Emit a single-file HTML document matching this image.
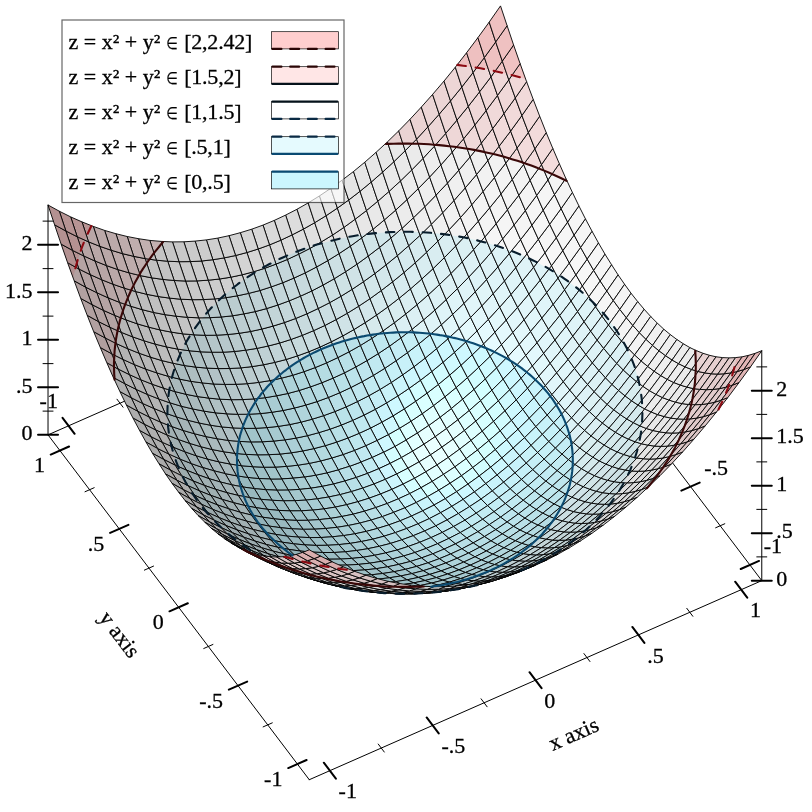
<!DOCTYPE html>
<html><head><meta charset="utf-8"><title>plot</title>
<style>html,body{margin:0;padding:0;background:#fff}svg{display:block}text{font-family:"Liberation Serif",serif;font-size:22px;fill:#000;stroke:#000;stroke-width:0.3px}</style></head><body>
<svg width="812" height="812" viewBox="0 0 812 812">
<rect width="812" height="812" fill="#fff"/>
<g fill="none" stroke="#000" stroke-linecap="round">
<path stroke-width="1" d="M48.03 434.87L500.52 235.78M761.77 580.63L500.52 235.78M123.03 407.19L116.99 399.21M715.64 527.78L724.79 523.75M225.87 361.94L219.84 353.96M656.26 449.4L665.41 445.37M328.71 316.69L322.68 308.71M596.89 371.03L606.04 367M431.56 271.44L425.52 263.46M537.51 292.65L546.66 288.62"/>
<path stroke-width="2" d="M74.63 433.8L62.56 417.85M740.75 568.98L759.05 560.92M177.47 388.55L165.4 372.6M681.37 490.6L699.68 482.55M280.31 343.3L268.24 327.35M622 412.23L640.3 404.17M383.15 298.05L371.08 282.1M562.62 333.85L580.93 325.8M485.99 252.8L473.92 236.85M503.25 255.48L521.55 247.42"/>
</g>
<g><text x="57.9" y="408.2" text-anchor="end">-1</text><text x="763.7" y="553.1">-1</text><text x="704.3" y="474.7">-.5</text></g>
<g stroke="#000000" stroke-width="0.9" stroke-linejoin="round">
<path d="M401.4 457.6L412.7 451.1L406.2 439.9L394.9 446.4Z" fill="#dcffff"/>
<path d="M394.9 446.4L406.2 439.9L399.6 428.2L388.3 434.6Z" fill="#d6ffff"/>
<path d="M406.2 439.9L417.5 433L411 421.2L399.6 428.2Z" fill="#dcffff"/>
<path d="M412.7 451.1L424 444.2L417.5 433L406.2 439.9Z" fill="#e3ffff"/>
<path d="M390.1 463.4L401.4 457.6L394.9 446.4L383.6 452.2Z" fill="#d4fdff"/>
<path d="M383.6 452.2L394.9 446.4L388.3 434.6L377 440.4Z" fill="#cff8ff"/>
<path d="M388.3 434.6L399.6 428.2L393.1 415.8L381.8 422.2Z" fill="#d0f9ff"/>
<path d="M407.9 468.2L419.2 461.8L412.7 451.1L401.4 457.6Z" fill="#e0ffff"/>
<path d="M419.2 461.8L430.6 454.8L424 444.2L412.7 451.1Z" fill="#e7ffff"/>
<path d="M399.6 428.2L411 421.2L404.4 408.8L393.1 415.8Z" fill="#d5ffff"/>
<path d="M417.5 433L428.8 425.4L422.3 413.6L411 421.2Z" fill="#e0ffff"/>
<path d="M424 444.2L435.3 436.6L428.8 425.4L417.5 433Z" fill="#e6ffff"/>
<path d="M377 440.4L388.3 434.6L381.8 422.2L370.5 428.1Z" fill="#caf3fb"/>
<path d="M396.6 474L407.9 468.2L401.4 457.6L390.1 463.4Z" fill="#d7ffff"/>
<path d="M430.6 454.8L441.9 447.2L435.3 436.6L424 444.2Z" fill="#eaffff"/>
<path d="M411 421.2L422.3 413.6L415.7 401.2L404.4 408.8Z" fill="#d8ffff"/>
<path d="M372.2 457.5L383.6 452.2L377 440.4L365.7 445.7Z" fill="#c8f0f8"/>
<path d="M378.8 468.7L390.1 463.4L383.6 452.2L372.2 457.5Z" fill="#cbf4fb"/>
<path d="M381.8 422.2L393.1 415.8L386.6 402.9L375.3 409.3Z" fill="#caf3fb"/>
<path d="M414.5 478.3L425.8 471.8L419.2 461.8L407.9 468.2Z" fill="#e0ffff"/>
<path d="M425.8 471.8L437.1 464.9L430.6 454.8L419.2 461.8Z" fill="#e7ffff"/>
<path d="M393.1 415.8L404.4 408.8L397.9 395.9L386.6 402.9Z" fill="#cef8ff"/>
<path d="M435.3 436.6L446.6 428.5L440.1 417.2L428.8 425.4Z" fill="#e5ffff"/>
<path d="M428.8 425.4L440.1 417.2L433.6 405.5L422.3 413.6Z" fill="#e0ffff"/>
<path d="M385.3 479.3L396.6 474L390.1 463.4L378.8 468.7Z" fill="#cdf6fe"/>
<path d="M365.7 445.7L377 440.4L370.5 428.1L359.2 433.3Z" fill="#c4edf4"/>
<path d="M403.1 484.1L414.5 478.3L407.9 468.2L396.6 474Z" fill="#d7ffff"/>
<path d="M370.5 428.1L381.8 422.2L375.3 409.3L364 415.1Z" fill="#c6eef6"/>
<path d="M437.1 464.9L448.4 457.3L441.9 447.2L430.6 454.8Z" fill="#e9ffff"/>
<path d="M404.4 408.8L415.7 401.2L409.2 388.3L397.9 395.9Z" fill="#d1fbff"/>
<path d="M422.3 413.6L433.6 405.5L427.1 393.1L415.7 401.2Z" fill="#daffff"/>
<path d="M441.9 447.2L453.2 439.1L446.6 428.5L435.3 436.6Z" fill="#e8ffff"/>
<path d="M360.9 462.1L372.2 457.5L365.7 445.7L354.4 450.4Z" fill="#c1e9f1"/>
<path d="M367.5 473.4L378.8 468.7L372.2 457.5L360.9 462.1Z" fill="#c3ecf3"/>
<path d="M359.2 433.3L370.5 428.1L364 415.1L352.6 420.4Z" fill="#c1e9f0"/>
<path d="M391.8 489.4L403.1 484.1L396.6 474L385.3 479.3Z" fill="#cdf6fe"/>
<path d="M421 487.7L432.3 481.3L425.8 471.8L414.5 478.3Z" fill="#dcffff"/>
<path d="M375.3 409.3L386.6 402.9L380.1 389.4L368.7 395.8Z" fill="#c5eef6"/>
<path d="M386.6 402.9L397.9 395.9L391.4 382.4L380.1 389.4Z" fill="#c9f2f9"/>
<path d="M432.3 481.3L443.6 474.3L437.1 464.9L425.8 471.8Z" fill="#e2ffff"/>
<path d="M415.7 401.2L427.1 393.1L420.5 380.2L409.2 388.3Z" fill="#d3fdff"/>
<path d="M448.4 457.3L459.7 449.1L453.2 439.1L441.9 447.2Z" fill="#e7ffff"/>
<path d="M446.6 428.5L458 419.7L451.4 408.5L440.1 417.2Z" fill="#e2ffff"/>
<path d="M440.1 417.2L451.4 408.5L444.9 396.8L433.6 405.5Z" fill="#deffff"/>
<path d="M374 484L385.3 479.3L378.8 468.7L367.5 473.4Z" fill="#c4edf5"/>
<path d="M354.4 450.4L365.7 445.7L359.2 433.3L347.9 438Z" fill="#bfe7ee"/>
<path d="M364 415.1L375.3 409.3L368.7 395.8L357.4 401.6Z" fill="#c2eaf1"/>
<path d="M409.7 493.6L421 487.7L414.5 478.3L403.1 484.1Z" fill="#d4feff"/>
<path d="M443.6 474.3L454.9 466.8L448.4 457.3L437.1 464.9Z" fill="#e3ffff"/>
<path d="M397.9 395.9L409.2 388.3L402.7 374.8L391.4 382.4Z" fill="#ccf5fc"/>
<path d="M453.2 439.1L464.5 430.4L458 419.7L446.6 428.5Z" fill="#e4ffff"/>
<path d="M433.6 405.5L444.9 396.8L438.4 384.4L427.1 393.1Z" fill="#d9ffff"/>
<path d="M347.9 438L359.2 433.3L352.6 420.4L341.3 425.1Z" fill="#bde4eb"/>
<path d="M380.5 494L391.8 489.4L385.3 479.3L374 484Z" fill="#c5eef5"/>
<path d="M398.4 498.8L409.7 493.6L403.1 484.1L391.8 489.4Z" fill="#cbf5fd"/>
<path d="M352.6 420.4L364 415.1L357.4 401.6L346.1 406.9Z" fill="#bee6ed"/>
<path d="M454.9 466.8L466.2 458.6L459.7 449.1L448.4 457.3Z" fill="#e2ffff"/>
<path d="M409.2 388.3L420.5 380.2L414 366.7L402.7 374.8Z" fill="#cdf7fe"/>
<path d="M459.7 449.1L471 440.4L464.5 430.4L453.2 439.1Z" fill="#e2ffff"/>
<path d="M427.1 393.1L438.4 384.4L431.8 371.5L420.5 380.2Z" fill="#d3fdff"/>
<path d="M356.2 477.5L367.5 473.4L360.9 462.1L349.6 466.3Z" fill="#bde5ec"/>
<path d="M349.6 466.3L360.9 462.1L354.4 450.4L343.1 454.5Z" fill="#bce3eb"/>
<path d="M368.7 395.8L380.1 389.4L373.5 375.3L362.2 381.7Z" fill="#c2eaf1"/>
<path d="M427.5 496.6L438.8 490.2L432.3 481.3L421 487.7Z" fill="#d6ffff"/>
<path d="M438.8 490.2L450.1 483.2L443.6 474.3L432.3 481.3Z" fill="#daffff"/>
<path d="M380.1 389.4L391.4 382.4L384.8 368.3L373.5 375.3Z" fill="#c4edf5"/>
<path d="M362.7 488.1L374 484L367.5 473.4L356.2 477.5Z" fill="#bee6ee"/>
<path d="M343.1 454.5L354.4 450.4L347.9 438L336.6 442.1Z" fill="#bae2e9"/>
<path d="M451.4 408.5L462.7 399.2L456.2 387.5L444.9 396.8Z" fill="#dbffff"/>
<path d="M458 419.7L469.3 410.5L462.7 399.2L451.4 408.5Z" fill="#ddffff"/>
<path d="M416.2 502.5L427.5 496.6L421 487.7L409.7 493.6Z" fill="#cff9ff"/>
<path d="M357.4 401.6L368.7 395.8L362.2 381.7L350.9 387.5Z" fill="#bfe6ee"/>
<path d="M391.4 382.4L402.7 374.8L396.1 360.7L384.8 368.3Z" fill="#c7f0f7"/>
<path d="M450.1 483.2L461.5 475.7L454.9 466.8L443.6 474.3Z" fill="#dcffff"/>
<path d="M444.9 396.8L456.2 387.5L449.7 375.1L438.4 384.4Z" fill="#d7ffff"/>
<path d="M464.5 430.4L475.8 421.1L469.3 410.5L458 419.7Z" fill="#deffff"/>
<path d="M387.1 503.5L398.4 498.8L391.8 489.4L380.5 494Z" fill="#c4edf4"/>
<path d="M341.3 425.1L352.6 420.4L346.1 406.9L334.8 411.6Z" fill="#bae2e9"/>
<path d="M466.2 458.6L477.6 449.9L471 440.4L459.7 449.1Z" fill="#deffff"/>
<path d="M420.5 380.2L431.8 371.5L425.3 358L414 366.7Z" fill="#cef7ff"/>
<path d="M369.2 498.2L380.5 494L374 484L362.7 488.1Z" fill="#bee7ee"/>
<path d="M336.6 442.1L347.9 438L341.3 425.1L330 429.2Z" fill="#b9e0e7"/>
<path d="M404.9 507.8L416.2 502.5L409.7 493.6L398.4 498.8Z" fill="#c8f2fa"/>
<path d="M346.1 406.9L357.4 401.6L350.9 387.5L339.6 392.8Z" fill="#bce3ea"/>
<path d="M461.5 475.7L472.8 467.5L466.2 458.6L454.9 466.8Z" fill="#dbffff"/>
<path d="M402.7 374.8L414 366.7L407.5 352.6L396.1 360.7Z" fill="#c8f1f9"/>
<path d="M471 440.4L482.3 431.1L475.8 421.1L464.5 430.4Z" fill="#ddffff"/>
<path d="M438.4 384.4L449.7 375.1L443.1 362.2L431.8 371.5Z" fill="#d2fcff"/>
<path d="M338.3 469.8L349.6 466.3L343.1 454.5L331.8 458Z" fill="#b8dee6"/>
<path d="M344.8 481L356.2 477.5L349.6 466.3L338.3 469.8Z" fill="#b8dfe7"/>
<path d="M434.1 505L445.4 498.6L438.8 490.2L427.5 496.6Z" fill="#cff9ff"/>
<path d="M362.2 381.7L373.5 375.3L367 360.6L355.7 367Z" fill="#bfe6ee"/>
<path d="M373.5 375.3L384.8 368.3L378.3 353.6L367 360.6Z" fill="#c1e9f1"/>
<path d="M445.4 498.6L456.7 491.6L450.1 483.2L438.8 490.2Z" fill="#d2fdff"/>
<path d="M351.4 491.6L362.7 488.1L356.2 477.5L344.8 481Z" fill="#b9e0e8"/>
<path d="M331.8 458L343.1 454.5L336.6 442.1L325.2 445.7Z" fill="#b6dde4"/>
<path d="M330 429.2L341.3 425.1L334.8 411.6L323.5 415.7Z" fill="#b7dee5"/>
<path d="M375.7 507.6L387.1 503.5L380.5 494L369.2 498.2Z" fill="#bee6ee"/>
<path d="M393.6 512.4L404.9 507.8L398.4 498.8L387.1 503.5Z" fill="#c2ebf3"/>
<path d="M334.8 411.6L346.1 406.9L339.6 392.8L328.3 397.5Z" fill="#b9dfe7"/>
<path d="M462.7 399.2L474.1 389.4L467.5 377.6L456.2 387.5Z" fill="#d7ffff"/>
<path d="M469.3 410.5L480.6 400.6L474.1 389.4L462.7 399.2Z" fill="#d9ffff"/>
<path d="M422.7 510.8L434.1 505L427.5 496.6L416.2 502.5Z" fill="#caf4fc"/>
<path d="M350.9 387.5L362.2 381.7L355.7 367L344.4 372.9Z" fill="#bce4eb"/>
<path d="M456.7 491.6L468 484L461.5 475.7L450.1 483.2Z" fill="#d4feff"/>
<path d="M384.8 368.3L396.1 360.7L389.6 346.1L378.3 353.6Z" fill="#c3ebf3"/>
<path d="M414 366.7L425.3 358L418.8 343.9L407.5 352.6Z" fill="#c9f3fa"/>
<path d="M472.8 467.5L484.1 458.8L477.6 449.9L466.2 458.6Z" fill="#d8ffff"/>
<path d="M477.6 449.9L488.9 440.6L482.3 431.1L471 440.4Z" fill="#d9ffff"/>
<path d="M431.8 371.5L443.1 362.2L436.6 348.7L425.3 358Z" fill="#cef7ff"/>
<path d="M475.8 421.1L487.1 411.2L480.6 400.6L469.3 410.5Z" fill="#d9ffff"/>
<path d="M456.2 387.5L467.5 377.6L461 365.2L449.7 375.1Z" fill="#d4feff"/>
<path d="M357.9 501.7L369.2 498.2L362.7 488.1L351.4 491.6Z" fill="#b9e1e8"/>
<path d="M325.2 445.7L336.6 442.1L330 429.2L318.7 432.7Z" fill="#b5dbe3"/>
<path d="M339.6 392.8L350.9 387.5L344.4 372.9L333.1 378.1Z" fill="#b9e1e8"/>
<path d="M411.4 516.1L422.7 510.8L416.2 502.5L404.9 507.8Z" fill="#c5eff6"/>
<path d="M468 484L479.3 475.9L472.8 467.5L461.5 475.7Z" fill="#d3feff"/>
<path d="M396.1 360.7L407.5 352.6L400.9 337.9L389.6 346.1Z" fill="#c5edf5"/>
<path d="M449.7 375.1L461 365.2L454.5 352.3L443.1 362.2Z" fill="#d0faff"/>
<path d="M482.3 431.1L493.6 421.3L487.1 411.2L475.8 421.1Z" fill="#d7ffff"/>
<path d="M382.3 516.6L393.6 512.4L387.1 503.5L375.7 507.6Z" fill="#bde5ed"/>
<path d="M323.5 415.7L334.8 411.6L328.3 397.5L317 401.6Z" fill="#b6dce3"/>
<path d="M333.5 484L344.8 481L338.3 469.8L327 472.8Z" fill="#b4dae2"/>
<path d="M327 472.8L338.3 469.8L331.8 458L320.5 461Z" fill="#b4dae1"/>
<path d="M364.4 511.2L375.7 507.6L369.2 498.2L357.9 501.7Z" fill="#b9e0e8"/>
<path d="M318.7 432.7L330 429.2L323.5 415.7L312.2 419.2Z" fill="#b4dae1"/>
<path d="M484.1 458.8L495.4 449.5L488.9 440.6L477.6 449.9Z" fill="#d5ffff"/>
<path d="M425.3 358L436.6 348.7L430.1 334.6L418.8 343.9Z" fill="#caf3fb"/>
<path d="M400.1 520.8L411.4 516.1L404.9 507.8L393.6 512.4Z" fill="#c1e9f1"/>
<path d="M328.3 397.5L339.6 392.8L333.1 378.1L321.7 382.8Z" fill="#b7dde5"/>
<path d="M440.6 512.7L451.9 506.3L445.4 498.6L434.1 505Z" fill="#c9f3fb"/>
<path d="M355.7 367L367 360.6L360.5 345.4L349.1 351.8Z" fill="#bce4eb"/>
<path d="M451.9 506.3L463.2 499.3L456.7 491.6L445.4 498.6Z" fill="#ccf6fe"/>
<path d="M367 360.6L378.3 353.6L371.8 338.4L360.5 345.4Z" fill="#bee6ed"/>
<path d="M340.1 494.6L351.4 491.6L344.8 481L333.5 484Z" fill="#b5dbe2"/>
<path d="M320.5 461L331.8 458L325.2 445.7L313.9 448.6Z" fill="#b3d9e0"/>
<path d="M479.3 475.9L490.6 467.2L484.1 458.8L472.8 467.5Z" fill="#d2fdff"/>
<path d="M407.5 352.6L418.8 343.9L412.2 329.2L400.9 337.9Z" fill="#c6eff6" stroke="none"/>
<path d="M413.7 332.5L412.2 329.2L408.1 332.4Z" fill="#def3f7" stroke="none"/>
<path d="M407.5 352.6L418.8 343.9L412.2 329.2L400.9 337.9Z" fill="none"/>
<path d="M488.9 440.6L500.2 430.8L493.6 421.3L482.3 431.1Z" fill="#d5ffff"/>
<path d="M443.1 362.2L454.5 352.3L447.9 338.8L436.6 348.7Z" fill="#cdf7fe"/>
<path d="M474.1 389.4L485.4 378.9L478.8 367.2L467.5 377.6Z" fill="#d3fdff"/>
<path d="M480.6 400.6L491.9 390.2L485.4 378.9L474.1 389.4Z" fill="#d4ffff"/>
<path d="M429.3 518.6L440.6 512.7L434.1 505L422.7 510.8Z" fill="#c6f0f7"/>
<path d="M344.4 372.9L355.7 367L349.1 351.8L337.8 357.6Z" fill="#bae1e8"/>
<path d="M463.2 499.3L474.5 491.8L468 484L456.7 491.6Z" fill="#cdf8ff"/>
<path d="M378.3 353.6L389.6 346.1L383.1 330.8L371.8 338.4Z" fill="#c0e8f0" stroke="none"/>
<path d="M384.1 333.3L383.1 330.8L378.4 334Z" fill="#d8ecf0" stroke="none"/>
<path d="M378.3 353.6L389.6 346.1L383.1 330.8L371.8 338.4Z" fill="none"/>
<path d="M467.5 377.6L478.8 367.2L472.3 354.8L461 365.2Z" fill="#d1fbff"/>
<path d="M487.1 411.2L498.4 400.8L491.9 390.2L480.6 400.6Z" fill="#d4ffff"/>
<path d="M346.6 504.7L357.9 501.7L351.4 491.6L340.1 494.6Z" fill="#b5dbe2"/>
<path d="M313.9 448.6L325.2 445.7L318.7 432.7L307.4 435.7Z" fill="#b2d7de"/>
<path d="M418 523.8L429.3 518.6L422.7 510.8L411.4 516.1Z" fill="#c2ebf3"/>
<path d="M333.1 378.1L344.4 372.9L337.8 357.6L326.5 362.9Z" fill="#b8dee6"/>
<path d="M474.5 491.8L485.8 483.6L479.3 475.9L468 484Z" fill="#cef8ff"/>
<path d="M389.6 346.1L400.9 337.9L394.4 322.7L383.1 330.8Z" fill="#c1eaf1" stroke="none"/>
<path d="M398.6 332.4L394.4 322.7L383.1 330.8L384.1 333.3Z" fill="#daeef2" stroke="none"/>
<path d="M389.6 346.1L400.9 337.9L394.4 322.7L383.1 330.8Z" fill="none"/>
<path d="M312.2 419.2L323.5 415.7L317 401.6L305.7 405.1Z" fill="#b3d8df"/>
<path d="M371 520.1L382.3 516.6L375.7 507.6L364.4 511.2Z" fill="#b9e0e7"/>
<path d="M388.8 524.9L400.1 520.8L393.6 512.4L382.3 516.6Z" fill="#bce4eb"/>
<path d="M317 401.6L328.3 397.5L321.7 382.8L310.4 386.9Z" fill="#b4dae1"/>
<path d="M493.6 421.3L505 410.8L498.4 400.8L487.1 411.2Z" fill="#d3feff"/>
<path d="M461 365.2L472.3 354.8L465.8 341.9L454.5 352.3Z" fill="#cef8ff"/>
<path d="M490.6 467.2L501.9 457.9L495.4 449.5L484.1 458.8Z" fill="#d0fbff"/>
<path d="M418.8 343.9L430.1 334.6L423.6 319.9L412.2 329.2Z" fill="#c6eff7" stroke="none"/>
<path d="M429.7 333.7L423.6 319.9L412.2 329.2L413.7 332.5Z" fill="#dff4f7" stroke="none"/>
<path d="M418.8 343.9L430.1 334.6L423.6 319.9L412.2 329.2Z" fill="none"/>
<path d="M495.4 449.5L506.7 439.7L500.2 430.8L488.9 440.6Z" fill="#d1fcff"/>
<path d="M436.6 348.7L447.9 338.8L441.4 324.7L430.1 334.6Z" fill="#caf3fb" stroke="none"/>
<path d="M446.8 336.4L441.4 324.7L430.9 333.8Z" fill="#e3f7fb" stroke="none"/>
<path d="M436.6 348.7L447.9 338.8L441.4 324.7L430.1 334.6Z" fill="none"/>
<path d="M353.1 514.2L364.4 511.2L357.9 501.7L346.6 504.7Z" fill="#b5dbe2"/>
<path d="M307.4 435.7L318.7 432.7L312.2 419.2L300.9 422.2Z" fill="#b1d6dd"/>
<path d="M406.7 528.5L418 523.8L411.4 516.1L400.1 520.8Z" fill="#bfe7ee"/>
<path d="M321.7 382.8L333.1 378.1L326.5 362.9L315.2 367.6Z" fill="#b5dce3"/>
<path d="M322.2 486.4L333.5 484L327 472.8L315.7 475.2Z" fill="#b0d6dc"/>
<path d="M315.7 475.2L327 472.8L320.5 461L309.2 463.4Z" fill="#b0d5dc"/>
<path d="M485.8 483.6L497.1 474.9L490.6 467.2L479.3 475.9Z" fill="#cdf8ff"/>
<path d="M400.9 337.9L412.2 329.2L405.7 314L394.4 322.7Z" fill="#c3ebf3" stroke="none"/>
<path d="M408.1 332.4L412.2 329.2L405.7 314L394.4 322.7L398.6 332.4Z" fill="#dbeff3" stroke="none"/>
<path d="M400.9 337.9L412.2 329.2L405.7 314L394.4 322.7Z" fill="none"/>
<path d="M500.2 430.8L511.5 420.3L505 410.8L493.6 421.3Z" fill="#d1fcff"/>
<path d="M454.5 352.3L465.8 341.9L459.2 328.4L447.9 338.8Z" fill="#ccf5fd" stroke="none"/>
<path d="M465.3 340.9L459.2 328.4L449.9 337Z" fill="#e5fafe" stroke="none"/>
<path d="M454.5 352.3L465.8 341.9L459.2 328.4L447.9 338.8Z" fill="none"/>
<path d="M447.1 519.9L458.4 513.5L451.9 506.3L440.6 512.7Z" fill="#c5eff7"/>
<path d="M349.1 351.8L360.5 345.4L353.9 329.6L342.6 336Z" fill="#bae1e9" stroke="none"/>
<path d="M357.3 337.6L353.9 329.6L342.6 336L344.6 340.9Z" fill="#d2e5e9" stroke="none"/>
<path d="M349.1 351.8L360.5 345.4L353.9 329.6L342.6 336Z" fill="none"/>
<path d="M458.4 513.5L469.7 506.5L463.2 499.3L451.9 506.3Z" fill="#c7f1f9"/>
<path d="M360.5 345.4L371.8 338.4L365.2 322.6L353.9 329.6Z" fill="#bce3eb" stroke="none"/>
<path d="M370.4 335.1L365.2 322.6L353.9 329.6L357.3 337.6Z" fill="#d4e8eb" stroke="none"/>
<path d="M360.5 345.4L371.8 338.4L365.2 322.6L353.9 329.6Z" fill="none"/>
<path d="M328.7 497L340.1 494.6L333.5 484L322.2 486.4Z" fill="#b1d6dd"/>
<path d="M309.2 463.4L320.5 461L313.9 448.6L302.6 451Z" fill="#afd4db"/>
<path d="M435.8 525.8L447.1 519.9L440.6 512.7L429.3 518.6Z" fill="#c3ecf4"/>
<path d="M337.8 357.6L349.1 351.8L342.6 336L331.3 341.8Z" fill="#b8dfe6" stroke="none"/>
<path d="M344.6 340.9L342.6 336L331.3 341.8L332.5 344.8Z" fill="#d0e3e7" stroke="none"/>
<path d="M337.8 357.6L349.1 351.8L342.6 336L331.3 341.8Z" fill="none"/>
<path d="M485.4 378.9L496.7 367.9L490.1 356.2L478.8 367.2Z" fill="#d0faff"/>
<path d="M491.9 390.2L503.2 379.1L496.7 367.9L485.4 378.9Z" fill="#d0fbff"/>
<path d="M469.7 506.5L481.1 499L474.5 491.8L463.2 499.3Z" fill="#c9f3fb"/>
<path d="M371.8 338.4L383.1 330.8L376.6 315L365.2 322.6Z" fill="#bee5ed" stroke="none"/>
<path d="M378.4 334L383.1 330.8L376.6 315L365.2 322.6L370.4 335.1Z" fill="#d6eaed" stroke="none"/>
<path d="M371.8 338.4L383.1 330.8L376.6 315L365.2 322.6Z" fill="none"/>
<path d="M377.5 528.4L388.8 524.9L382.3 516.6L371 520.1Z" fill="#b8dfe6"/>
<path d="M305.7 405.1L317 401.6L310.4 386.9L299.1 390.5Z" fill="#b1d7de"/>
<path d="M498.4 400.8L509.7 389.8L503.2 379.1L491.9 390.2Z" fill="#d0fbff"/>
<path d="M478.8 367.2L490.1 356.2L483.6 343.8L472.3 354.8Z" fill="#cef9ff" stroke="none"/>
<path d="M486 348.3L483.6 343.8L481.1 346.3Z" fill="#e8fdff" stroke="none"/>
<path d="M478.8 367.2L490.1 356.2L483.6 343.8L472.3 354.8Z" fill="none"/>
<path d="M335.3 507.1L346.6 504.7L340.1 494.6L328.7 497Z" fill="#b1d6dd"/>
<path d="M302.6 451L313.9 448.6L307.4 435.7L296.1 438.1Z" fill="#aed3da"/>
<path d="M359.7 523.1L371 520.1L364.4 511.2L353.1 514.2Z" fill="#b4dae2"/>
<path d="M300.9 422.2L312.2 419.2L305.7 405.1L294.3 408.1Z" fill="#b0d5dc"/>
<path d="M395.3 532.6L406.7 528.5L400.1 520.8L388.8 524.9Z" fill="#bbe2e9"/>
<path d="M310.4 386.9L321.7 382.8L315.2 367.6L303.9 371.7Z" fill="#b3d9e0"/>
<path d="M501.9 457.9L513.2 448L506.7 439.7L495.4 449.5Z" fill="#cef9ff"/>
<path d="M430.1 334.6L441.4 324.7L434.9 310.1L423.6 319.9Z" fill="#c7f0f7" stroke="none"/>
<path d="M430.9 333.8L441.4 324.7L434.9 310.1L423.6 319.9L429.7 333.7Z" fill="#dff4f8" stroke="none"/>
<path d="M430.1 334.6L441.4 324.7L434.9 310.1L423.6 319.9Z" fill="none"/>
<path d="M424.5 531L435.8 525.8L429.3 518.6L418 523.8Z" fill="#c0e8f0"/>
<path d="M326.5 362.9L337.8 357.6L331.3 341.8L320 347.1Z" fill="#b6dce4" stroke="none"/>
<path d="M332.5 344.8L331.3 341.8L320 347.1L321 349.5Z" fill="#cde1e4" stroke="none"/>
<path d="M326.5 362.9L337.8 357.6L331.3 341.8L320 347.1Z" fill="none"/>
<path d="M481.1 499L492.4 490.8L485.8 483.6L474.5 491.8Z" fill="#c9f3fb"/>
<path d="M383.1 330.8L394.4 322.7L387.9 306.9L376.6 315Z" fill="#d7ebef"/>
<path d="M497.1 474.9L508.5 465.6L501.9 457.9L490.6 467.2Z" fill="#ccf7fe"/>
<path d="M412.2 329.2L423.6 319.9L417 304.7L405.7 314Z" fill="#dcf0f4"/>
<path d="M506.7 439.7L518 429.2L511.5 420.3L500.2 430.8Z" fill="#cff9ff"/>
<path d="M447.9 338.8L459.2 328.4L452.7 314.3L441.4 324.7Z" fill="#c9f2fa" stroke="none"/>
<path d="M449.9 337L459.2 328.4L452.7 314.3L441.4 324.7L446.8 336.4Z" fill="#e2f7fb" stroke="none"/>
<path d="M447.9 338.8L459.2 328.4L452.7 314.3L441.4 324.7Z" fill="none"/>
<path d="M505 410.8L516.3 399.8L509.7 389.8L498.4 400.8Z" fill="#d0faff"/>
<path d="M472.3 354.8L483.6 343.8L477.1 330.9L465.8 341.9Z" fill="#cdf6fe" stroke="none"/>
<path d="M481.1 346.3L483.6 343.8L477.1 330.9L466.5 341.2Z" fill="#e6fbff" stroke="none"/>
<path d="M472.3 354.8L483.6 343.8L477.1 330.9L465.8 341.9Z" fill="none"/>
<path d="M341.8 516.5L353.1 514.2L346.6 504.7L335.3 507.1Z" fill="#b0d6dd"/>
<path d="M296.1 438.1L307.4 435.7L300.9 422.2L289.6 424.6Z" fill="#aed2d9"/>
<path d="M413.2 535.7L424.5 531L418 523.8L406.7 528.5Z" fill="#bce4ec"/>
<path d="M315.2 367.6L326.5 362.9L320 347.1L308.7 351.8Z" fill="#b4dae1" stroke="none"/>
<path d="M321 349.5L320 347.1L308.7 351.8L309.9 354.8Z" fill="#cbdee1" stroke="none"/>
<path d="M315.2 367.6L326.5 362.9L320 347.1L308.7 351.8Z" fill="none"/>
<path d="M492.4 490.8L503.7 482.1L497.1 474.9L485.8 483.6Z" fill="#c9f3fb"/>
<path d="M394.4 322.7L405.7 314L399.2 298.2L387.9 306.9Z" fill="#d9edf0"/>
<path d="M511.5 420.3L522.8 409.3L516.3 399.8L505 410.8Z" fill="#cef9ff"/>
<path d="M465.8 341.9L477.1 330.9L470.6 317.4L459.2 328.4Z" fill="#caf4fc" stroke="none"/>
<path d="M466.5 341.2L477.1 330.9L470.6 317.4L459.2 328.4L465.3 340.9Z" fill="#e4f9fc" stroke="none"/>
<path d="M465.8 341.9L477.1 330.9L470.6 317.4L459.2 328.4Z" fill="none"/>
<path d="M310.9 488.2L322.2 486.4L315.7 475.2L304.4 477Z" fill="#acd1d8"/>
<path d="M304.4 477L315.7 475.2L309.2 463.4L297.8 465.2Z" fill="#acd0d7"/>
<path d="M294.3 408.1L305.7 405.1L299.1 390.5L287.8 393.5Z" fill="#afd4db"/>
<path d="M366.2 531.4L377.5 528.4L371 520.1L359.7 523.1Z" fill="#b3d9e1"/>
<path d="M384 536.2L395.3 532.6L388.8 524.9L377.5 528.4Z" fill="#b6dde4"/>
<path d="M299.1 390.5L310.4 386.9L303.9 371.7L292.6 375.3Z" fill="#b0d6dd"/>
<path d="M453.6 526.5L465 520.1L458.4 513.5L447.1 519.9Z" fill="#c2ebf3"/>
<path d="M342.6 336L353.9 329.6L347.4 313.2L336.1 319.6Z" fill="#d0e3e7"/>
<path d="M317.4 498.8L328.7 497L322.2 486.4L310.9 488.2Z" fill="#acd1d8"/>
<path d="M297.8 465.2L309.2 463.4L302.6 451L291.3 452.8Z" fill="#acd0d7"/>
<path d="M465 520.1L476.3 513.1L469.7 506.5L458.4 513.5Z" fill="#c4edf5"/>
<path d="M353.9 329.6L365.2 322.6L358.7 306.2L347.4 313.2Z" fill="#d2e5e9"/>
<path d="M508.5 465.6L519.8 455.8L513.2 448L501.9 457.9Z" fill="#cbf5fd"/>
<path d="M423.6 319.9L434.9 310.1L428.3 294.8L417 304.7Z" fill="#ddf1f5"/>
<path d="M513.2 448L524.6 437.6L518 429.2L506.7 439.7Z" fill="#ccf7fe"/>
<path d="M441.4 324.7L452.7 314.3L446.2 299.6L434.9 310.1Z" fill="#dff4f8"/>
<path d="M442.3 532.4L453.6 526.5L447.1 519.9L435.8 525.8Z" fill="#c0e9f0"/>
<path d="M331.3 341.8L342.6 336L336.1 319.6L324.8 325.5Z" fill="#cee1e5"/>
<path d="M496.7 367.9L508 356.3L501.5 344.6L490.1 356.2Z" fill="#cdf7ff" stroke="none"/>
<path d="M506.2 358.2L508 356.3L501.5 344.6L494.2 352Z" fill="#e7fcff" stroke="none"/>
<path d="M496.7 367.9L508 356.3L501.5 344.6L490.1 356.2Z" fill="none"/>
<path d="M503.2 379.1L514.5 367.6L508 356.3L496.7 367.9Z" fill="#cef8ff" stroke="none"/>
<path d="M510.7 361L508 356.3L506.2 358.2Z" fill="#e7fcff" stroke="none"/>
<path d="M503.2 379.1L514.5 367.6L508 356.3L496.7 367.9Z" fill="none"/>
<path d="M348.3 525.5L359.7 523.1L353.1 514.2L341.8 516.5Z" fill="#b0d5dc"/>
<path d="M289.6 424.6L300.9 422.2L294.3 408.1L283 410.5Z" fill="#add1d8"/>
<path d="M476.3 513.1L487.6 505.6L481.1 499L469.7 506.5Z" fill="#c5eff7"/>
<path d="M365.2 322.6L376.6 315L370 298.7L358.7 306.2Z" fill="#d3e7eb"/>
<path d="M401.9 539.8L413.2 535.7L406.7 528.5L395.3 532.6Z" fill="#b9e0e7"/>
<path d="M303.9 371.7L315.2 367.6L308.7 351.8L297.4 355.9Z" fill="#b2d7de" stroke="none"/>
<path d="M309.9 354.8L308.7 351.8L297.4 355.9L299.4 360.8Z" fill="#c8dbdf" stroke="none"/>
<path d="M303.9 371.7L315.2 367.6L308.7 351.8L297.4 355.9Z" fill="none"/>
<path d="M509.7 389.8L521.1 378.2L514.5 367.6L503.2 379.1Z" fill="#cdf8ff"/>
<path d="M490.1 356.2L501.5 344.6L494.9 332.2L483.6 343.8Z" fill="#ccf6fe" stroke="none"/>
<path d="M494.2 352L501.5 344.6L494.9 332.2L483.6 343.8L486 348.3Z" fill="#e6fbff" stroke="none"/>
<path d="M490.1 356.2L501.5 344.6L494.9 332.2L483.6 343.8Z" fill="none"/>
<path d="M324 508.9L335.3 507.1L328.7 497L317.4 498.8Z" fill="#acd1d8"/>
<path d="M291.3 452.8L302.6 451L296.1 438.1L284.8 439.9Z" fill="#abcfd6"/>
<path d="M503.7 482.1L515 472.8L508.5 465.6L497.1 474.9Z" fill="#c9f3fb"/>
<path d="M405.7 314L417 304.7L410.5 288.9L399.2 298.2Z" fill="#daeef1"/>
<path d="M431 537.6L442.3 532.4L435.8 525.8L424.5 531Z" fill="#bde5ed"/>
<path d="M320 347.1L331.3 341.8L324.8 325.5L313.5 330.7Z" fill="#ccdfe2"/>
<path d="M518 429.2L529.3 418.2L522.8 409.3L511.5 420.3Z" fill="#ccf7ff"/>
<path d="M459.2 328.4L470.6 317.4L464 303.3L452.7 314.3Z" fill="#e1f6fa"/>
<path d="M487.6 505.6L498.9 497.4L492.4 490.8L481.1 499Z" fill="#c6f0f8"/>
<path d="M376.6 315L387.9 306.9L381.3 290.5L370 298.7Z" fill="#d5e9ed"/>
<path d="M516.3 399.8L527.6 388.2L521.1 378.2L509.7 389.8Z" fill="#cdf7ff"/>
<path d="M483.6 343.8L494.9 332.2L488.4 319.3L477.1 330.9Z" fill="#e4f9fd"/>
<path d="M284.8 439.9L296.1 438.1L289.6 424.6L278.2 426.4Z" fill="#aaced5"/>
<path d="M330.5 518.4L341.8 516.5L335.3 507.1L324 508.9Z" fill="#acd1d7"/>
<path d="M372.7 539.2L384 536.2L377.5 528.4L366.2 531.4Z" fill="#b2d8df"/>
<path d="M287.8 393.5L299.1 390.5L292.6 375.3L281.3 378.2Z" fill="#aed3d9"/>
<path d="M419.7 542.3L431 537.6L424.5 531L413.2 535.7Z" fill="#bae2e9"/>
<path d="M308.7 351.8L320 347.1L313.5 330.7L302.2 335.4Z" fill="#c9dce0"/>
<path d="M354.9 533.8L366.2 531.4L359.7 523.1L348.3 525.5Z" fill="#afd4db"/>
<path d="M283 410.5L294.3 408.1L287.8 393.5L276.5 395.8Z" fill="#acd0d7"/>
<path d="M390.6 543.4L401.9 539.8L395.3 532.6L384 536.2Z" fill="#b5dbe2"/>
<path d="M292.6 375.3L303.9 371.7L297.4 355.9L286.1 359.5Z" fill="#afd4db" stroke="none"/>
<path d="M299.4 360.8L297.4 355.9L286.1 359.5L289.4 367.5Z" fill="#c6d8dc" stroke="none"/>
<path d="M292.6 375.3L303.9 371.7L297.4 355.9L286.1 359.5Z" fill="none"/>
<path d="M498.9 497.4L510.2 488.7L503.7 482.1L492.4 490.8Z" fill="#c6f0f8"/>
<path d="M387.9 306.9L399.2 298.2L392.6 281.8L381.3 290.5Z" fill="#d6eaee"/>
<path d="M519.8 455.8L531.1 445.3L524.6 437.6L513.2 448Z" fill="#caf4fc"/>
<path d="M434.9 310.1L446.2 299.6L439.6 284.4L428.3 294.8Z" fill="#ddf1f5"/>
<path d="M522.8 409.3L534.1 397.7L527.6 388.2L516.3 399.8Z" fill="#ccf6fe"/>
<path d="M477.1 330.9L488.4 319.3L481.9 305.8L470.6 317.4Z" fill="#e2f7fb"/>
<path d="M515 472.8L526.3 463L519.8 455.8L508.5 465.6Z" fill="#c8f2fa"/>
<path d="M417 304.7L428.3 294.8L421.8 279L410.5 288.9Z" fill="#daeff2"/>
<path d="M524.6 437.6L535.9 426.6L529.3 418.2L518 429.2Z" fill="#caf5fd"/>
<path d="M452.7 314.3L464 303.3L457.5 288.6L446.2 299.6Z" fill="#dff4f8"/>
<path d="M293.1 478.2L304.4 477L297.8 465.2L286.5 466.4Z" fill="#a8ccd3"/>
<path d="M299.6 489.4L310.9 488.2L304.4 477L293.1 478.2Z" fill="#a9ccd3"/>
<path d="M286.5 466.4L297.8 465.2L291.3 452.8L280 454.1Z" fill="#a8ccd2"/>
<path d="M306.1 500.1L317.4 498.8L310.9 488.2L299.6 489.4Z" fill="#a9ccd3"/>
<path d="M460.2 532.6L471.5 526.2L465 520.1L453.6 526.5Z" fill="#bfe8f0"/>
<path d="M336.1 319.6L347.4 313.2L340.9 296.3L329.6 302.7Z" fill="#cee1e5"/>
<path d="M337 527.3L348.3 525.5L341.8 516.5L330.5 518.4Z" fill="#acd0d7"/>
<path d="M278.2 426.4L289.6 424.6L283 410.5L271.7 412.3Z" fill="#aaced4"/>
<path d="M471.5 526.2L482.8 519.2L476.3 513.1L465 520.1Z" fill="#c1eaf2"/>
<path d="M347.4 313.2L358.7 306.2L352.2 289.3L340.9 296.3Z" fill="#d0e3e7"/>
<path d="M408.4 546.4L419.7 542.3L413.2 535.7L401.9 539.8Z" fill="#b7dde5"/>
<path d="M297.4 355.9L308.7 351.8L302.2 335.4L290.8 339.5Z" fill="#c7dadd"/>
<path d="M448.9 538.4L460.2 532.6L453.6 526.5L442.3 532.4Z" fill="#bde5ed"/>
<path d="M324.8 325.5L336.1 319.6L329.6 302.7L318.2 308.5Z" fill="#ccdfe3"/>
<path d="M514.5 367.6L525.8 355.4L519.3 344.2L508 356.3Z" fill="#cbf5fd" stroke="none"/>
<path d="M516.9 365L525.8 355.4L519.3 344.2L508 356.3L510.7 361Z" fill="#e5fafe" stroke="none"/>
<path d="M514.5 367.6L525.8 355.4L519.3 344.2L508 356.3Z" fill="none"/>
<path d="M508 356.3L519.3 344.2L512.8 332.4L501.5 344.6Z" fill="#e4fafd"/>
<path d="M358.7 306.2L370 298.7L363.5 281.7L352.2 289.3Z" fill="#d2e5e9"/>
<path d="M482.8 519.2L494.1 511.6L487.6 505.6L476.3 513.1Z" fill="#c2ecf3"/>
<path d="M510.2 488.7L521.5 479.4L515 472.8L503.7 482.1Z" fill="#c6f0f8"/>
<path d="M399.2 298.2L410.5 288.9L404 272.5L392.6 281.8Z" fill="#d7ebef"/>
<path d="M312.7 510.1L324 508.9L317.4 498.8L306.1 500.1Z" fill="#a8ccd3"/>
<path d="M280 454.1L291.3 452.8L284.8 439.9L273.5 441.1Z" fill="#a8cbd2"/>
<path d="M470.6 317.4L481.9 305.8L475.3 291.7L464 303.3Z" fill="#e1f5f9"/>
<path d="M529.3 418.2L540.6 406.6L534.1 397.7L522.8 409.3Z" fill="#caf5fd"/>
<path d="M501.5 344.6L512.8 332.4L506.2 320L494.9 332.2Z" fill="#e4f9fd"/>
<path d="M521.1 378.2L532.4 366L525.8 355.4L514.5 367.6Z" fill="#cbf5fd" stroke="none"/>
<path d="M526.6 372.2L532.4 366L525.8 355.4L516.9 365Z" fill="#e5fafe" stroke="none"/>
<path d="M521.1 378.2L532.4 366L525.8 355.4L514.5 367.6Z" fill="none"/>
<path d="M437.6 543.7L448.9 538.4L442.3 532.4L431 537.6Z" fill="#bbe2ea"/>
<path d="M313.5 330.7L324.8 325.5L318.2 308.5L306.9 313.8Z" fill="#cadde1"/>
<path d="M361.4 541.5L372.7 539.2L366.2 531.4L354.9 533.8Z" fill="#aed3da"/>
<path d="M276.5 395.8L287.8 393.5L281.3 378.2L270 380.6Z" fill="#abcfd6" stroke="none"/>
<path d="M274.6 379.6L270 380.6L271 383.1Z" fill="#c1d3d7" stroke="none"/>
<path d="M276.5 395.8L287.8 393.5L281.3 378.2L270 380.6Z" fill="none"/>
<path d="M379.2 546.3L390.6 543.4L384 536.2L372.7 539.2Z" fill="#b1d6dd"/>
<path d="M281.3 378.2L292.6 375.3L286.1 359.5L274.7 362.4Z" fill="#add1d8" stroke="none"/>
<path d="M289.4 367.5L286.1 359.5L274.7 362.4L279.9 374.9Z" fill="#c3d5d9" stroke="none"/>
<path d="M281.3 378.2L292.6 375.3L286.1 359.5L274.7 362.4Z" fill="none"/>
<path d="M494.1 511.6L505.4 503.5L498.9 497.4L487.6 505.6Z" fill="#c3edf4"/>
<path d="M370 298.7L381.3 290.5L374.8 273.6L363.5 281.7Z" fill="#d3e7ea"/>
<path d="M527.6 388.2L538.9 376.1L532.4 366L521.1 378.2Z" fill="#cbf5fd" stroke="none"/>
<path d="M535.4 379.8L538.9 376.1L532.4 366L526.6 372.2Z" fill="#e4f9fd" stroke="none"/>
<path d="M527.6 388.2L538.9 376.1L532.4 366L521.1 378.2Z" fill="none"/>
<path d="M494.9 332.2L506.2 320L499.7 307.1L488.4 319.3Z" fill="#e3f8fb"/>
<path d="M526.3 463L537.6 452.5L531.1 445.3L519.8 455.8Z" fill="#c8f2f9"/>
<path d="M428.3 294.8L439.6 284.4L433.1 268.6L421.8 279Z" fill="#dbeff3"/>
<path d="M531.1 445.3L542.4 434.3L535.9 426.6L524.6 437.6Z" fill="#c9f3fb"/>
<path d="M446.2 299.6L457.5 288.6L451 273.4L439.6 284.4Z" fill="#ddf1f5"/>
<path d="M273.5 441.1L284.8 439.9L278.2 426.4L266.9 427.6Z" fill="#a7cbd1"/>
<path d="M319.2 519.6L330.5 518.4L324 508.9L312.7 510.1Z" fill="#a8ccd2"/>
<path d="M343.6 535.6L354.9 533.8L348.3 525.5L337 527.3Z" fill="#abcfd6"/>
<path d="M271.7 412.3L283 410.5L276.5 395.8L265.2 397.7Z" fill="#a9cdd4"/>
<path d="M397.1 550L408.4 546.4L401.9 539.8L390.6 543.4Z" fill="#b3d9e0"/>
<path d="M286.1 359.5L297.4 355.9L290.8 339.5L279.5 343.1Z" fill="#c5d7da"/>
<path d="M302.2 335.4L313.5 330.7L306.9 313.8L295.6 318.5Z" fill="#c8dbde"/>
<path d="M426.2 548.4L437.6 543.7L431 537.6L419.7 542.3Z" fill="#b8dfe6"/>
<path d="M381.3 290.5L392.6 281.8L386.1 264.8L374.8 273.6Z" fill="#d4e8ec"/>
<path d="M505.4 503.5L516.7 494.7L510.2 488.7L498.9 497.4Z" fill="#c4edf5"/>
<path d="M521.5 479.4L532.8 469.6L526.3 463L515 472.8Z" fill="#c6f0f8"/>
<path d="M410.5 288.9L421.8 279L415.3 262.7L404 272.5Z" fill="#d8ecf0"/>
<path d="M535.9 426.6L547.2 415L540.6 406.6L529.3 418.2Z" fill="#c9f3fb"/>
<path d="M464 303.3L475.3 291.7L468.8 277L457.5 288.6Z" fill="#dff3f7"/>
<path d="M534.1 397.7L545.4 385.6L538.9 376.1L527.6 388.2Z" fill="#caf4fc" stroke="none"/>
<path d="M543.3 387.9L545.4 385.6L538.9 376.1L535.4 379.8Z" fill="#e3f9fc" stroke="none"/>
<path d="M534.1 397.7L545.4 385.6L538.9 376.1L527.6 388.2Z" fill="none"/>
<path d="M488.4 319.3L499.7 307.1L493.2 293.6L481.9 305.8Z" fill="#e1f6fa"/>
<path d="M281.7 478.9L293.1 478.2L286.5 466.4L275.2 467.1Z" fill="#a5c8ce"/>
<path d="M288.3 490.1L299.6 489.4L293.1 478.2L281.7 478.9Z" fill="#a5c8ce"/>
<path d="M325.7 528.5L337 527.3L330.5 518.4L319.2 519.6Z" fill="#a7cbd2"/>
<path d="M266.9 427.6L278.2 426.4L271.7 412.3L260.4 413.6Z" fill="#a7cad1"/>
<path d="M414.9 552.5L426.2 548.4L419.7 542.3L408.4 546.4Z" fill="#b5dbe2"/>
<path d="M290.8 339.5L302.2 335.4L295.6 318.5L284.3 322.6Z" fill="#c6d8dc"/>
<path d="M275.2 467.1L286.5 466.4L280 454.1L268.7 454.7Z" fill="#a5c8ce"/>
<path d="M294.8 500.7L306.1 500.1L299.6 489.4L288.3 490.1Z" fill="#a5c8ce"/>
<path d="M466.7 538L478 531.6L471.5 526.2L460.2 532.6Z" fill="#bde5ec"/>
<path d="M329.6 302.7L340.9 296.3L334.3 278.7L323 285.1Z" fill="#cde0e3"/>
<path d="M478 531.6L489.3 524.6L482.8 519.2L471.5 526.2Z" fill="#bee7ee"/>
<path d="M340.9 296.3L352.2 289.3L345.6 271.7L334.3 278.7Z" fill="#cee2e5"/>
<path d="M367.9 548.7L379.2 546.3L372.7 539.2L361.4 541.5Z" fill="#add1d8"/>
<path d="M270 380.6L281.3 378.2L274.7 362.4L263.4 364.8Z" fill="#aaced5" stroke="none"/>
<path d="M270 380.6L274.6 379.6L279.9 374.9L274.7 362.4L263.4 364.8Z" fill="#c0d2d6" stroke="none"/>
<path d="M270 380.6L281.3 378.2L274.7 362.4L263.4 364.8Z" fill="none"/>
<path d="M392.6 281.8L404 272.5L397.4 255.6L386.1 264.8Z" fill="#d5e9ed"/>
<path d="M516.7 494.7L528.1 485.5L521.5 479.4L510.2 488.7Z" fill="#c4edf5"/>
<path d="M455.4 543.9L466.7 538L460.2 532.6L448.9 538.4Z" fill="#bbe2ea"/>
<path d="M318.2 308.5L329.6 302.7L323 285.1L311.7 291Z" fill="#cbdee1"/>
<path d="M350.1 543.4L361.4 541.5L354.9 533.8L343.6 535.6Z" fill="#aaced5"/>
<path d="M265.2 397.7L276.5 395.8L270 380.6L258.7 382.4Z" fill="#a9ccd3" stroke="none"/>
<path d="M271 383.1L270 380.6L258.7 382.4L262.8 392.2Z" fill="#bed0d3" stroke="none"/>
<path d="M265.2 397.7L276.5 395.8L270 380.6L258.7 382.4Z" fill="none"/>
<path d="M481.9 305.8L493.2 293.6L486.6 279.5L475.3 291.7Z" fill="#e0f5f8"/>
<path d="M540.6 406.6L552 394.5L545.4 385.6L534.1 397.7Z" fill="#c9f3fb" stroke="none"/>
<path d="M550.3 396.3L552 394.5L545.4 385.6L543.3 387.9Z" fill="#e2f7fb" stroke="none"/>
<path d="M540.6 406.6L552 394.5L545.4 385.6L534.1 397.7Z" fill="none"/>
<path d="M489.3 524.6L500.6 517.1L494.1 511.6L482.8 519.2Z" fill="#c0e8f0"/>
<path d="M352.2 289.3L363.5 281.7L357 264.2L345.6 271.7Z" fill="#d0e3e7"/>
<path d="M525.8 355.4L537.1 342.7L530.6 331.4L519.3 344.2Z" fill="#e3f8fc"/>
<path d="M519.3 344.2L530.6 331.4L524.1 319.7L512.8 332.4Z" fill="#e3f8fc"/>
<path d="M385.8 552.9L397.1 550L390.6 543.4L379.2 546.3Z" fill="#afd4db"/>
<path d="M274.7 362.4L286.1 359.5L279.5 343.1L268.2 346Z" fill="#c2d4d8"/>
<path d="M301.3 510.8L312.7 510.1L306.1 500.1L294.8 500.7Z" fill="#a5c7ce"/>
<path d="M268.7 454.7L280 454.1L273.5 441.1L262.2 441.8Z" fill="#a5c7ce"/>
<path d="M537.6 452.5L548.9 441.5L542.4 434.3L531.1 445.3Z" fill="#c7f1f9"/>
<path d="M439.6 284.4L451 273.4L444.4 257.6L433.1 268.6Z" fill="#dbeff3"/>
<path d="M512.8 332.4L524.1 319.7L517.6 307.3L506.2 320Z" fill="#e2f7fb"/>
<path d="M532.4 366L543.7 353.3L537.1 342.7L525.8 355.4Z" fill="#e3f8fc"/>
<path d="M444.1 549.1L455.4 543.9L448.9 538.4L437.6 543.7Z" fill="#b8dfe6"/>
<path d="M306.9 313.8L318.2 308.5L311.7 291L300.4 296.2Z" fill="#c9dcdf"/>
<path d="M532.8 469.6L544.1 459.1L537.6 452.5L526.3 463Z" fill="#c6eff7"/>
<path d="M421.8 279L433.1 268.6L426.6 252.2L415.3 262.7Z" fill="#d9edf1"/>
<path d="M542.4 434.3L553.7 422.7L547.2 415L535.9 426.6Z" fill="#c8f2f9"/>
<path d="M457.5 288.6L468.8 277L462.3 261.8L451 273.4Z" fill="#ddf1f5"/>
<path d="M500.6 517.1L512 508.9L505.4 503.5L494.1 511.6Z" fill="#c1e9f1"/>
<path d="M363.5 281.7L374.8 273.6L368.3 256L357 264.2Z" fill="#d1e5e9"/>
<path d="M332.2 536.8L343.6 535.6L337 527.3L325.7 528.5Z" fill="#a7cad1"/>
<path d="M260.4 413.6L271.7 412.3L265.2 397.7L253.9 398.9Z" fill="#a6cad0" stroke="none"/>
<path d="M258 398.5L253.9 398.9L255.3 402.2Z" fill="#bccdd1" stroke="none"/>
<path d="M260.4 413.6L271.7 412.3L265.2 397.7L253.9 398.9Z" fill="none"/>
<path d="M538.9 376.1L550.2 363.3L543.7 353.3L532.4 366Z" fill="#e2f8fb"/>
<path d="M506.2 320L517.6 307.3L511 294.4L499.7 307.1Z" fill="#e1f6fa"/>
<path d="M403.6 556L414.9 552.5L408.4 546.4L397.1 550Z" fill="#b1d6dd"/>
<path d="M279.5 343.1L290.8 339.5L284.3 322.6L273 326.1Z" fill="#c3d6d9"/>
<path d="M307.9 520.3L319.2 519.6L312.7 510.1L301.3 510.8Z" fill="#a4c7cd"/>
<path d="M262.2 441.8L273.5 441.1L266.9 427.6L255.6 428.3Z" fill="#a4c7ce"/>
<path d="M432.8 553.8L444.1 549.1L437.6 543.7L426.2 548.4Z" fill="#b5dce3"/>
<path d="M295.6 318.5L306.9 313.8L300.4 296.2L289.1 300.9Z" fill="#c7dadd"/>
<path d="M528.1 485.5L539.4 475.6L532.8 469.6L521.5 479.4Z" fill="#c4edf5"/>
<path d="M404 272.5L415.3 262.7L408.7 245.7L397.4 255.6Z" fill="#d6eaee"/>
<path d="M547.2 415L558.5 402.8L552 394.5L540.6 406.6Z" fill="#c8f2fa" stroke="none"/>
<path d="M556.4 405.1L558.5 402.8L552 394.5L550.3 396.3Z" fill="#e1f6fa" stroke="none"/>
<path d="M547.2 415L558.5 402.8L552 394.5L540.6 406.6Z" fill="none"/>
<path d="M475.3 291.7L486.6 279.5L480.1 264.9L468.8 277Z" fill="#def3f7"/>
<path d="M374.8 273.6L386.1 264.8L379.6 247.3L368.3 256Z" fill="#d3e6ea"/>
<path d="M512 508.9L523.3 500.2L516.7 494.7L505.4 503.5Z" fill="#c1eaf2"/>
<path d="M545.4 385.6L556.7 372.8L550.2 363.3L538.9 376.1Z" fill="#e2f7fb"/>
<path d="M499.7 307.1L511 294.4L504.5 280.9L493.2 293.6Z" fill="#e0f5f9"/>
<path d="M356.6 550.5L367.9 548.7L361.4 541.5L350.1 543.4Z" fill="#a9ccd3"/>
<path d="M258.7 382.4L270 380.6L263.4 364.8L252.1 366.6Z" fill="#bdcfd3"/>
<path d="M374.5 555.3L385.8 552.9L379.2 546.3L367.9 548.7Z" fill="#abcfd6"/>
<path d="M263.4 364.8L274.7 362.4L268.2 346L256.9 348.4Z" fill="#bfd1d5"/>
<path d="M314.4 529.2L325.7 528.5L319.2 519.6L307.9 520.3Z" fill="#a4c6cd"/>
<path d="M255.6 428.3L266.9 427.6L260.4 413.6L249.1 414.2Z" fill="#a4c7cd"/>
<path d="M284.3 322.6L295.6 318.5L289.1 300.9L277.8 305Z" fill="#c5d7db"/>
<path d="M421.5 557.9L432.8 553.8L426.2 548.4L414.9 552.5Z" fill="#b2d8df"/>
<path d="M277 490.2L288.3 490.1L281.7 478.9L270.4 479Z" fill="#a1c4ca"/>
<path d="M270.4 479L281.7 478.9L275.2 467.1L263.9 467.2Z" fill="#a2c4ca"/>
<path d="M544.1 459.1L555.5 448.1L548.9 441.5L537.6 452.5Z" fill="#c5eff7"/>
<path d="M433.1 268.6L444.4 257.6L437.9 241.2L426.6 252.2Z" fill="#d9edf1"/>
<path d="M338.8 544.6L350.1 543.4L343.6 535.6L332.2 536.8Z" fill="#a6c9cf"/>
<path d="M253.9 398.9L265.2 397.7L258.7 382.4L247.3 383.7Z" fill="#a6c9d0" stroke="none"/>
<path d="M253.9 398.9L258 398.5L262.8 392.2L258.7 382.4L247.3 383.7Z" fill="#bbcdd0" stroke="none"/>
<path d="M253.9 398.9L265.2 397.7L258.7 382.4L247.3 383.7Z" fill="none"/>
<path d="M548.9 441.5L560.2 429.9L553.7 422.7L542.4 434.3Z" fill="#c6f0f8"/>
<path d="M451 273.4L462.3 261.8L455.7 246L444.4 257.6Z" fill="#dbf0f3"/>
<path d="M392.3 559L403.6 556L397.1 550L385.8 552.9Z" fill="#add2d9"/>
<path d="M268.2 346L279.5 343.1L273 326.1L261.7 329.1Z" fill="#c1d3d7"/>
<path d="M523.3 500.2L534.6 490.9L528.1 485.5L516.7 494.7Z" fill="#c2ebf2"/>
<path d="M386.1 264.8L397.4 255.6L390.9 238L379.6 247.3Z" fill="#d4e7eb"/>
<path d="M283.5 500.8L294.8 500.7L288.3 490.1L277 490.2Z" fill="#a1c3ca"/>
<path d="M263.9 467.2L275.2 467.1L268.7 454.7L257.4 454.8Z" fill="#a2c4ca"/>
<path d="M473.2 542.9L484.6 536.5L478 531.6L466.7 538Z" fill="#bae1e9"/>
<path d="M323 285.1L334.3 278.7L327.8 260.6L316.5 267Z" fill="#cbdee2"/>
<path d="M334.3 278.7L345.6 271.7L339.1 253.6L327.8 260.6Z" fill="#cde0e4"/>
<path d="M484.6 536.5L495.9 529.5L489.3 524.6L478 531.6Z" fill="#bce3eb"/>
<path d="M552 394.5L563.3 381.7L556.7 372.8L545.4 385.6Z" fill="#e1f6fa"/>
<path d="M493.2 293.6L504.5 280.9L498 266.8L486.6 279.5Z" fill="#dff4f8"/>
<path d="M539.4 475.6L550.7 465.2L544.1 459.1L532.8 469.6Z" fill="#c4edf5"/>
<path d="M415.3 262.7L426.6 252.2L420.1 235.3L408.7 245.7Z" fill="#d7ebef"/>
<path d="M461.9 548.8L473.2 542.9L466.7 538L455.4 543.9Z" fill="#b8dfe6"/>
<path d="M311.7 291L323 285.1L316.5 267L305.2 272.9Z" fill="#cadde0"/>
<path d="M553.7 422.7L565 410.6L558.5 402.8L547.2 415Z" fill="#c7f1f8" stroke="none"/>
<path d="M561.5 414.3L565 410.6L558.5 402.8L556.4 405.1Z" fill="#e0f5f9" stroke="none"/>
<path d="M553.7 422.7L565 410.6L558.5 402.8L547.2 415Z" fill="none"/>
<path d="M468.8 277L480.1 264.9L473.6 249.6L462.3 261.8Z" fill="#ddf1f5"/>
<path d="M345.6 271.7L357 264.2L350.4 246.1L339.1 253.6Z" fill="#cee2e5"/>
<path d="M495.9 529.5L507.2 521.9L500.6 517.1L489.3 524.6Z" fill="#bde5ed"/>
<path d="M530.6 331.4L541.9 318.1L535.4 306.4L524.1 319.7Z" fill="#e1f6fa"/>
<path d="M537.1 342.7L548.5 329.3L541.9 318.1L530.6 331.4Z" fill="#e1f6fa"/>
<path d="M257.4 454.8L268.7 454.7L262.2 441.8L250.8 441.9Z" fill="#a1c4ca"/>
<path d="M290 510.9L301.3 510.8L294.8 500.7L283.5 500.8Z" fill="#a1c3c9"/>
<path d="M524.1 319.7L535.4 306.4L528.9 294L517.6 307.3Z" fill="#e1f6fa"/>
<path d="M543.7 353.3L555 340L548.5 329.3L537.1 342.7Z" fill="#e1f6fa"/>
<path d="M450.6 554L461.9 548.8L455.4 543.9L444.1 549.1Z" fill="#b6dce3"/>
<path d="M300.4 296.2L311.7 291L305.2 272.9L293.9 278.1Z" fill="#c8dade"/>
<path d="M320.9 537.5L332.2 536.8L325.7 528.5L314.4 529.2Z" fill="#a3c5cc"/>
<path d="M249.1 414.2L260.4 413.6L253.9 398.9L242.6 399.6Z" fill="#a4c6cd" stroke="none"/>
<path d="M255.3 402.2L253.9 398.9L242.6 399.6L248.7 413.3Z" fill="#b9cacd" stroke="none"/>
<path d="M249.1 414.2L260.4 413.6L253.9 398.9L242.6 399.6Z" fill="none"/>
<path d="M507.2 521.9L518.5 513.8L512 508.9L500.6 517.1Z" fill="#bee6ee"/>
<path d="M357 264.2L368.3 256L361.7 237.9L350.4 246.1Z" fill="#d0e3e7"/>
<path d="M410.2 561.5L421.5 557.9L414.9 552.5L403.6 556Z" fill="#afd4db"/>
<path d="M273 326.1L284.3 322.6L277.8 305L266.5 308.6Z" fill="#c3d5d8"/>
<path d="M550.2 363.3L561.5 350L555 340L543.7 353.3Z" fill="#e1f6fa"/>
<path d="M517.6 307.3L528.9 294L522.3 281.1L511 294.4Z" fill="#e0f5f9"/>
<path d="M397.4 255.6L408.7 245.7L402.2 228.2L390.9 238Z" fill="#d5e9ec" stroke="none"/>
<path d="M403.6 231.8L402.2 228.2L397.9 231.9Z" fill="#ededed" stroke="none"/>
<path d="M397.4 255.6L408.7 245.7L402.2 228.2L390.9 238Z" fill="none"/>
<path d="M534.6 490.9L545.9 481.1L539.4 475.6L528.1 485.5Z" fill="#c2ebf2"/>
<path d="M296.6 520.4L307.9 520.3L301.3 510.8L290 510.9Z" fill="#a0c2c9"/>
<path d="M250.8 441.9L262.2 441.8L255.6 428.3L244.3 428.4Z" fill="#a1c4ca"/>
<path d="M363.2 557.2L374.5 555.3L367.9 548.7L356.6 550.5Z" fill="#a7cbd1"/>
<path d="M252.1 366.6L263.4 364.8L256.9 348.4L245.6 350.2Z" fill="#bdcfd2"/>
<path d="M558.5 402.8L569.8 390.1L563.3 381.7L552 394.5Z" fill="#e0f5f9"/>
<path d="M486.6 279.5L498 266.8L491.4 252.1L480.1 264.9Z" fill="#def2f6"/>
<path d="M439.3 558.7L450.6 554L444.1 549.1L432.8 553.8Z" fill="#b3d9e0"/>
<path d="M289.1 300.9L300.4 296.2L293.9 278.1L282.6 282.8Z" fill="#c6d8dc"/>
<path d="M345.3 551.8L356.6 550.5L350.1 543.4L338.8 544.6Z" fill="#a5c8ce"/>
<path d="M247.3 383.7L258.7 382.4L252.1 366.6L240.8 367.9Z" fill="#bbcccf"/>
<path d="M381 561.4L392.3 559L385.8 552.9L374.5 555.3Z" fill="#aacdd4"/>
<path d="M256.9 348.4L268.2 346L261.7 329.1L250.4 331.5Z" fill="#bfd1d4"/>
<path d="M518.5 513.8L529.8 505.1L523.3 500.2L512 508.9Z" fill="#bfe7ef"/>
<path d="M368.3 256L379.6 247.3L373.1 229.2L361.7 237.9Z" fill="#d1e5e8" stroke="none"/>
<path d="M374.5 233.3L373.1 229.2L366.6 234.2Z" fill="#e9e9e9" stroke="none"/>
<path d="M368.3 256L379.6 247.3L373.1 229.2L361.7 237.9Z" fill="none"/>
<path d="M555.5 448.1L566.8 436.5L560.2 429.9L548.9 441.5Z" fill="#c5eef6"/>
<path d="M444.4 257.6L455.7 246L449.2 229.6L437.9 241.2Z" fill="#daeef2" stroke="none"/>
<path d="M451.5 235.3L449.2 229.6L444.6 234.4Z" fill="#f2f2f2" stroke="none"/>
<path d="M444.4 257.6L455.7 246L449.2 229.6L437.9 241.2Z" fill="none"/>
<path d="M556.7 372.8L568.1 359.5L561.5 350L550.2 363.3Z" fill="#e1f6f9"/>
<path d="M511 294.4L522.3 281.1L515.8 267.6L504.5 280.9Z" fill="#dff4f8"/>
<path d="M550.7 465.2L562 454.1L555.5 448.1L544.1 459.1Z" fill="#c3edf4"/>
<path d="M426.6 252.2L437.9 241.2L431.4 224.2L420.1 235.3Z" fill="#d8ecef" stroke="none"/>
<path d="M434.8 233.3L431.4 224.2L423.1 232.3Z" fill="#f0f0f0" stroke="none"/>
<path d="M426.6 252.2L437.9 241.2L431.4 224.2L420.1 235.3Z" fill="none"/>
<path d="M560.2 429.9L571.6 417.8L565 410.6L553.7 422.7Z" fill="#c5eff7" stroke="none"/>
<path d="M565.8 423.9L571.6 417.8L565 410.6L561.5 414.3Z" fill="#dff3f7" stroke="none"/>
<path d="M560.2 429.9L571.6 417.8L565 410.6L553.7 422.7Z" fill="none"/>
<path d="M462.3 261.8L473.6 249.6L467.1 233.8L455.7 246Z" fill="#dbf0f3" stroke="none"/>
<path d="M469 238.5L467.1 233.8L463.7 237.4Z" fill="#f4f4f4" stroke="none"/>
<path d="M462.3 261.8L473.6 249.6L467.1 233.8L455.7 246Z" fill="none"/>
<path d="M303.1 529.3L314.4 529.2L307.9 520.3L296.6 520.4Z" fill="#a0c2c8"/>
<path d="M244.3 428.4L255.6 428.3L249.1 414.2L237.8 414.3Z" fill="#a1c3ca" stroke="none"/>
<path d="M248.2 414.2L237.8 414.3L243.2 426Z" fill="#b6c7ca" stroke="none"/>
<path d="M244.3 428.4L255.6 428.3L249.1 414.2L237.8 414.3Z" fill="none"/>
<path d="M327.5 545.3L338.8 544.6L332.2 536.8L320.9 537.5Z" fill="#a2c4cb"/>
<path d="M242.6 399.6L253.9 398.9L247.3 383.7L236 384.3Z" fill="#b8cacd"/>
<path d="M398.8 564.4L410.2 561.5L403.6 556L392.3 559Z" fill="#abd0d6"/>
<path d="M261.7 329.1L273 326.1L266.5 308.6L255.2 311.6Z" fill="#c0d2d6"/>
<path d="M277.8 305L289.1 300.9L282.6 282.8L271.2 286.9Z" fill="#c4d6da"/>
<path d="M428 562.8L439.3 558.7L432.8 553.8L421.5 557.9Z" fill="#b0d5dc"/>
<path d="M379.6 247.3L390.9 238L384.4 219.9L373.1 229.2Z" fill="#d2e6ea" stroke="none"/>
<path d="M388.8 232.2L384.4 219.9L373.1 229.2L374.5 233.3Z" fill="#eaeaea" stroke="none"/>
<path d="M379.6 247.3L390.9 238L384.4 219.9L373.1 229.2Z" fill="none"/>
<path d="M529.8 505.1L541.1 495.8L534.6 490.9L523.3 500.2Z" fill="#bfe8ef"/>
<path d="M259.1 478.5L270.4 479L263.9 467.2L252.6 466.7Z" fill="#9ec0c6"/>
<path d="M265.7 489.7L277 490.2L270.4 479L259.1 478.5Z" fill="#9ec0c6"/>
<path d="M545.9 481.1L557.2 470.6L550.7 465.2L539.4 475.6Z" fill="#c2ebf2"/>
<path d="M408.7 245.7L420.1 235.3L413.5 217.7L402.2 228.2Z" fill="#d5e9ed" stroke="none"/>
<path d="M418.9 232.1L413.5 217.7L402.2 228.2L403.6 231.8Z" fill="#eeeeee" stroke="none"/>
<path d="M408.7 245.7L420.1 235.3L413.5 217.7L402.2 228.2Z" fill="none"/>
<path d="M565 410.6L576.3 397.8L569.8 390.1L558.5 402.8Z" fill="#dff4f8"/>
<path d="M480.1 264.9L491.4 252.1L484.9 236.9L473.6 249.6Z" fill="#dcf1f5" stroke="none"/>
<path d="M487.6 243.1L484.9 236.9L481 241.3Z" fill="#f5f5f5" stroke="none"/>
<path d="M480.1 264.9L491.4 252.1L484.9 236.9L473.6 249.6Z" fill="none"/>
<path d="M563.3 381.7L574.6 368.4L568.1 359.5L556.7 372.8Z" fill="#e0f5f9"/>
<path d="M504.5 280.9L515.8 267.6L509.3 253.5L498 266.8Z" fill="#def3f7"/>
<path d="M272.2 500.3L283.5 500.8L277 490.2L265.7 489.7Z" fill="#9ebfc6"/>
<path d="M252.6 466.7L263.9 467.2L257.4 454.8L246.1 454.4Z" fill="#9fc0c6"/>
<path d="M479.8 547.2L491.1 540.8L484.6 536.5L473.2 542.9Z" fill="#b7dee5"/>
<path d="M316.5 267L327.8 260.6L321.3 241.9L310 248.4Z" fill="#cadde1" stroke="none"/>
<path d="M321.7 243.2L321.3 241.9L315.8 245Z" fill="#e1e1e1" stroke="none"/>
<path d="M316.5 267L327.8 260.6L321.3 241.9L310 248.4Z" fill="none"/>
<path d="M491.1 540.8L502.4 533.8L495.9 529.5L484.6 536.5Z" fill="#b9e0e8"/>
<path d="M327.8 260.6L339.1 253.6L332.6 235L321.3 241.9Z" fill="#ccdfe2" stroke="none"/>
<path d="M334.3 240L332.6 235L321.3 241.9L321.7 243.2Z" fill="#e3e3e3" stroke="none"/>
<path d="M327.8 260.6L339.1 253.6L332.6 235L321.3 241.9Z" fill="none"/>
<path d="M468.5 553.1L479.8 547.2L473.2 542.9L461.9 548.8Z" fill="#b5dce3"/>
<path d="M305.2 272.9L316.5 267L310 248.4L298.6 254.2Z" fill="#c8dbdf"/>
<path d="M502.4 533.8L513.7 526.3L507.2 521.9L495.9 529.5Z" fill="#bae2e9"/>
<path d="M339.1 253.6L350.4 246.1L343.9 227.4L332.6 235Z" fill="#cde0e4" stroke="none"/>
<path d="M347.3 237.2L343.9 227.4L332.6 235L334.3 240Z" fill="#e4e4e4" stroke="none"/>
<path d="M339.1 253.6L350.4 246.1L343.9 227.4L332.6 235Z" fill="none"/>
<path d="M541.9 318.1L553.2 304.3L546.7 292.5L535.4 306.4Z" fill="#e0f5f9"/>
<path d="M548.5 329.3L559.8 315.5L553.2 304.3L541.9 318.1Z" fill="#e0f5f9"/>
<path d="M278.7 510.4L290 510.9L283.5 500.8L272.2 500.3Z" fill="#9ebfc5"/>
<path d="M246.1 454.4L257.4 454.8L250.8 441.9L239.5 441.4Z" fill="#9fc0c6"/>
<path d="M309.6 537.6L320.9 537.5L314.4 529.2L303.1 529.3Z" fill="#9fc1c7"/>
<path d="M237.8 414.3L249.1 414.2L242.6 399.6L231.2 399.7Z" fill="#a1c3ca" stroke="none"/>
<path d="M237.8 414.3L248.2 414.2L248.7 413.3L242.6 399.6L231.2 399.7Z" fill="#b6c7ca" stroke="none"/>
<path d="M237.8 414.3L249.1 414.2L242.6 399.6L231.2 399.7Z" fill="none"/>
<path d="M351.8 558.4L363.2 557.2L356.6 550.5L345.3 551.8Z" fill="#a4c6cd"/>
<path d="M240.8 367.9L252.1 366.6L245.6 350.2L234.3 351.5Z" fill="#bacccf"/>
<path d="M369.7 563.2L381 561.4L374.5 555.3L363.2 557.2Z" fill="#a6c9cf"/>
<path d="M245.6 350.2L256.9 348.4L250.4 331.5L239.1 333.3Z" fill="#bcced1"/>
<path d="M416.7 566.4L428 562.8L421.5 557.9L410.2 561.5Z" fill="#add1d8"/>
<path d="M266.5 308.6L277.8 305L271.2 286.9L259.9 290.5Z" fill="#c2d4d7"/>
<path d="M535.4 306.4L546.7 292.5L540.2 280.1L528.9 294Z" fill="#e0f5f8"/>
<path d="M555 340L566.3 326.1L559.8 315.5L548.5 329.3Z" fill="#e0f5f9"/>
<path d="M457.1 558.3L468.5 553.1L461.9 548.8L450.6 554Z" fill="#b3d9e0"/>
<path d="M293.9 278.1L305.2 272.9L298.6 254.2L287.3 259.5Z" fill="#c7d9dd"/>
<path d="M513.7 526.3L525 518.1L518.5 513.8L507.2 521.9Z" fill="#bce3eb"/>
<path d="M350.4 246.1L361.7 237.9L355.2 219.2L343.9 227.4Z" fill="#cfe2e5" stroke="none"/>
<path d="M360.7 234.9L355.2 219.2L343.9 227.4L347.3 237.2Z" fill="#e6e6e6" stroke="none"/>
<path d="M350.4 246.1L361.7 237.9L355.2 219.2L343.9 227.4Z" fill="none"/>
<path d="M541.1 495.8L552.4 485.9L545.9 481.1L534.6 490.9Z" fill="#c0e8f0"/>
<path d="M390.9 238L402.2 228.2L395.7 210.1L384.4 219.9Z" fill="#d3e7eb" stroke="none"/>
<path d="M397.9 231.9L402.2 228.2L395.7 210.1L384.4 219.9L388.8 232.2Z" fill="#ebebeb" stroke="none"/>
<path d="M390.9 238L402.2 228.2L395.7 210.1L384.4 219.9Z" fill="none"/>
<path d="M334 552.5L345.3 551.8L338.8 544.6L327.5 545.3Z" fill="#a1c3c9"/>
<path d="M236 384.3L247.3 383.7L240.8 367.9L229.5 368.5Z" fill="#b8c9cc"/>
<path d="M562 454.1L573.3 442.6L566.8 436.5L555.5 448.1Z" fill="#c3ecf4" stroke="none"/>
<path d="M571.5 444.4L573.3 442.6L570.6 440.1Z" fill="#dcf1f5" stroke="none"/>
<path d="M562 454.1L573.3 442.6L566.8 436.5L555.5 448.1Z" fill="none"/>
<path d="M437.9 241.2L449.2 229.6L442.7 212.7L431.4 224.2Z" fill="#d8ecf0" stroke="none"/>
<path d="M444.6 234.4L449.2 229.6L442.7 212.7L431.4 224.2L434.8 233.3Z" fill="#f0f0f0" stroke="none"/>
<path d="M437.9 241.2L449.2 229.6L442.7 212.7L431.4 224.2Z" fill="none"/>
<path d="M566.8 436.5L578.1 424.4L571.6 417.8L560.2 429.9Z" fill="#c4eef5" stroke="none"/>
<path d="M569.2 434L578.1 424.4L571.6 417.8L565.8 423.9Z" fill="#ddf2f6" stroke="none"/>
<path d="M566.8 436.5L578.1 424.4L571.6 417.8L560.2 429.9Z" fill="none"/>
<path d="M455.7 246L467.1 233.8L460.5 217.5L449.2 229.6Z" fill="#daeef2" stroke="none"/>
<path d="M463.7 237.4L467.1 233.8L460.5 217.5L449.2 229.6L451.5 235.3Z" fill="#f2f2f2" stroke="none"/>
<path d="M455.7 246L467.1 233.8L460.5 217.5L449.2 229.6Z" fill="none"/>
<path d="M387.5 566.8L398.8 564.4L392.3 559L381 561.4Z" fill="#a8cbd2"/>
<path d="M250.4 331.5L261.7 329.1L255.2 311.6L243.8 313.9Z" fill="#bed0d3"/>
<path d="M569.8 390.1L581.1 376.8L574.6 368.4L563.3 381.7Z" fill="#dff4f8"/>
<path d="M498 266.8L509.3 253.5L502.7 238.8L491.4 252.1Z" fill="#ddf2f6" stroke="none"/>
<path d="M507.5 249.6L502.7 238.8L496.7 245.9Z" fill="#f6f6f6" stroke="none"/>
<path d="M498 266.8L509.3 253.5L502.7 238.8L491.4 252.1Z" fill="none"/>
<path d="M561.5 350L572.8 336.2L566.3 326.1L555 340Z" fill="#e0f5f9"/>
<path d="M528.9 294L540.2 280.1L533.6 267.2L522.3 281.1Z" fill="#dff4f8"/>
<path d="M285.2 519.9L296.6 520.4L290 510.9L278.7 510.4Z" fill="#9dbec5"/>
<path d="M239.5 441.4L250.8 441.9L244.3 428.4L233 427.9Z" fill="#9fc0c6" stroke="none"/>
<path d="M242.3 428.3L233 427.9L239 440.4Z" fill="#b3c4c7" stroke="none"/>
<path d="M239.5 441.4L250.8 441.9L244.3 428.4L233 427.9Z" fill="none"/>
<path d="M445.8 563L457.1 558.3L450.6 554L439.3 558.7Z" fill="#b0d6dd"/>
<path d="M282.6 282.8L293.9 278.1L287.3 259.5L276 264.1Z" fill="#c5d7db"/>
<path d="M557.2 470.6L568.5 459.6L562 454.1L550.7 465.2Z" fill="#c2ebf2"/>
<path d="M420.1 235.3L431.4 224.2L424.8 206.7L413.5 217.7Z" fill="#d6eaee" stroke="none"/>
<path d="M423.1 232.3L431.4 224.2L424.8 206.7L413.5 217.7L418.9 232.1Z" fill="#eeeeee" stroke="none"/>
<path d="M420.1 235.3L431.4 224.2L424.8 206.7L413.5 217.7Z" fill="none"/>
<path d="M571.6 417.8L582.9 405L576.3 397.8L565 410.6Z" fill="#def3f6"/>
<path d="M473.6 249.6L484.9 236.9L478.4 221.1L467.1 233.8Z" fill="#dbf0f3" stroke="none"/>
<path d="M481 241.3L484.9 236.9L478.4 221.1L467.1 233.8L469 238.5Z" fill="#f4f4f4" stroke="none"/>
<path d="M473.6 249.6L484.9 236.9L478.4 221.1L467.1 233.8Z" fill="none"/>
<path d="M525 518.1L536.3 509.4L529.8 505.1L518.5 513.8Z" fill="#bce4ec"/>
<path d="M361.7 237.9L373.1 229.2L366.5 210.5L355.2 219.2Z" fill="#d0e3e7" stroke="none"/>
<path d="M366.6 234.2L373.1 229.2L366.5 210.5L355.2 219.2L360.7 234.9Z" fill="#e7e7e7" stroke="none"/>
<path d="M361.7 237.9L373.1 229.2L366.5 210.5L355.2 219.2Z" fill="none"/>
<path d="M568.1 359.5L579.4 345.6L572.8 336.2L561.5 350Z" fill="#dff4f8"/>
<path d="M522.3 281.1L533.6 267.2L527.1 253.7L515.8 267.6Z" fill="#dff3f7" stroke="none"/>
<path d="M529.6 258.8L527.1 253.7L524.8 256.6Z" fill="#f8f8f8" stroke="none"/>
<path d="M522.3 281.1L533.6 267.2L527.1 253.7L515.8 267.6Z" fill="none"/>
<path d="M316.2 545.4L327.5 545.3L320.9 537.5L309.6 537.6Z" fill="#9ec0c6"/>
<path d="M231.2 399.7L242.6 399.6L236 384.3L224.7 384.4Z" fill="#b5c7ca"/>
<path d="M255.2 311.6L266.5 308.6L259.9 290.5L248.6 293.4Z" fill="#c0d1d5"/>
<path d="M405.4 569.3L416.7 566.4L410.2 561.5L398.8 564.4Z" fill="#a9cdd4"/>
<path d="M291.8 528.8L303.1 529.3L296.6 520.4L285.2 519.9Z" fill="#9cbec4"/>
<path d="M233 427.9L244.3 428.4L237.8 414.3L226.5 413.8Z" fill="#9fc0c6" stroke="none"/>
<path d="M233 427.9L242.3 428.3L243.2 426L237.8 414.3L226.5 413.8Z" fill="#b3c4c7" stroke="none"/>
<path d="M233 427.9L244.3 428.4L237.8 414.3L226.5 413.8Z" fill="none"/>
<path d="M434.5 567.1L445.8 563L439.3 558.7L428 562.8Z" fill="#aed2d9"/>
<path d="M271.2 286.9L282.6 282.8L276 264.1L264.7 268.3Z" fill="#c3d5d9"/>
<path d="M402.2 228.2L413.5 217.7L407 199.6L395.7 210.1Z" fill="#ececec"/>
<path d="M552.4 485.9L563.7 475.5L557.2 470.6L545.9 481.1Z" fill="#c0e8f0"/>
<path d="M576.3 397.8L587.6 384.5L581.1 376.8L569.8 390.1Z" fill="#def3f7"/>
<path d="M491.4 252.1L502.7 238.8L496.2 223.6L484.9 236.9Z" fill="#dcf1f5" stroke="none"/>
<path d="M496.7 245.9L502.7 238.8L496.2 223.6L484.9 236.9L487.6 243.1Z" fill="#f5f5f5" stroke="none"/>
<path d="M491.4 252.1L502.7 238.8L496.2 223.6L484.9 236.9Z" fill="none"/>
<path d="M536.3 509.4L547.6 500.1L541.1 495.8L529.8 505.1Z" fill="#bde5ed"/>
<path d="M373.1 229.2L384.4 219.9L377.8 201.2L366.5 210.5Z" fill="#e9e9e9"/>
<path d="M358.4 564.4L369.7 563.2L363.2 557.2L351.8 558.4Z" fill="#a2c5cb"/>
<path d="M234.3 351.5L245.6 350.2L239.1 333.3L227.7 334.5Z" fill="#bacbce"/>
<path d="M515.8 267.6L527.1 253.7L520.6 239.6L509.3 253.5Z" fill="#def2f6" stroke="none"/>
<path d="M524.8 256.6L527.1 253.7L520.6 239.6L511.3 251Z" fill="#f7f7f7" stroke="none"/>
<path d="M515.8 267.6L527.1 253.7L520.6 239.6L509.3 253.5Z" fill="none"/>
<path d="M574.6 368.4L585.9 354.5L579.4 345.6L568.1 359.5Z" fill="#dff4f8"/>
<path d="M254.3 488.6L265.7 489.7L259.1 478.5L247.8 477.4Z" fill="#9bbcc2"/>
<path d="M247.8 477.4L259.1 478.5L252.6 466.7L241.3 465.7Z" fill="#9bbcc3"/>
<path d="M340.5 559.1L351.8 558.4L345.3 551.8L334 552.5Z" fill="#a0c2c8"/>
<path d="M229.5 368.5L240.8 367.9L234.3 351.5L223 352.2Z" fill="#b8c9cc"/>
<path d="M376.2 568.7L387.5 566.8L381 561.4L369.7 563.2Z" fill="#a4c7ce"/>
<path d="M239.1 333.3L250.4 331.5L243.8 313.9L232.5 315.8Z" fill="#bccdd1"/>
<path d="M241.3 465.7L252.6 466.7L246.1 454.4L234.7 453.3Z" fill="#9cbdc3" stroke="none"/>
<path d="M237.3 453.5L234.7 453.3L237.1 457.8Z" fill="#b0c0c3" stroke="none"/>
<path d="M241.3 465.7L252.6 466.7L246.1 454.4L234.7 453.3Z" fill="none"/>
<path d="M260.9 499.3L272.2 500.3L265.7 489.7L254.3 488.6Z" fill="#9bbcc2"/>
<path d="M486.3 551L497.6 544.5L491.1 540.8L479.8 547.2Z" fill="#b5dbe2"/>
<path d="M310 248.4L321.3 241.9L314.7 222.7L303.4 229.1Z" fill="#c9dcdf" stroke="none"/>
<path d="M315.8 245L321.3 241.9L314.7 222.7L303.4 229.1L309.5 247Z" fill="#e0e0e0" stroke="none"/>
<path d="M310 248.4L321.3 241.9L314.7 222.7L303.4 229.1Z" fill="none"/>
<path d="M497.6 544.5L508.9 537.6L502.4 533.8L491.1 540.8Z" fill="#b6dde4"/>
<path d="M321.3 241.9L332.6 235L326.1 215.7L314.7 222.7Z" fill="#e2e2e2"/>
<path d="M449.2 229.6L460.5 217.5L454 200.5L442.7 212.7Z" fill="#f1f1f1"/>
<path d="M573.3 442.6L584.6 430.4L578.1 424.4L566.8 436.5Z" fill="#c3ecf4" stroke="none"/>
<path d="M573.3 442.6L584.6 430.4L578.1 424.4L569.2 434L570.6 440.1Z" fill="#dcf0f4" stroke="none"/>
<path d="M573.3 442.6L584.6 430.4L578.1 424.4L566.8 436.5Z" fill="none"/>
<path d="M298.3 537.1L309.6 537.6L303.1 529.3L291.8 528.8Z" fill="#9cbdc3"/>
<path d="M226.5 413.8L237.8 414.3L231.2 399.7L219.9 399.2Z" fill="#b3c4c7"/>
<path d="M475 556.8L486.3 551L479.8 547.2L468.5 553.1Z" fill="#b3d9e0"/>
<path d="M298.6 254.2L310 248.4L303.4 229.1L292.1 234.9Z" fill="#c7dade" stroke="none"/>
<path d="M309.5 247L303.4 229.1L292.1 234.9L297.7 251.3Z" fill="#dedede" stroke="none"/>
<path d="M298.6 254.2L310 248.4L303.4 229.1L292.1 234.9Z" fill="none"/>
<path d="M568.5 459.6L579.8 448L573.3 442.6L562 454.1Z" fill="#c1eaf2" stroke="none"/>
<path d="M572.6 455.4L579.8 448L573.3 442.6L571.5 444.4Z" fill="#daeff3" stroke="none"/>
<path d="M568.5 459.6L579.8 448L573.3 442.6L562 454.1Z" fill="none"/>
<path d="M431.4 224.2L442.7 212.7L436.1 195.1L424.8 206.7Z" fill="#efefef"/>
<path d="M508.9 537.6L520.2 530L513.7 526.3L502.4 533.8Z" fill="#b8dfe6"/>
<path d="M332.6 235L343.9 227.4L337.4 208.1L326.1 215.7Z" fill="#e3e3e3"/>
<path d="M578.1 424.4L589.4 411.6L582.9 405L571.6 417.8Z" fill="#ddf1f5"/>
<path d="M467.1 233.8L478.4 221.1L471.8 204.7L460.5 217.5Z" fill="#f2f2f2"/>
<path d="M423.2 570.7L434.5 567.1L428 562.8L416.7 566.4Z" fill="#abcfd5"/>
<path d="M259.9 290.5L271.2 286.9L264.7 268.3L253.4 271.8Z" fill="#c1d3d6" stroke="none"/>
<path d="M258.9 270.1L253.4 271.8L253.9 273.1Z" fill="#d7d7d7" stroke="none"/>
<path d="M259.9 290.5L271.2 286.9L264.7 268.3L253.4 271.8Z" fill="none"/>
<path d="M267.4 509.3L278.7 510.4L272.2 500.3L260.9 499.3Z" fill="#9abbc1"/>
<path d="M234.7 453.3L246.1 454.4L239.5 441.4L228.2 440.4Z" fill="#9cbdc3" stroke="none"/>
<path d="M234.7 453.3L237.3 453.5L238.8 441.4L228.2 440.4Z" fill="#b0c0c3" stroke="none"/>
<path d="M234.7 453.3L246.1 454.4L239.5 441.4L228.2 440.4Z" fill="none"/>
<path d="M559.8 315.5L571.1 301L564.6 289.8L553.2 304.3Z" fill="#dff4f8"/>
<path d="M553.2 304.3L564.6 289.8L558 278L546.7 292.5Z" fill="#dff4f8"/>
<path d="M322.7 552.5L334 552.5L327.5 545.3L316.2 545.4Z" fill="#9ebfc5"/>
<path d="M224.7 384.4L236 384.3L229.5 368.5L218.2 368.6Z" fill="#b5c6c9"/>
<path d="M394.1 571.7L405.4 569.3L398.8 564.4L387.5 566.8Z" fill="#a6c9d0"/>
<path d="M243.8 313.9L255.2 311.6L248.6 293.4L237.3 295.8Z" fill="#bdcfd2"/>
<path d="M546.7 292.5L558 278L551.5 265.7L540.2 280.1Z" fill="#dff4f8" stroke="none"/>
<path d="M555.2 272.7L551.5 265.7L548.9 268.9Z" fill="#f8f8f8" stroke="none"/>
<path d="M546.7 292.5L558 278L551.5 265.7L540.2 280.1Z" fill="none"/>
<path d="M566.3 326.1L577.6 311.6L571.1 301L559.8 315.5Z" fill="#dff4f8"/>
<path d="M547.6 500.1L559 490.3L552.4 485.9L541.1 495.8Z" fill="#bee6ed"/>
<path d="M384.4 219.9L395.7 210.1L389.1 191.4L377.8 201.2Z" fill="#eaeaea"/>
<path d="M463.7 562.1L475 556.8L468.5 553.1L457.1 558.3Z" fill="#b0d6dd"/>
<path d="M287.3 259.5L298.6 254.2L292.1 234.9L280.8 240.2Z" fill="#c6d8dc" stroke="none"/>
<path d="M297.7 251.3L292.1 234.9L280.8 240.2L286.2 256Z" fill="#dcdcdc" stroke="none"/>
<path d="M287.3 259.5L298.6 254.2L292.1 234.9L280.8 240.2Z" fill="none"/>
<path d="M520.2 530L531.6 521.9L525 518.1L513.7 526.3Z" fill="#b9e0e8"/>
<path d="M343.9 227.4L355.2 219.2L348.7 200L337.4 208.1Z" fill="#e5e5e5"/>
<path d="M509.3 253.5L520.6 239.6L514.1 224.9L502.7 238.8Z" fill="#ddf1f5" stroke="none"/>
<path d="M511.3 251L520.6 239.6L514.1 224.9L502.7 238.8L507.5 249.6Z" fill="#f6f6f6" stroke="none"/>
<path d="M509.3 253.5L520.6 239.6L514.1 224.9L502.7 238.8Z" fill="none"/>
<path d="M581.1 376.8L592.4 362.9L585.9 354.5L574.6 368.4Z" fill="#def3f7"/>
<path d="M413.5 217.7L424.8 206.7L418.3 188.6L407 199.6Z" fill="#ededed"/>
<path d="M563.7 475.5L575.1 464.5L568.5 459.6L557.2 470.6Z" fill="#c0e9f0" stroke="none"/>
<path d="M572.5 467L575.1 464.5L572.7 462.7Z" fill="#d8edf1" stroke="none"/>
<path d="M563.7 475.5L575.1 464.5L568.5 459.6L557.2 470.6Z" fill="none"/>
<path d="M582.9 405L594.2 391.7L587.6 384.5L576.3 397.8Z" fill="#ddf2f6"/>
<path d="M484.9 236.9L496.2 223.6L489.7 207.8L478.4 221.1Z" fill="#f4f4f4"/>
<path d="M273.9 518.8L285.2 519.9L278.7 510.4L267.4 509.3Z" fill="#9abbc1"/>
<path d="M228.2 440.4L239.5 441.4L233 427.9L221.7 426.9Z" fill="#9cbdc3" stroke="none"/>
<path d="M228.2 440.4L238.8 441.4L239 440.4L233 427.9L221.7 426.9Z" fill="#b0c0c4" stroke="none"/>
<path d="M228.2 440.4L239.5 441.4L233 427.9L221.7 426.9Z" fill="none"/>
<path d="M540.2 280.1L551.5 265.7L545 252.7L533.6 267.2Z" fill="#def3f7" stroke="none"/>
<path d="M548.9 268.9L551.5 265.7L545 252.7L537.3 262.5Z" fill="#f8f8f8" stroke="none"/>
<path d="M540.2 280.1L551.5 265.7L545 252.7L533.6 267.2Z" fill="none"/>
<path d="M572.8 336.2L584.1 321.7L577.6 311.6L566.3 326.1Z" fill="#dff4f8"/>
<path d="M452.4 566.8L463.7 562.1L457.1 558.3L445.8 563Z" fill="#aed3da"/>
<path d="M276 264.1L287.3 259.5L280.8 240.2L269.5 244.9Z" fill="#c4d6da" stroke="none"/>
<path d="M286.2 256L280.8 240.2L269.5 244.9L275 261.2Z" fill="#dadada" stroke="none"/>
<path d="M276 264.1L287.3 259.5L280.8 240.2L269.5 244.9Z" fill="none"/>
<path d="M531.6 521.9L542.9 513.1L536.3 509.4L525 518.1Z" fill="#bae2e9"/>
<path d="M355.2 219.2L366.5 210.5L360 191.3L348.7 200Z" fill="#e6e6e6"/>
<path d="M304.8 544.9L316.2 545.4L309.6 537.6L298.3 537.1Z" fill="#9bbcc2"/>
<path d="M219.9 399.2L231.2 399.7L224.7 384.4L213.4 384Z" fill="#b3c4c7"/>
<path d="M411.9 573.6L423.2 570.7L416.7 566.4L405.4 569.3Z" fill="#a7cbd2"/>
<path d="M248.6 293.4L259.9 290.5L253.4 271.8L242.1 274.8Z" fill="#bfd1d4" stroke="none"/>
<path d="M253.9 273.1L253.4 271.8L242.1 274.8L243.8 279.8Z" fill="#d4d4d4" stroke="none"/>
<path d="M248.6 293.4L259.9 290.5L253.4 271.8L242.1 274.8Z" fill="none"/>
<path d="M579.4 345.6L590.7 331.2L584.1 321.7L572.8 336.2Z" fill="#dff3f7"/>
<path d="M533.6 267.2L545 252.7L538.4 239.2L527.1 253.7Z" fill="#def3f6" stroke="none"/>
<path d="M537.3 262.5L545 252.7L538.4 239.2L527.1 253.7L529.6 258.8Z" fill="#f7f7f7" stroke="none"/>
<path d="M533.6 267.2L545 252.7L538.4 239.2L527.1 253.7Z" fill="none"/>
<path d="M347.1 565.1L358.4 564.4L351.8 558.4L340.5 559.1Z" fill="#9fc0c7"/>
<path d="M223 352.2L234.3 351.5L227.7 334.5L216.4 335.2Z" fill="#b7c8cc"/>
<path d="M364.9 569.9L376.2 568.7L369.7 563.2L358.4 564.4Z" fill="#a1c3c9"/>
<path d="M227.7 334.5L239.1 333.3L232.5 315.8L221.2 317Z" fill="#b9cbce"/>
<path d="M280.5 527.7L291.8 528.8L285.2 519.9L273.9 518.8Z" fill="#99bac0"/>
<path d="M221.7 426.9L233 427.9L226.5 413.8L215.2 412.8Z" fill="#b0c1c4"/>
<path d="M559 490.3L570.3 479.8L563.7 475.5L552.4 485.9Z" fill="#bee6ee"/>
<path d="M395.7 210.1L407 199.6L400.5 180.9L389.1 191.4Z" fill="#ebebeb"/>
<path d="M587.6 384.5L599 370.6L592.4 362.9L581.1 376.8Z" fill="#ddf2f6"/>
<path d="M502.7 238.8L514.1 224.9L507.5 209.7L496.2 223.6Z" fill="#f5f5f5"/>
<path d="M441.1 570.9L452.4 566.8L445.8 563L434.5 567.1Z" fill="#abd0d6"/>
<path d="M264.7 268.3L276 264.1L269.5 244.9L258.2 249Z" fill="#c2d4d8" stroke="none"/>
<path d="M275 261.2L269.5 244.9L258.2 249L264.3 266.9Z" fill="#d8d8d8" stroke="none"/>
<path d="M264.7 268.3L276 264.1L269.5 244.9L258.2 249Z" fill="none"/>
<path d="M329.2 559.2L340.5 559.1L334 552.5L322.7 552.5Z" fill="#9dbec4"/>
<path d="M218.2 368.6L229.5 368.5L223 352.2L211.7 352.2Z" fill="#b5c6c9"/>
<path d="M382.7 573.5L394.1 571.7L387.5 566.8L376.2 568.7Z" fill="#a3c5cc"/>
<path d="M232.5 315.8L243.8 313.9L237.3 295.8L226 297.7Z" fill="#bbcdd0"/>
<path d="M579.8 448L591.1 435.9L584.6 430.4L573.3 442.6Z" fill="#daeef2"/>
<path d="M442.7 212.7L454 200.5L447.5 183L436.1 195.1Z" fill="#efefef"/>
<path d="M584.6 430.4L595.9 417.7L589.4 411.6L578.1 424.4Z" fill="#dbf0f4"/>
<path d="M460.5 217.5L471.8 204.7L465.3 187.8L454 200.5Z" fill="#f1f1f1"/>
<path d="M542.9 513.1L554.2 503.9L547.6 500.1L536.3 509.4Z" fill="#bbe2ea"/>
<path d="M366.5 210.5L377.8 201.2L371.3 182L360 191.3Z" fill="#e7e7e7"/>
<path d="M585.9 354.5L597.2 340.1L590.7 331.2L579.4 345.6Z" fill="#def3f7"/>
<path d="M527.1 253.7L538.4 239.2L531.9 225.1L520.6 239.6Z" fill="#f6f6f6"/>
<path d="M575.1 464.5L586.4 452.9L579.8 448L568.5 459.6Z" fill="#c0e8f0" stroke="none"/>
<path d="M575.1 464.5L586.4 452.9L579.8 448L572.6 455.4L572.7 462.7Z" fill="#d8edf0" stroke="none"/>
<path d="M575.1 464.5L586.4 452.9L579.8 448L568.5 459.6Z" fill="none"/>
<path d="M424.8 206.7L436.1 195.1L429.6 177L418.3 188.6Z" fill="#eeeeee"/>
<path d="M589.4 411.6L600.7 398.3L594.2 391.7L582.9 405Z" fill="#dcf1f4"/>
<path d="M478.4 221.1L489.7 207.8L483.1 191.4L471.8 204.7Z" fill="#f3f3f3"/>
<path d="M243 487L254.3 488.6L247.8 477.4L236.5 475.8Z" fill="#98b9bf" stroke="none"/>
<path d="M238.3 476.1L236.5 475.8L239.2 480.4Z" fill="#acbcbf" stroke="none"/>
<path d="M243 487L254.3 488.6L247.8 477.4L236.5 475.8Z" fill="none"/>
<path d="M236.5 475.8L247.8 477.4L241.3 465.7L230 464Z" fill="#99b9bf" stroke="none"/>
<path d="M236.5 475.8L238.3 476.1L237.2 465.1L230 464Z" fill="#acbcbf" stroke="none"/>
<path d="M236.5 475.8L247.8 477.4L241.3 465.7L230 464Z" fill="none"/>
<path d="M249.6 497.6L260.9 499.3L254.3 488.6L243 487Z" fill="#98b8be"/>
<path d="M230 464L241.3 465.7L234.7 453.3L223.4 451.7Z" fill="#99b9bf" stroke="none"/>
<path d="M230 464L237.2 465.1L237.1 457.8L234.7 453.3L223.4 451.7Z" fill="#adbdc0" stroke="none"/>
<path d="M230 464L241.3 465.7L234.7 453.3L223.4 451.7Z" fill="none"/>
<path d="M287 536.1L298.3 537.1L291.8 528.8L280.5 527.7Z" fill="#99b9bf"/>
<path d="M215.2 412.8L226.5 413.8L219.9 399.2L208.6 398.1Z" fill="#b0c1c4"/>
<path d="M311.4 552.1L322.7 552.5L316.2 545.4L304.8 544.9Z" fill="#9abbc1"/>
<path d="M213.4 384L224.7 384.4L218.2 368.6L206.9 368.1Z" fill="#b3c3c7"/>
<path d="M492.8 554.1L504.1 547.7L497.6 544.5L486.3 551Z" fill="#b2d8df"/>
<path d="M303.4 229.1L314.7 222.7L308.2 202.9L296.9 209.3Z" fill="#dfdfdf"/>
<path d="M504.1 547.7L515.5 540.7L508.9 537.6L497.6 544.5Z" fill="#b4dae1"/>
<path d="M314.7 222.7L326.1 215.7L319.5 195.9L308.2 202.9Z" fill="#e0e0e0"/>
<path d="M400.6 576L411.9 573.6L405.4 569.3L394.1 571.7Z" fill="#a4c7ce"/>
<path d="M237.3 295.8L248.6 293.4L242.1 274.8L230.8 277.2Z" fill="#bdced2" stroke="none"/>
<path d="M243.8 279.8L242.1 274.8L230.8 277.2L234.2 287Z" fill="#d2d2d2" stroke="none"/>
<path d="M237.3 295.8L248.6 293.4L242.1 274.8L230.8 277.2Z" fill="none"/>
<path d="M429.7 574.4L441.1 570.9L434.5 567.1L423.2 570.7Z" fill="#a8ccd3"/>
<path d="M253.4 271.8L264.7 268.3L258.2 249L246.9 252.5Z" fill="#c0d2d6" stroke="none"/>
<path d="M253.4 271.8L258.9 270.1L264.3 266.9L258.2 249L246.9 252.5Z" fill="#d6d6d6" stroke="none"/>
<path d="M253.4 271.8L264.7 268.3L258.2 249L246.9 252.5Z" fill="none"/>
<path d="M481.5 560L492.8 554.1L486.3 551L475 556.8Z" fill="#b0d6dd"/>
<path d="M292.1 234.9L303.4 229.1L296.9 209.3L285.6 215.1Z" fill="#dddddd"/>
<path d="M326.1 215.7L337.4 208.1L330.8 188.3L319.5 195.9Z" fill="#e2e2e2"/>
<path d="M515.5 540.7L526.8 533.2L520.2 530L508.9 537.6Z" fill="#b6dce3"/>
<path d="M256.1 507.7L267.4 509.3L260.9 499.3L249.6 497.6Z" fill="#98b8be"/>
<path d="M223.4 451.7L234.7 453.3L228.2 440.4L216.9 438.7Z" fill="#adbdc0"/>
<path d="M554.2 503.9L565.5 494L559 490.3L547.6 500.1Z" fill="#bbe3eb"/>
<path d="M377.8 201.2L389.1 191.4L382.6 172.1L371.3 182Z" fill="#e8e8e8"/>
<path d="M564.6 289.8L575.9 274.8L569.3 263L558 278Z" fill="#def3f7" stroke="none"/>
<path d="M569.9 282.7L575.9 274.8L569.3 263L559.8 275.6Z" fill="#f7f7f7" stroke="none"/>
<path d="M564.6 289.8L575.9 274.8L569.3 263L558 278Z" fill="none"/>
<path d="M571.1 301L582.4 286L575.9 274.8L564.6 289.8Z" fill="#def3f7" stroke="none"/>
<path d="M579.4 290L582.4 286L575.9 274.8L569.9 282.7Z" fill="#f8f8f8" stroke="none"/>
<path d="M571.1 301L582.4 286L575.9 274.8L564.6 289.8Z" fill="none"/>
<path d="M570.3 479.8L581.6 468.8L575.1 464.5L563.7 475.5Z" fill="#bee6ee" stroke="none"/>
<path d="M571 479.1L581.6 468.8L575.1 464.5L572.5 467Z" fill="#d6ebee" stroke="none"/>
<path d="M570.3 479.8L581.6 468.8L575.1 464.5L563.7 475.5Z" fill="none"/>
<path d="M407 199.6L418.3 188.6L411.8 169.9L400.5 180.9Z" fill="#ececec"/>
<path d="M594.2 391.7L605.5 377.8L599 370.6L587.6 384.5Z" fill="#dcf1f5"/>
<path d="M496.2 223.6L507.5 209.7L501 193.9L489.7 207.8Z" fill="#f4f4f4"/>
<path d="M592.4 362.9L603.7 348.4L597.2 340.1L585.9 354.5Z" fill="#ddf2f6"/>
<path d="M520.6 239.6L531.9 225.1L525.4 210.5L514.1 224.9Z" fill="#f5f5f5"/>
<path d="M558 278L569.3 263L562.8 250.6L551.5 265.7Z" fill="#def3f7" stroke="none"/>
<path d="M559.8 275.6L569.3 263L562.8 250.6L551.5 265.7L555.2 272.7Z" fill="#f7f7f7" stroke="none"/>
<path d="M558 278L569.3 263L562.8 250.6L551.5 265.7Z" fill="none"/>
<path d="M577.6 311.6L588.9 296.6L582.4 286L571.1 301Z" fill="#def3f7" stroke="none"/>
<path d="M588.1 297.6L588.9 296.6L582.4 286L579.4 290Z" fill="#f7f7f7" stroke="none"/>
<path d="M577.6 311.6L588.9 296.6L582.4 286L571.1 301Z" fill="none"/>
<path d="M470.2 565.2L481.5 560L475 556.8L463.7 562.1Z" fill="#aed3da"/>
<path d="M280.8 240.2L292.1 234.9L285.6 215.1L274.3 220.4Z" fill="#dbdbdb"/>
<path d="M337.4 208.1L348.7 200L342.1 180.2L330.8 188.3Z" fill="#e3e3e3"/>
<path d="M526.8 533.2L538.1 525L531.6 521.9L520.2 530Z" fill="#b7dde5"/>
<path d="M353.6 570.6L364.9 569.9L358.4 564.4L347.1 565.1Z" fill="#9ebfc5"/>
<path d="M216.4 335.2L227.7 334.5L221.2 317L209.9 317.7Z" fill="#b7c8cb"/>
<path d="M262.6 517.2L273.9 518.8L267.4 509.3L256.1 507.7Z" fill="#97b7bd"/>
<path d="M216.9 438.7L228.2 440.4L221.7 426.9L210.4 425.2Z" fill="#adbdc0"/>
<path d="M584.1 321.7L595.5 306.7L588.9 296.6L577.6 311.6Z" fill="#def3f7" stroke="none"/>
<path d="M592.1 301.5L588.9 296.6L588.1 297.6Z" fill="#f7f7f7" stroke="none"/>
<path d="M584.1 321.7L595.5 306.7L588.9 296.6L577.6 311.6Z" fill="none"/>
<path d="M551.5 265.7L562.8 250.6L556.3 237.7L545 252.7Z" fill="#f7f7f7"/>
<path d="M335.7 565.2L347.1 565.1L340.5 559.1L329.2 559.2Z" fill="#9cbdc3"/>
<path d="M211.7 352.2L223 352.2L216.4 335.2L205.1 335.3Z" fill="#b5c6c9"/>
<path d="M221.2 317L232.5 315.8L226 297.7L214.7 298.9Z" fill="#b9cacd" stroke="none"/>
<path d="M221.1 298.2L214.7 298.9L216.2 303Z" fill="#cecece" stroke="none"/>
<path d="M221.2 317L232.5 315.8L226 297.7L214.7 298.9Z" fill="none"/>
<path d="M371.4 574.8L382.7 573.5L376.2 568.7L364.9 569.9Z" fill="#a0c1c8"/>
<path d="M293.5 543.8L304.8 544.9L298.3 537.1L287 536.1Z" fill="#98b8be"/>
<path d="M208.6 398.1L219.9 399.2L213.4 384L202.1 382.9Z" fill="#b0c1c4"/>
<path d="M458.9 569.9L470.2 565.2L463.7 562.1L452.4 566.8Z" fill="#acd0d7"/>
<path d="M269.5 244.9L280.8 240.2L274.3 220.4L263 225.1Z" fill="#d9d9d9"/>
<path d="M591.1 435.9L602.5 423.1L595.9 417.7L584.6 430.4Z" fill="#daeef2"/>
<path d="M454 200.5L465.3 187.8L458.8 170.2L447.5 183Z" fill="#f0f0f0"/>
<path d="M418.4 577.4L429.7 574.4L423.2 570.7L411.9 573.6Z" fill="#a6c9cf"/>
<path d="M242.1 274.8L253.4 271.8L246.9 252.5L235.6 255.5Z" fill="#d4d4d4"/>
<path d="M538.1 525L549.4 516.3L542.9 513.1L531.6 521.9Z" fill="#b8dfe6"/>
<path d="M348.7 200L360 191.3L353.5 171.5L342.1 180.2Z" fill="#e5e5e5"/>
<path d="M586.4 452.9L597.7 440.7L591.1 435.9L579.8 448Z" fill="#d8edf0"/>
<path d="M436.1 195.1L447.5 183L440.9 164.9L429.6 177Z" fill="#eeeeee"/>
<path d="M595.9 417.7L607.2 404.4L600.7 398.3L589.4 411.6Z" fill="#dbeff3"/>
<path d="M471.8 204.7L483.1 191.4L476.6 174.5L465.3 187.8Z" fill="#f1f1f1"/>
<path d="M317.9 558.7L329.2 559.2L322.7 552.5L311.4 552.1Z" fill="#99bac0"/>
<path d="M206.9 368.1L218.2 368.6L211.7 352.2L200.3 351.8Z" fill="#b3c3c6"/>
<path d="M545 252.7L556.3 237.7L549.7 224.2L538.4 239.2Z" fill="#f6f6f6"/>
<path d="M590.7 331.2L602 316.1L595.5 306.7L584.1 321.7Z" fill="#def3f6"/>
<path d="M565.5 494L576.8 483.6L570.3 479.8L559 490.3Z" fill="#bce4eb" stroke="none"/>
<path d="M567.5 492.2L576.8 483.6L570.8 480.1Z" fill="#d4e8ec" stroke="none"/>
<path d="M565.5 494L576.8 483.6L570.3 479.8L559 490.3Z" fill="none"/>
<path d="M389.1 191.4L400.5 180.9L393.9 161.7L382.6 172.1Z" fill="#e9e9e9"/>
<path d="M389.3 577.8L400.6 576L394.1 571.7L382.7 573.5Z" fill="#a1c3ca"/>
<path d="M226 297.7L237.3 295.8L230.8 277.2L219.5 279Z" fill="#bbcccf" stroke="none"/>
<path d="M234.2 287L230.8 277.2L219.5 279L225 294.7Z" fill="#d0d0d0" stroke="none"/>
<path d="M226 297.7L237.3 295.8L230.8 277.2L219.5 279Z" fill="none"/>
<path d="M269.2 526.1L280.5 527.7L273.9 518.8L262.6 517.2Z" fill="#96b6bc"/>
<path d="M210.4 425.2L221.7 426.9L215.2 412.8L203.8 411.1Z" fill="#adbec1"/>
<path d="M599 370.6L610.3 356.2L603.7 348.4L592.4 362.9Z" fill="#ddf1f5"/>
<path d="M514.1 224.9L525.4 210.5L518.8 195.2L507.5 209.7Z" fill="#f4f4f4"/>
<path d="M447.6 574L458.9 569.9L452.4 566.8L441.1 570.9Z" fill="#a9cdd4"/>
<path d="M258.2 249L269.5 244.9L263 225.1L251.7 229.2Z" fill="#d7d7d7"/>
<path d="M581.6 468.8L592.9 457.2L586.4 452.9L575.1 464.5Z" fill="#d6ebee"/>
<path d="M418.3 188.6L429.6 177L423.1 158.3L411.8 169.9Z" fill="#ececec"/>
<path d="M600.7 398.3L612 384.4L605.5 377.8L594.2 391.7Z" fill="#dbf0f4"/>
<path d="M489.7 207.8L501 193.9L494.5 177.5L483.1 191.4Z" fill="#f3f3f3"/>
<path d="M549.4 516.3L560.7 507L554.2 503.9L542.9 513.1Z" fill="#b9e0e7"/>
<path d="M360 191.3L371.3 182L364.8 162.2L353.5 171.5Z" fill="#e6e6e6"/>
<path d="M538.4 239.2L549.7 224.2L543.2 210.1L531.9 225.1Z" fill="#f6f6f6"/>
<path d="M597.2 340.1L608.5 325L602 316.1L590.7 331.2Z" fill="#ddf2f6"/>
<path d="M300.1 551L311.4 552.1L304.8 544.9L293.5 543.8Z" fill="#97b7bd"/>
<path d="M202.1 382.9L213.4 384L206.9 368.1L195.6 367.1Z" fill="#b0c1c4"/>
<path d="M407.1 579.8L418.4 577.4L411.9 573.6L400.6 576Z" fill="#a3c5cc"/>
<path d="M230.8 277.2L242.1 274.8L235.6 255.5L224.2 257.9Z" fill="#d2d2d2"/>
<path d="M231.7 484.8L243 487L236.5 475.8L225.2 473.6Z" fill="#96b6bb" stroke="none"/>
<path d="M231.7 484.8L240.6 486.5L239.2 480.4L236.5 475.8L225.2 473.6Z" fill="#a9b9bc" stroke="none"/>
<path d="M231.7 484.8L243 487L236.5 475.8L225.2 473.6Z" fill="none"/>
<path d="M225.2 473.6L236.5 475.8L230 464L218.7 461.8Z" fill="#a9b9bc"/>
<path d="M275.7 534.4L287 536.1L280.5 527.7L269.2 526.1Z" fill="#96b6bc"/>
<path d="M203.8 411.1L215.2 412.8L208.6 398.1L197.3 396.5Z" fill="#aebec1"/>
<path d="M218.7 461.8L230 464L223.4 451.7L212.1 449.5Z" fill="#aababd"/>
<path d="M238.2 495.4L249.6 497.6L243 487L231.7 484.8Z" fill="#95b5bb" stroke="none"/>
<path d="M238.2 495.4L244 496.6L240.6 486.5L231.7 484.8Z" fill="#a9b8bb" stroke="none"/>
<path d="M238.2 495.4L249.6 497.6L243 487L231.7 484.8Z" fill="none"/>
<path d="M436.3 577.6L447.6 574L441.1 570.9L429.7 574.4Z" fill="#a7cad0"/>
<path d="M246.9 252.5L258.2 249L251.7 229.2L240.3 232.7Z" fill="#d5d5d5"/>
<path d="M205.1 335.3L216.4 335.2L209.9 317.7L198.6 317.8Z" fill="#b5c6c9" stroke="none"/>
<path d="M202.9 317.7L198.6 317.8L199.9 321.4Z" fill="#c9c9c9" stroke="none"/>
<path d="M205.1 335.3L216.4 335.2L209.9 317.7L198.6 317.8Z" fill="none"/>
<path d="M342.3 570.7L353.6 570.6L347.1 565.1L335.7 565.2Z" fill="#9bbbc1"/>
<path d="M209.9 317.7L221.2 317L214.7 298.9L203.4 299.6Z" fill="#b7c8cb" stroke="none"/>
<path d="M216.2 303L214.7 298.9L203.4 299.6L207.8 311.9Z" fill="#cbcbcb" stroke="none"/>
<path d="M209.9 317.7L221.2 317L214.7 298.9L203.4 299.6Z" fill="none"/>
<path d="M360.1 575.4L371.4 574.8L364.9 569.9L353.6 570.6Z" fill="#9cbec4"/>
<path d="M576.8 483.6L588.1 472.5L581.6 468.8L570.3 479.8Z" fill="#bce4eb" stroke="none"/>
<path d="M576.8 483.6L588.1 472.5L581.6 468.8L571 479.1L570.8 480.1Z" fill="#d4e8ec" stroke="none"/>
<path d="M576.8 483.6L588.1 472.5L581.6 468.8L570.3 479.8Z" fill="none"/>
<path d="M400.5 180.9L411.8 169.9L405.2 150.7L393.9 161.7Z" fill="#eaeaea"/>
<path d="M499.4 556.7L510.7 550.3L504.1 547.7L492.8 554.1Z" fill="#b0d5dc"/>
<path d="M510.7 550.3L522 543.3L515.5 540.7L504.1 547.7Z" fill="#b2d7de"/>
<path d="M605.5 377.8L616.8 363.4L610.3 356.2L599 370.6Z" fill="#dcf0f4"/>
<path d="M507.5 209.7L518.8 195.2L512.3 179.4L501 193.9Z" fill="#f4f4f4"/>
<path d="M560.7 507L572 497.2L565.5 494L554.2 503.9Z" fill="#b9e1e8" stroke="none"/>
<path d="M561.6 506.3L572 497.2L566.6 494.5Z" fill="#d1e5e8" stroke="none"/>
<path d="M560.7 507L572 497.2L565.5 494L554.2 503.9Z" fill="none"/>
<path d="M371.3 182L382.6 172.1L376.1 152.3L364.8 162.2Z" fill="#e7e7e7"/>
<path d="M488.1 562.5L499.4 556.7L492.8 554.1L481.5 560Z" fill="#aed3da"/>
<path d="M522 543.3L533.3 535.7L526.8 533.2L515.5 540.7Z" fill="#b3d9e0"/>
<path d="M212.1 449.5L223.4 451.7L216.9 438.7L205.6 436.5Z" fill="#aababd"/>
<path d="M244.8 505.5L256.1 507.7L249.6 497.6L238.2 495.4Z" fill="#95b4ba" stroke="none"/>
<path d="M244.8 505.5L248.3 506.2L244 496.6L238.2 495.4Z" fill="#a8b8bb" stroke="none"/>
<path d="M244.8 505.5L256.1 507.7L249.6 497.6L238.2 495.4Z" fill="none"/>
<path d="M324.4 564.7L335.7 565.2L329.2 559.2L317.9 558.7Z" fill="#99b9bf"/>
<path d="M200.3 351.8L211.7 352.2L205.1 335.3L193.8 334.8Z" fill="#b2c3c6"/>
<path d="M531.9 225.1L543.2 210.1L536.7 195.4L525.4 210.5Z" fill="#f5f5f5"/>
<path d="M603.7 348.4L615.1 333.4L608.5 325L597.2 340.1Z" fill="#ddf1f5"/>
<path d="M582.4 286L593.7 270.4L587.2 259.1L575.9 274.8Z" fill="#f7f7f7"/>
<path d="M575.9 274.8L587.2 259.1L580.6 247.4L569.3 263Z" fill="#f7f7f7"/>
<path d="M378 579.1L389.3 577.8L382.7 573.5L371.4 574.8Z" fill="#9ec0c6"/>
<path d="M214.7 298.9L226 297.7L219.5 279L208.2 280.2Z" fill="#b9cacd" stroke="none"/>
<path d="M214.7 298.9L221.1 298.2L225 294.7L219.5 279L208.2 280.2Z" fill="#cdcdcd" stroke="none"/>
<path d="M214.7 298.9L226 297.7L219.5 279L208.2 280.2Z" fill="none"/>
<path d="M597.7 440.7L609 428L602.5 423.1L591.1 435.9Z" fill="#d8ecf0"/>
<path d="M447.5 183L458.8 170.2L452.2 152.1L440.9 164.9Z" fill="#efefef"/>
<path d="M602.5 423.1L613.8 409.8L607.2 404.4L595.9 417.7Z" fill="#d9eef2"/>
<path d="M465.3 187.8L476.6 174.5L470.1 156.9L458.8 170.2Z" fill="#f0f0f0"/>
<path d="M476.7 567.8L488.1 562.5L481.5 560L470.2 565.2Z" fill="#acd0d7"/>
<path d="M588.9 296.6L600.2 281L593.7 270.4L582.4 286Z" fill="#f7f7f7"/>
<path d="M569.3 263L580.6 247.4L574.1 235L562.8 250.6Z" fill="#f6f6f6"/>
<path d="M533.3 535.7L544.6 527.6L538.1 525L526.8 533.2Z" fill="#b4dbe2"/>
<path d="M592.9 457.2L604.2 445.1L597.7 440.7L586.4 452.9Z" fill="#d7ebee"/>
<path d="M429.6 177L440.9 164.9L434.4 146.2L423.1 158.3Z" fill="#ededed"/>
<path d="M251.3 515L262.6 517.2L256.1 507.7L244.8 505.5Z" fill="#94b4ba" stroke="none"/>
<path d="M251.3 515L253.4 515.4L248.3 506.2L244.8 505.5Z" fill="#a7b7ba" stroke="none"/>
<path d="M251.3 515L262.6 517.2L256.1 507.7L244.8 505.5Z" fill="none"/>
<path d="M205.6 436.5L216.9 438.7L210.4 425.2L199.1 423Z" fill="#aabbbd"/>
<path d="M282.2 542.2L293.5 543.8L287 536.1L275.7 534.4Z" fill="#95b5bb"/>
<path d="M197.3 396.5L208.6 398.1L202.1 382.9L190.8 381.3Z" fill="#aebec1"/>
<path d="M607.2 404.4L618.6 390.5L612 384.4L600.7 398.3Z" fill="#daeff3"/>
<path d="M483.1 191.4L494.5 177.5L487.9 160.6L476.6 174.5Z" fill="#f2f2f2"/>
<path d="M595.5 306.7L606.8 291L600.2 281L588.9 296.6Z" fill="#ddf2f6" stroke="none"/>
<path d="M596.3 305.6L606.8 291L600.2 281L588.9 296.6L592.1 301.5Z" fill="#f6f6f6" stroke="none"/>
<path d="M595.5 306.7L606.8 291L600.2 281L588.9 296.6Z" fill="none"/>
<path d="M562.8 250.6L574.1 235L567.6 222.1L556.3 237.7Z" fill="#f6f6f6"/>
<path d="M425 580.5L436.3 577.6L429.7 574.4L418.4 577.4Z" fill="#a4c7cd"/>
<path d="M235.6 255.5L246.9 252.5L240.3 232.7L229 235.7Z" fill="#d3d3d3"/>
<path d="M306.6 557.6L317.9 558.7L311.4 552.1L300.1 551Z" fill="#97b6bc"/>
<path d="M195.6 367.1L206.9 368.1L200.3 351.8L189 350.7Z" fill="#b0c1c4"/>
<path d="M465.4 572.5L476.7 567.8L470.2 565.2L458.9 569.9Z" fill="#aaced4"/>
<path d="M395.8 581.6L407.1 579.8L400.6 576L389.3 577.8Z" fill="#a0c2c8"/>
<path d="M219.5 279L230.8 277.2L224.2 257.9L212.9 259.7Z" fill="#cfcfcf"/>
<path d="M544.6 527.6L555.9 518.9L549.4 516.3L538.1 525Z" fill="#b6dce3" stroke="none"/>
<path d="M551.8 522L555.9 518.9L554.5 518.3Z" fill="#cde0e4" stroke="none"/>
<path d="M544.6 527.6L555.9 518.9L549.4 516.3L538.1 525Z" fill="none"/>
<path d="M572 497.2L583.3 486.7L576.8 483.6L565.5 494Z" fill="#bae1e9" stroke="none"/>
<path d="M572 497.2L583.3 486.7L576.8 483.6L567.5 492.2L566.6 494.5Z" fill="#d2e5e9" stroke="none"/>
<path d="M572 497.2L583.3 486.7L576.8 483.6L565.5 494Z" fill="none"/>
<path d="M382.6 172.1L393.9 161.7L387.4 141.9L376.1 152.3Z" fill="#e8e8e8" stroke="none"/>
<path d="M388.1 144L387.4 141.9L384.9 144.1Z" fill="#e8d2d2" stroke="none"/>
<path d="M382.6 172.1L393.9 161.7L387.4 141.9L376.1 152.3Z" fill="none"/>
<path d="M610.3 356.2L621.6 341.1L615.1 333.4L603.7 348.4Z" fill="#dcf1f5"/>
<path d="M525.4 210.5L536.7 195.4L530.1 180.2L518.8 195.2Z" fill="#f4f4f4"/>
<path d="M602 316.1L613.3 300.5L606.8 291L595.5 306.7Z" fill="#ddf2f6" stroke="none"/>
<path d="M603.7 313.8L613.3 300.5L606.8 291L596.3 305.6Z" fill="#f6f6f6" stroke="none"/>
<path d="M602 316.1L613.3 300.5L606.8 291L595.5 306.7Z" fill="none"/>
<path d="M556.3 237.7L567.6 222.1L561.1 208.6L549.7 224.2Z" fill="#f6f6f6"/>
<path d="M588.1 472.5L599.4 461L592.9 457.2L581.6 468.8Z" fill="#d5e9ec"/>
<path d="M411.8 169.9L423.1 158.3L416.6 139.1L405.2 150.7Z" fill="#ebebeb" stroke="none"/>
<path d="M418.2 143.8L416.6 139.1L412.1 143.7Z" fill="#ebd5d5" stroke="none"/>
<path d="M411.8 169.9L423.1 158.3L416.6 139.1L405.2 150.7Z" fill="none"/>
<path d="M199.1 423L210.4 425.2L203.8 411.1L192.5 408.9Z" fill="#abbbbe"/>
<path d="M257.8 523.9L269.2 526.1L262.6 517.2L251.3 515Z" fill="#94b3b9" stroke="none"/>
<path d="M257.8 523.9L259.5 524.2L253.4 515.4L251.3 515Z" fill="#a7b6b9" stroke="none"/>
<path d="M257.8 523.9L269.2 526.1L262.6 517.2L251.3 515Z" fill="none"/>
<path d="M612 384.4L623.3 370L616.8 363.4L605.5 377.8Z" fill="#dbeff3"/>
<path d="M501 193.9L512.3 179.4L505.8 163.1L494.5 177.5Z" fill="#f3f3f3"/>
<path d="M454.1 576.6L465.4 572.5L458.9 569.9L447.6 574Z" fill="#a7cbd1"/>
<path d="M555.9 518.9L567.2 509.6L560.7 507L549.4 516.3Z" fill="#b7dde4" stroke="none"/>
<path d="M555.9 518.9L567.2 509.6L561.1 507.2L554.5 518.3Z" fill="#cee1e5" stroke="none"/>
<path d="M555.9 518.9L567.2 509.6L560.7 507L549.4 516.3Z" fill="none"/>
<path d="M198.6 317.8L209.9 317.7L203.4 299.6L192.1 299.7Z" fill="#b4c5c9" stroke="none"/>
<path d="M198.6 317.8L202.9 317.7L207.8 311.9L203.4 299.6L192.1 299.7Z" fill="#c9c9c9" stroke="none"/>
<path d="M198.6 317.8L209.9 317.7L203.4 299.6L192.1 299.7Z" fill="none"/>
<path d="M348.8 575.5L360.1 575.4L353.6 570.6L342.3 570.7Z" fill="#9abac0"/>
<path d="M288.7 549.4L300.1 551L293.5 543.8L282.2 542.2Z" fill="#95b4ba"/>
<path d="M190.8 381.3L202.1 382.9L195.6 367.1L184.2 365.5Z" fill="#aebec1"/>
<path d="M331 570.2L342.3 570.7L335.7 565.2L324.4 564.7Z" fill="#98b8be"/>
<path d="M193.8 334.8L205.1 335.3L198.6 317.8L187.3 317.3Z" fill="#b2c3c6" stroke="none"/>
<path d="M199.9 321.4L198.6 317.8L187.3 317.3L192.6 331.7Z" fill="#c7c7c7" stroke="none"/>
<path d="M193.8 334.8L205.1 335.3L198.6 317.8L187.3 317.3Z" fill="none"/>
<path d="M549.7 224.2L561.1 208.6L554.5 194.5L543.2 210.1Z" fill="#f5f5f5"/>
<path d="M608.5 325L619.8 309.4L613.3 300.5L602 316.1Z" fill="#ddf1f5" stroke="none"/>
<path d="M610.5 322.3L619.8 309.4L613.3 300.5L603.7 313.8Z" fill="#f6f6f6" stroke="none"/>
<path d="M608.5 325L619.8 309.4L613.3 300.5L602 316.1Z" fill="none"/>
<path d="M366.7 579.8L378 579.1L371.4 574.8L360.1 575.4Z" fill="#9bbcc2"/>
<path d="M203.4 299.6L214.7 298.9L208.2 280.2L196.8 280.9Z" fill="#cbcbcb"/>
<path d="M413.7 582.9L425 580.5L418.4 577.4L407.1 579.8Z" fill="#a1c3ca"/>
<path d="M224.2 257.9L235.6 255.5L229 235.7L217.7 238.1Z" fill="#d1d1d1"/>
<path d="M264.4 532.2L275.7 534.4L269.2 526.1L257.8 523.9Z" fill="#93b2b8" stroke="none"/>
<path d="M264.4 532.2L266.5 532.6L259.5 524.2L257.8 523.9Z" fill="#a6b6b9" stroke="none"/>
<path d="M264.4 532.2L275.7 534.4L269.2 526.1L257.8 523.9Z" fill="none"/>
<path d="M192.5 408.9L203.8 411.1L197.3 396.5L186 394.3Z" fill="#abbbbe"/>
<path d="M609 428L620.3 414.7L613.8 409.8L602.5 423.1Z" fill="#d8ecf0"/>
<path d="M458.8 170.2L470.1 156.9L463.6 138.8L452.2 152.1Z" fill="#efefef" stroke="none"/>
<path d="M467.1 148.8L463.6 138.8L456.5 147.1Z" fill="#efd8d8" stroke="none"/>
<path d="M458.8 170.2L470.1 156.9L463.6 138.8L452.2 152.1Z" fill="none"/>
<path d="M583.3 486.7L594.6 475.7L588.1 472.5L576.8 483.6Z" fill="#d2e6ea"/>
<path d="M393.9 161.7L405.2 150.7L398.7 130.9L387.4 141.9Z" fill="#e9e9e9" stroke="none"/>
<path d="M402.9 143.6L398.7 130.9L387.4 141.9L388.1 144Z" fill="#e9d3d3" stroke="none"/>
<path d="M393.9 161.7L405.2 150.7L398.7 130.9L387.4 141.9Z" fill="none"/>
<path d="M213.9 470.8L225.2 473.6L218.7 461.8L207.3 459Z" fill="#a7b6b9"/>
<path d="M220.4 482L231.7 484.8L225.2 473.6L213.9 470.8Z" fill="#a6b6b9"/>
<path d="M604.2 445.1L615.5 432.3L609 428L597.7 440.7Z" fill="#d6ebee"/>
<path d="M440.9 164.9L452.2 152.1L445.7 133.4L434.4 146.2Z" fill="#eeeeee" stroke="none"/>
<path d="M450.2 146.3L445.7 133.4L435.6 144.8Z" fill="#eed7d7" stroke="none"/>
<path d="M440.9 164.9L452.2 152.1L445.7 133.4L434.4 146.2Z" fill="none"/>
<path d="M442.8 580.2L454.1 576.6L447.6 574L436.3 577.6Z" fill="#a5c8ce"/>
<path d="M613.8 409.8L625.1 395.9L618.6 390.5L607.2 404.4Z" fill="#d9edf1"/>
<path d="M476.6 174.5L487.9 160.6L481.4 143L470.1 156.9Z" fill="#f0f0f0" stroke="none"/>
<path d="M484.8 152.2L481.4 143L475.5 150.3Z" fill="#f0d9d9" stroke="none"/>
<path d="M476.6 174.5L487.9 160.6L481.4 143L470.1 156.9Z" fill="none"/>
<path d="M313.1 563.7L324.4 564.7L317.9 558.7L306.6 557.6Z" fill="#96b5bb"/>
<path d="M189 350.7L200.3 351.8L193.8 334.8L182.5 333.8Z" fill="#b0c1c4" stroke="none"/>
<path d="M190.8 334.5L182.5 333.8L186 342.8Z" fill="#c4c4c4" stroke="none"/>
<path d="M189 350.7L200.3 351.8L193.8 334.8L182.5 333.8Z" fill="none"/>
<path d="M616.8 363.4L628.1 348.3L621.6 341.1L610.3 356.2Z" fill="#dbf0f4" stroke="none"/>
<path d="M627.3 349.4L628.1 348.3L625 344.8Z" fill="#f4f4f4" stroke="none"/>
<path d="M616.8 363.4L628.1 348.3L621.6 341.1L610.3 356.2Z" fill="none"/>
<path d="M518.8 195.2L530.1 180.2L523.6 164.4L512.3 179.4Z" fill="#f3f3f3"/>
<path d="M384.5 582.8L395.8 581.6L389.3 577.8L378 579.1Z" fill="#9dbec4"/>
<path d="M208.2 280.2L219.5 279L212.9 259.7L201.6 261Z" fill="#cdcdcd"/>
<path d="M207.3 459L218.7 461.8L212.1 449.5L200.8 446.7Z" fill="#a7b7ba"/>
<path d="M226.9 492.7L238.2 495.4L231.7 484.8L220.4 482Z" fill="#a6b5b8"/>
<path d="M567.2 509.6L578.6 499.7L572 497.2L560.7 507Z" fill="#b7dee5" stroke="none"/>
<path d="M567.2 509.6L578.6 499.7L572 497.2L561.6 506.3L561.1 507.2Z" fill="#cfe2e6" stroke="none"/>
<path d="M567.2 509.6L578.6 499.7L572 497.2L560.7 507Z" fill="none"/>
<path d="M505.9 558.7L517.2 552.3L510.7 550.3L499.4 556.7Z" fill="#aed3d9"/>
<path d="M517.2 552.3L528.5 545.3L522 543.3L510.7 550.3Z" fill="#afd5dc"/>
<path d="M543.2 210.1L554.5 194.5L548 179.8L536.7 195.4Z" fill="#f5f5f5"/>
<path d="M615.1 333.4L626.4 317.8L619.8 309.4L608.5 325Z" fill="#dcf1f5" stroke="none"/>
<path d="M616.8 331L626.4 317.8L619.8 309.4L610.5 322.3Z" fill="#f5f5f5" stroke="none"/>
<path d="M615.1 333.4L626.4 317.8L619.8 309.4L608.5 325Z" fill="none"/>
<path d="M494.6 564.6L505.9 558.7L499.4 556.7L488.1 562.5Z" fill="#acd0d7"/>
<path d="M599.4 461L610.7 448.8L604.2 445.1L592.9 457.2Z" fill="#d5e9ec"/>
<path d="M423.1 158.3L434.4 146.2L427.9 126.9L416.6 139.1Z" fill="#ececec" stroke="none"/>
<path d="M433.9 144.7L427.9 126.9L416.6 139.1L418.2 143.8Z" fill="#ecd5d5" stroke="none"/>
<path d="M423.1 158.3L434.4 146.2L427.9 126.9L416.6 139.1Z" fill="none"/>
<path d="M233.5 502.7L244.8 505.5L238.2 495.4L226.9 492.7Z" fill="#a5b5b8"/>
<path d="M200.8 446.7L212.1 449.5L205.6 436.5L194.3 433.7Z" fill="#a8b7ba"/>
<path d="M528.5 545.3L539.8 537.8L533.3 535.7L522 543.3Z" fill="#b1d6dd" stroke="none"/>
<path d="M535.2 540.9L539.8 537.8L538.8 537.4Z" fill="#c8dade" stroke="none"/>
<path d="M528.5 545.3L539.8 537.8L533.3 535.7L522 543.3Z" fill="none"/>
<path d="M618.6 390.5L629.9 376L623.3 370L612 384.4Z" fill="#daeef2"/>
<path d="M494.5 177.5L505.8 163.1L499.2 146.1L487.9 160.6Z" fill="#f2f2f2" stroke="none"/>
<path d="M503.3 156.7L499.2 146.1L493 154Z" fill="#f2dbdb" stroke="none"/>
<path d="M494.5 177.5L505.8 163.1L499.2 146.1L487.9 160.6Z" fill="none"/>
<path d="M587.2 259.1L598.5 243L592 231.2L580.6 247.4Z" fill="#f6f6f6"/>
<path d="M593.7 270.4L605 254.2L598.5 243L587.2 259.1Z" fill="#f6f6f6"/>
<path d="M483.3 569.8L494.6 564.6L488.1 562.5L476.7 567.8Z" fill="#aaced5"/>
<path d="M580.6 247.4L592 231.2L585.4 218.8L574.1 235Z" fill="#f6f6f6"/>
<path d="M600.2 281L611.6 264.8L605 254.2L593.7 270.4Z" fill="#f6f6f6"/>
<path d="M270.9 540L282.2 542.2L275.7 534.4L264.4 532.2Z" fill="#93b2b8" stroke="none"/>
<path d="M270.9 540L274.4 540.7L266.5 532.6L264.4 532.2Z" fill="#a5b5b8" stroke="none"/>
<path d="M270.9 540L282.2 542.2L275.7 534.4L264.4 532.2Z" fill="none"/>
<path d="M186 394.3L197.3 396.5L190.8 381.3L179.5 379.1Z" fill="#abbbbe"/>
<path d="M539.8 537.8L551.1 529.6L544.6 527.6L533.3 535.7Z" fill="#b2d8df" stroke="none"/>
<path d="M539.8 537.8L551.1 529.6L547 528.3L538.8 537.4Z" fill="#c9dce0" stroke="none"/>
<path d="M539.8 537.8L551.1 529.6L544.6 527.6L533.3 535.7Z" fill="none"/>
<path d="M295.3 556L306.6 557.6L300.1 551L288.7 549.4Z" fill="#94b3b9"/>
<path d="M184.2 365.5L195.6 367.1L189 350.7L177.7 349.1Z" fill="#aebec1" stroke="none"/>
<path d="M182.3 349.7L177.7 349.1L180 354.8Z" fill="#c2c2c2" stroke="none"/>
<path d="M184.2 365.5L195.6 367.1L189 350.7L177.7 349.1Z" fill="none"/>
<path d="M402.3 584.7L413.7 582.9L407.1 579.8L395.8 581.6Z" fill="#9ec0c6"/>
<path d="M212.9 259.7L224.2 257.9L217.7 238.1L206.4 239.9Z" fill="#cfcfcf"/>
<path d="M240 512.2L251.3 515L244.8 505.5L233.5 502.7Z" fill="#a5b4b7"/>
<path d="M194.3 433.7L205.6 436.5L199.1 423L187.7 420.2Z" fill="#a8b8bb"/>
<path d="M431.5 583.1L442.8 580.2L436.3 577.6L425 580.5Z" fill="#a2c5cb"/>
<path d="M606.8 291L618.1 274.9L611.6 264.8L600.2 281Z" fill="#f6f6f6"/>
<path d="M574.1 235L585.4 218.8L578.9 205.9L567.6 222.1Z" fill="#f6f6f6"/>
<path d="M472 574.5L483.3 569.8L476.7 567.8L465.4 572.5Z" fill="#a8cbd2"/>
<path d="M578.6 499.7L589.9 489.3L583.3 486.7L572 497.2Z" fill="#d0e3e7"/>
<path d="M594.6 475.7L606 464.1L599.4 461L588.1 472.5Z" fill="#d3e6ea"/>
<path d="M405.2 150.7L416.6 139.1L410 119.3L398.7 130.9Z" fill="#eaeaea" stroke="none"/>
<path d="M412.1 143.7L416.6 139.1L410 119.3L398.7 130.9L402.9 143.6Z" fill="#ead4d4" stroke="none"/>
<path d="M405.2 150.7L416.6 139.1L410 119.3L398.7 130.9Z" fill="none"/>
<path d="M551.1 529.6L562.5 520.9L555.9 518.9L544.6 527.6Z" fill="#b4dae1" stroke="none"/>
<path d="M551.1 529.6L562.5 520.9L555.9 518.9L551.8 522L547 528.3Z" fill="#cbdee1" stroke="none"/>
<path d="M551.1 529.6L562.5 520.9L555.9 518.9L544.6 527.6Z" fill="none"/>
<path d="M337.5 575.1L348.8 575.5L342.3 570.7L331 570.2Z" fill="#97b7bd"/>
<path d="M187.3 317.3L198.6 317.8L192.1 299.7L180.7 299.2Z" fill="#c7c7c7"/>
<path d="M623.3 370L634.6 354.9L628.1 348.3L616.8 363.4Z" fill="#daeff3" stroke="none"/>
<path d="M631.6 359L634.6 354.9L628.1 348.3L627.3 349.4Z" fill="#f3f3f3" stroke="none"/>
<path d="M623.3 370L634.6 354.9L628.1 348.3L616.8 363.4Z" fill="none"/>
<path d="M512.3 179.4L523.6 164.4L517.1 148L505.8 163.1Z" fill="#f3f3f3" stroke="none"/>
<path d="M522.9 162.7L517.1 148L509.3 158.4Z" fill="#f3dbdb" stroke="none"/>
<path d="M512.3 179.4L523.6 164.4L517.1 148L505.8 163.1Z" fill="none"/>
<path d="M355.3 579.8L366.7 579.8L360.1 575.4L348.8 575.5Z" fill="#99b9bf"/>
<path d="M192.1 299.7L203.4 299.6L196.8 280.9L185.5 281Z" fill="#c9c9c9"/>
<path d="M621.6 341.1L632.9 325.5L626.4 317.8L615.1 333.4Z" fill="#dcf0f4" stroke="none"/>
<path d="M622.4 340.1L632.9 325.5L626.4 317.8L616.8 331Z" fill="#f4f4f4" stroke="none"/>
<path d="M621.6 341.1L632.9 325.5L626.4 317.8L615.1 333.4Z" fill="none"/>
<path d="M536.7 195.4L548 179.8L541.5 164.6L530.1 180.2Z" fill="#f4f4f4" stroke="none"/>
<path d="M544.1 170.6L541.5 164.6L538.7 168.5Z" fill="#f4dddd" stroke="none"/>
<path d="M536.7 195.4L548 179.8L541.5 164.6L530.1 180.2Z" fill="none"/>
<path d="M567.6 222.1L578.9 205.9L572.4 192.4L561.1 208.6Z" fill="#f5f5f5"/>
<path d="M613.3 300.5L624.6 284.3L618.1 274.9L606.8 291Z" fill="#f5f5f5"/>
<path d="M187.7 420.2L199.1 423L192.5 408.9L181.2 406.2Z" fill="#a8b8bb"/>
<path d="M246.5 521.1L257.8 523.9L251.3 515L240 512.2Z" fill="#a4b4b6"/>
<path d="M319.7 569.1L331 570.2L324.4 564.7L313.1 563.7Z" fill="#95b5ba"/>
<path d="M182.5 333.8L193.8 334.8L187.3 317.3L176 316.2Z" fill="#b0c1c4" stroke="none"/>
<path d="M182.5 333.8L190.8 334.5L192.6 331.7L187.3 317.3L176 316.2Z" fill="#c4c4c4" stroke="none"/>
<path d="M182.5 333.8L193.8 334.8L187.3 317.3L176 316.2Z" fill="none"/>
<path d="M373.2 583.5L384.5 582.8L378 579.1L366.7 579.8Z" fill="#9abbc1"/>
<path d="M196.8 280.9L208.2 280.2L201.6 261L190.3 261.6Z" fill="#cbcbcb"/>
<path d="M615.5 432.3L626.8 419L620.3 414.7L609 428Z" fill="#d6ebee"/>
<path d="M452.2 152.1L463.6 138.8L457 120.1L445.7 133.4Z" fill="#eeeeee" stroke="none"/>
<path d="M456.5 147.1L463.6 138.8L457 120.1L445.7 133.4L450.2 146.3Z" fill="#eed7d7" stroke="none"/>
<path d="M452.2 152.1L463.6 138.8L457 120.1L445.7 133.4Z" fill="none"/>
<path d="M620.3 414.7L631.6 400.8L625.1 395.9L613.8 409.8Z" fill="#d8ecf0"/>
<path d="M470.1 156.9L481.4 143L474.9 124.9L463.6 138.8Z" fill="#efefef" stroke="none"/>
<path d="M475.5 150.3L481.4 143L474.9 124.9L463.6 138.8L467.1 148.8Z" fill="#efd9d9" stroke="none"/>
<path d="M470.1 156.9L481.4 143L474.9 124.9L463.6 138.8Z" fill="none"/>
<path d="M460.7 578.6L472 574.5L465.4 572.5L454.1 576.6Z" fill="#a5c8cf"/>
<path d="M277.4 547.2L288.7 549.4L282.2 542.2L270.9 540Z" fill="#92b1b7" stroke="none"/>
<path d="M277.4 547.2L283.2 548.3L274.4 540.7L270.9 540Z" fill="#a5b4b7" stroke="none"/>
<path d="M277.4 547.2L288.7 549.4L282.2 542.2L270.9 540Z" fill="none"/>
<path d="M179.5 379.1L190.8 381.3L184.2 365.5L172.9 363.2Z" fill="#abbcbf" stroke="none"/>
<path d="M176.3 363.9L172.9 363.2L174.9 367.9Z" fill="#bfbfbf" stroke="none"/>
<path d="M179.5 379.1L190.8 381.3L184.2 365.5L172.9 363.2Z" fill="none"/>
<path d="M562.5 520.9L573.8 511.6L567.2 509.6L555.9 518.9Z" fill="#ccdfe2"/>
<path d="M420.2 585.5L431.5 583.1L425 580.5L413.7 582.9Z" fill="#a0c1c8"/>
<path d="M610.7 448.8L622.1 436.1L615.5 432.3L604.2 445.1Z" fill="#d5e9ec"/>
<path d="M434.4 146.2L445.7 133.4L439.2 114.2L427.9 126.9Z" fill="#ececec" stroke="none"/>
<path d="M435.6 144.8L445.7 133.4L439.2 114.2L427.9 126.9L433.9 144.7Z" fill="#ecd6d6" stroke="none"/>
<path d="M434.4 146.2L445.7 133.4L439.2 114.2L427.9 126.9Z" fill="none"/>
<path d="M625.1 395.9L636.4 381.5L629.9 376L618.6 390.5Z" fill="#d9edf1"/>
<path d="M487.9 160.6L499.2 146.1L492.7 128.6L481.4 143Z" fill="#f1f1f1" stroke="none"/>
<path d="M493 154L499.2 146.1L492.7 128.6L481.4 143L484.8 152.2Z" fill="#f1dada" stroke="none"/>
<path d="M487.9 160.6L499.2 146.1L492.7 128.6L481.4 143Z" fill="none"/>
<path d="M561.1 208.6L572.4 192.4L565.8 178.3L554.5 194.5Z" fill="#f5f5f5" stroke="none"/>
<path d="M567.3 181.4L565.8 178.3L564.6 180Z" fill="#f5dddd" stroke="none"/>
<path d="M561.1 208.6L572.4 192.4L565.8 178.3L554.5 194.5Z" fill="none"/>
<path d="M619.8 309.4L631.1 293.3L624.6 284.3L613.3 300.5Z" fill="#f5f5f5"/>
<path d="M301.8 562L313.1 563.7L306.6 557.6L295.3 556Z" fill="#93b2b8" stroke="none"/>
<path d="M301.8 562L303.6 562.3L299.1 559.5Z" fill="#a6b6b9" stroke="none"/>
<path d="M301.8 562L313.1 563.7L306.6 557.6L295.3 556Z" fill="none"/>
<path d="M177.7 349.1L189 350.7L182.5 333.8L171.2 332.1Z" fill="#aebec1" stroke="none"/>
<path d="M177.7 349.1L182.3 349.7L186 342.8L182.5 333.8L171.2 332.1Z" fill="#c2c2c2" stroke="none"/>
<path d="M177.7 349.1L189 350.7L182.5 333.8L171.2 332.1Z" fill="none"/>
<path d="M589.9 489.3L601.2 478.3L594.6 475.7L583.3 486.7Z" fill="#d0e4e7"/>
<path d="M391 586L402.3 584.7L395.8 581.6L384.5 582.8Z" fill="#9cbdc3"/>
<path d="M201.6 261L212.9 259.7L206.4 239.9L195.1 241.1Z" fill="#cdcdcd"/>
<path d="M253.1 529.4L264.4 532.2L257.8 523.9L246.5 521.1Z" fill="#a3b3b6"/>
<path d="M181.2 406.2L192.5 408.9L186 394.3L174.7 391.5Z" fill="#a9b9bb"/>
<path d="M628.1 348.3L639.4 332.7L632.9 325.5L621.6 341.1Z" fill="#dbeff3" stroke="none"/>
<path d="M628.1 348.3L639.4 332.7L632.9 325.5L622.4 340.1L625 344.8Z" fill="#f4f4f4" stroke="none"/>
<path d="M628.1 348.3L639.4 332.7L632.9 325.5L621.6 341.1Z" fill="none"/>
<path d="M530.1 180.2L541.5 164.6L534.9 148.8L523.6 164.4Z" fill="#f3f3f3" stroke="none"/>
<path d="M538.7 168.5L541.5 164.6L534.9 148.8L524.5 163.2Z" fill="#f3dcdc" stroke="none"/>
<path d="M530.1 180.2L541.5 164.6L534.9 148.8L523.6 164.4Z" fill="none"/>
<path d="M449.3 582.2L460.7 578.6L454.1 576.6L442.8 580.2Z" fill="#a3c6cc"/>
<path d="M202.6 467.5L213.9 470.8L207.3 459L196 455.7Z" fill="#a4b4b7"/>
<path d="M209.1 478.7L220.4 482L213.9 470.8L202.6 467.5Z" fill="#a4b3b6"/>
<path d="M606 464.1L617.3 452L610.7 448.8L599.4 461Z" fill="#d3e7ea"/>
<path d="M416.6 139.1L427.9 126.9L421.3 107.1L410 119.3Z" fill="#ebd4d4"/>
<path d="M573.8 511.6L585.1 501.7L578.6 499.7L567.2 509.6Z" fill="#cde0e3"/>
<path d="M505.8 163.1L517.1 148L510.6 131.1L499.2 146.1Z" fill="#f2f2f2" stroke="none"/>
<path d="M509.3 158.4L517.1 148L510.6 131.1L499.2 146.1L503.3 156.7Z" fill="#f2dbdb" stroke="none"/>
<path d="M505.8 163.1L517.1 148L510.6 131.1L499.2 146.1Z" fill="none"/>
<path d="M629.9 376L641.2 361L634.6 354.9L623.3 370Z" fill="#d9eef2" stroke="none"/>
<path d="M635.2 368.9L641.2 361L634.6 354.9L631.6 359Z" fill="#f2f2f2" stroke="none"/>
<path d="M629.9 376L641.2 361L634.6 354.9L623.3 370Z" fill="none"/>
<path d="M196 455.7L207.3 459L200.8 446.7L189.5 443.3Z" fill="#a5b4b7"/>
<path d="M215.6 489.3L226.9 492.7L220.4 482L209.1 478.7Z" fill="#a3b3b6"/>
<path d="M554.5 194.5L565.8 178.3L559.3 163.6L548 179.8Z" fill="#f4f4f4" stroke="none"/>
<path d="M564.6 180L565.8 178.3L559.3 163.6L552 174.1Z" fill="#f4dddd" stroke="none"/>
<path d="M554.5 194.5L565.8 178.3L559.3 163.6L548 179.8Z" fill="none"/>
<path d="M626.4 317.8L637.7 301.6L631.1 293.3L619.8 309.4Z" fill="#f5f5f5"/>
<path d="M512.4 560.2L523.7 553.7L517.2 552.3L505.9 558.7Z" fill="#acd0d7" stroke="none"/>
<path d="M512.4 560.2L523.7 553.7L520.4 553L510.4 559.7Z" fill="#c2d4d7" stroke="none"/>
<path d="M512.4 560.2L523.7 553.7L517.2 552.3L505.9 558.7Z" fill="none"/>
<path d="M523.7 553.7L535.1 546.8L528.5 545.3L517.2 552.3Z" fill="#add2d9" stroke="none"/>
<path d="M523.7 553.7L535.1 546.8L529.9 545.6L520.4 553Z" fill="#c4d6d9" stroke="none"/>
<path d="M523.7 553.7L535.1 546.8L528.5 545.3L517.2 552.3Z" fill="none"/>
<path d="M501.1 566L512.4 560.2L505.9 558.7L494.6 564.6Z" fill="#aaced5" stroke="none"/>
<path d="M501.1 566L512.4 560.2L510.4 559.7L499.9 565.7Z" fill="#c0d2d5" stroke="none"/>
<path d="M501.1 566L512.4 560.2L505.9 558.7L494.6 564.6Z" fill="none"/>
<path d="M222.2 499.4L233.5 502.7L226.9 492.7L215.6 489.3Z" fill="#a3b2b5"/>
<path d="M189.5 443.3L200.8 446.7L194.3 433.7L183 430.4Z" fill="#a5b5b8"/>
<path d="M535.1 546.8L546.4 539.2L539.8 537.8L528.5 545.3Z" fill="#afd4db" stroke="none"/>
<path d="M535.1 546.8L546.4 539.2L539.8 537.8L535.2 540.9L529.9 545.6Z" fill="#c5d8db" stroke="none"/>
<path d="M535.1 546.8L546.4 539.2L539.8 537.8L528.5 545.3Z" fill="none"/>
<path d="M284 553.8L295.3 556L288.7 549.4L277.4 547.2Z" fill="#91b0b6" stroke="none"/>
<path d="M284 553.8L292.9 555.5L283.2 548.3L277.4 547.2Z" fill="#a4b3b6" stroke="none"/>
<path d="M284 553.8L295.3 556L288.7 549.4L277.4 547.2Z" fill="none"/>
<path d="M172.9 363.2L184.2 365.5L177.7 349.1L166.4 346.9Z" fill="#acbcbf" stroke="none"/>
<path d="M172.9 363.2L176.3 363.9L180 354.8L177.7 349.1L166.4 346.9Z" fill="#bfbfbf" stroke="none"/>
<path d="M172.9 363.2L184.2 365.5L177.7 349.1L166.4 346.9Z" fill="none"/>
<path d="M344 579.4L355.3 579.8L348.8 575.5L337.5 575.1Z" fill="#96b6bc"/>
<path d="M180.7 299.2L192.1 299.7L185.5 281L174.2 280.5Z" fill="#c6c6c6"/>
<path d="M408.9 587.3L420.2 585.5L413.7 582.9L402.3 584.7Z" fill="#9dbec4"/>
<path d="M259.6 537.2L270.9 540L264.4 532.2L253.1 529.4Z" fill="#a3b2b5"/>
<path d="M174.7 391.5L186 394.3L179.5 379.1L168.2 376.3Z" fill="#a9b9bc" stroke="none"/>
<path d="M172.1 377.2L168.2 376.3L170.8 382.5Z" fill="#bcbcbc" stroke="none"/>
<path d="M174.7 391.5L186 394.3L179.5 379.1L168.2 376.3Z" fill="none"/>
<path d="M326.2 574L337.5 575.1L331 570.2L319.7 569.1Z" fill="#94b4b9" stroke="none"/>
<path d="M326.2 574L328.7 574.2L323.8 572.2Z" fill="#a7b7ba" stroke="none"/>
<path d="M326.2 574L337.5 575.1L331 570.2L319.7 569.1Z" fill="none"/>
<path d="M176 316.2L187.3 317.3L180.7 299.2L169.4 298.1Z" fill="#c4c4c4"/>
<path d="M361.9 583.6L373.2 583.5L366.7 579.8L355.3 579.8Z" fill="#98b8be"/>
<path d="M185.5 281L196.8 280.9L190.3 261.6L179 261.7Z" fill="#c9c9c9"/>
<path d="M489.8 571.3L501.1 566L494.6 564.6L483.3 569.8Z" fill="#a8ccd2" stroke="none"/>
<path d="M489.8 571.3L501.1 566L499.9 565.7L488.8 571Z" fill="#bdcfd3" stroke="none"/>
<path d="M489.8 571.3L501.1 566L494.6 564.6L483.3 569.8Z" fill="none"/>
<path d="M438 585.1L449.3 582.2L442.8 580.2L431.5 583.1Z" fill="#a1c3c9"/>
<path d="M546.4 539.2L557.7 531L551.1 529.6L539.8 537.8Z" fill="#c7dadd"/>
<path d="M601.2 478.3L612.5 466.7L606 464.1L594.6 475.7Z" fill="#d1e4e8"/>
<path d="M228.7 508.8L240 512.2L233.5 502.7L222.2 499.4Z" fill="#a2b1b4"/>
<path d="M183 430.4L194.3 433.7L187.7 420.2L176.4 416.9Z" fill="#a6b5b8"/>
<path d="M626.8 419L638.1 405.1L631.6 400.8L620.3 414.7Z" fill="#d6eaee"/>
<path d="M463.6 138.8L474.9 124.9L468.3 106.3L457 120.1Z" fill="#eed8d8"/>
<path d="M585.1 501.7L596.4 491.3L589.9 489.3L578.6 499.7Z" fill="#cde1e4"/>
<path d="M634.6 354.9L646 339.3L639.4 332.7L628.1 348.3Z" fill="#f3f3f3"/>
<path d="M523.6 164.4L534.9 148.8L528.4 132.4L517.1 148Z" fill="#f3f3f3" stroke="none"/>
<path d="M524.5 163.2L534.9 148.8L528.4 132.4L517.1 148L522.9 162.7Z" fill="#f3dbdb" stroke="none"/>
<path d="M523.6 164.4L534.9 148.8L528.4 132.4L517.1 148Z" fill="none"/>
<path d="M622.1 436.1L633.4 422.7L626.8 419L615.5 432.3Z" fill="#d5e9ed"/>
<path d="M445.7 133.4L457 120.1L450.5 100.9L439.2 114.2Z" fill="#edd6d6"/>
<path d="M308.3 567.5L319.7 569.1L313.1 563.7L301.8 562Z" fill="#92b2b7" stroke="none"/>
<path d="M308.3 567.5L315.6 568.5L303.6 562.3L301.8 562Z" fill="#a5b5b8" stroke="none"/>
<path d="M308.3 567.5L319.7 569.1L313.1 563.7L301.8 562Z" fill="none"/>
<path d="M171.2 332.1L182.5 333.8L176 316.2L164.7 314.6Z" fill="#c2c2c2"/>
<path d="M631.6 400.8L642.9 386.3L636.4 381.5L625.1 395.9Z" fill="#d7ecef" stroke="none"/>
<path d="M640.4 389.6L642.9 386.3L639.2 383.6Z" fill="#f0f0f0" stroke="none"/>
<path d="M631.6 400.8L642.9 386.3L636.4 381.5L625.1 395.9Z" fill="none"/>
<path d="M481.4 143L492.7 128.6L486.2 110.5L474.9 124.9Z" fill="#f0d9d9"/>
<path d="M478.5 575.9L489.8 571.3L483.3 569.8L472 574.5Z" fill="#a6c9d0" stroke="none"/>
<path d="M478.5 575.9L489.8 571.3L488.8 571L477.3 575.7Z" fill="#bbcdd0" stroke="none"/>
<path d="M478.5 575.9L489.8 571.3L483.3 569.8L472 574.5Z" fill="none"/>
<path d="M379.7 586.7L391 586L384.5 582.8L373.2 583.5Z" fill="#99b9c0"/>
<path d="M190.3 261.6L201.6 261L195.1 241.1L183.8 241.8Z" fill="#cbcbcb"/>
<path d="M632.9 325.5L644.2 309.3L637.7 301.6L626.4 317.8Z" fill="#f4f4f4"/>
<path d="M548 179.8L559.3 163.6L552.8 148.4L541.5 164.6Z" fill="#f4f4f4" stroke="none"/>
<path d="M552 174.1L559.3 163.6L552.8 148.4L541.5 164.6L544.1 170.6Z" fill="#f4dcdc" stroke="none"/>
<path d="M548 179.8L559.3 163.6L552.8 148.4L541.5 164.6Z" fill="none"/>
<path d="M557.7 531L569 522.3L562.5 520.9L551.1 529.6Z" fill="#c8dbdf"/>
<path d="M176.4 416.9L187.7 420.2L181.2 406.2L169.9 402.8Z" fill="#a6b6b9"/>
<path d="M235.2 517.8L246.5 521.1L240 512.2L228.7 508.8Z" fill="#a2b1b4"/>
<path d="M617.3 452L628.6 439.2L622.1 436.1L610.7 448.8Z" fill="#d3e7eb"/>
<path d="M427.9 126.9L439.2 114.2L432.6 94.4L421.3 107.1Z" fill="#ebd5d5"/>
<path d="M636.4 381.5L647.7 366.4L641.2 361L629.9 376Z" fill="#d8edf0" stroke="none"/>
<path d="M638.2 379.1L647.7 366.4L641.2 361L635.2 368.9Z" fill="#f1f1f1" stroke="none"/>
<path d="M636.4 381.5L647.7 366.4L641.2 361L629.9 376Z" fill="none"/>
<path d="M499.2 146.1L510.6 131.1L504 113.5L492.7 128.6Z" fill="#f1dada"/>
<path d="M266.1 544.4L277.4 547.2L270.9 540L259.6 537.2Z" fill="#a2b1b4"/>
<path d="M168.2 376.3L179.5 379.1L172.9 363.2L161.6 360.5Z" fill="#a9b9bc" stroke="none"/>
<path d="M168.2 376.3L172.1 377.2L174.9 367.9L172.9 363.2L161.6 360.5Z" fill="#bcbcbc" stroke="none"/>
<path d="M168.2 376.3L179.5 379.1L172.9 363.2L161.6 360.5Z" fill="none"/>
<path d="M467.2 580.1L478.5 575.9L472 574.5L460.7 578.6Z" fill="#a4c6cd" stroke="none"/>
<path d="M467.2 580.1L478.5 575.9L477.3 575.7L465.2 579.6Z" fill="#b9cacd" stroke="none"/>
<path d="M467.2 580.1L478.5 575.9L472 574.5L460.7 578.6Z" fill="none"/>
<path d="M426.7 587.5L438 585.1L431.5 583.1L420.2 585.5Z" fill="#9ec0c6" stroke="none"/>
<path d="M426.7 587.5L431.4 586.5L425.7 587.2Z" fill="#b2c3c6" stroke="none"/>
<path d="M426.7 587.5L438 585.1L431.5 583.1L420.2 585.5Z" fill="none"/>
<path d="M290.5 559.8L301.8 562L295.3 556L284 553.8Z" fill="#91afb5" stroke="none"/>
<path d="M290.5 559.8L301.8 562L299.1 559.5L292.9 555.5L284 553.8Z" fill="#a3b3b6" stroke="none"/>
<path d="M290.5 559.8L301.8 562L295.3 556L284 553.8Z" fill="none"/>
<path d="M166.4 346.9L177.7 349.1L171.2 332.1L159.9 329.9Z" fill="#bfbfbf"/>
<path d="M569 522.3L580.3 513L573.8 511.6L562.5 520.9Z" fill="#c9dce0"/>
<path d="M397.6 588.6L408.9 587.3L402.3 584.7L391 586Z" fill="#9abbc1" stroke="none"/>
<path d="M397.6 588.6L401.7 588.1L396.1 588Z" fill="#aebfc2" stroke="none"/>
<path d="M397.6 588.6L408.9 587.3L402.3 584.7L391 586Z" fill="none"/>
<path d="M596.4 491.3L607.7 480.3L601.2 478.3L589.9 489.3Z" fill="#cee2e5"/>
<path d="M639.4 332.7L650.7 316.5L644.2 309.3L632.9 325.5Z" fill="#f3f3f3"/>
<path d="M541.5 164.6L552.8 148.4L546.2 132.6L534.9 148.8Z" fill="#f3dcdc"/>
<path d="M241.7 526.1L253.1 529.4L246.5 521.1L235.2 517.8Z" fill="#a1b0b3"/>
<path d="M169.9 402.8L181.2 406.2L174.7 391.5L163.4 388.1Z" fill="#a6b6b9" stroke="none"/>
<path d="M169.4 389.9L163.4 388.1L168.2 398.9Z" fill="#b9b9b9" stroke="none"/>
<path d="M169.9 402.8L181.2 406.2L174.7 391.5L163.4 388.1Z" fill="none"/>
<path d="M612.5 466.7L623.8 454.5L617.3 452L606 464.1Z" fill="#d1e5e8"/>
<path d="M641.2 361L652.5 345.4L646 339.3L634.6 354.9Z" fill="#f2f2f2"/>
<path d="M517.1 148L528.4 132.4L521.9 115.5L510.6 131.1Z" fill="#f2dbdb"/>
<path d="M455.9 583.6L467.2 580.1L460.7 578.6L449.3 582.2Z" fill="#a1c4ca" stroke="none"/>
<path d="M455.9 583.6L467.2 580.1L465.2 579.6L452.5 582.9Z" fill="#b6c7ca" stroke="none"/>
<path d="M455.9 583.6L467.2 580.1L460.7 578.6L449.3 582.2Z" fill="none"/>
<path d="M332.7 578.3L344 579.4L337.5 575.1L326.2 574Z" fill="#93b3b8" stroke="none"/>
<path d="M332.7 578.3L343.3 579.3L328.7 574.2L326.2 574Z" fill="#a6b6b9" stroke="none"/>
<path d="M332.7 578.3L344 579.4L337.5 575.1L326.2 574Z" fill="none"/>
<path d="M169.4 298.1L180.7 299.2L174.2 280.5L162.9 279.4Z" fill="#c4c4c4"/>
<path d="M350.6 583.1L361.9 583.6L355.3 579.8L344 579.4Z" fill="#95b5ba" stroke="none"/>
<path d="M350.6 583.1L359.9 583.5L344.5 579.6Z" fill="#a8b8bb" stroke="none"/>
<path d="M350.6 583.1L361.9 583.6L355.3 579.8L344 579.4Z" fill="none"/>
<path d="M174.2 280.5L185.5 281L179 261.7L167.7 261.2Z" fill="#c6c6c6"/>
<path d="M580.3 513L591.6 503.2L585.1 501.7L573.8 511.6Z" fill="#cbdee1"/>
<path d="M197.8 474.7L209.1 478.7L202.6 467.5L191.2 463.5Z" fill="#a2b1b4"/>
<path d="M191.2 463.5L202.6 467.5L196 455.7L184.7 451.7Z" fill="#a2b1b4"/>
<path d="M314.9 572.4L326.2 574L319.7 569.1L308.3 567.5Z" fill="#92b1b6" stroke="none"/>
<path d="M314.9 572.4L326.2 574L323.8 572.2L315.6 568.5L308.3 567.5Z" fill="#a4b4b7" stroke="none"/>
<path d="M314.9 572.4L326.2 574L319.7 569.1L308.3 567.5Z" fill="none"/>
<path d="M164.7 314.6L176 316.2L169.4 298.1L158.1 296.5Z" fill="#c2c2c2"/>
<path d="M368.4 586.7L379.7 586.7L373.2 583.5L361.9 583.6Z" fill="#97b6bc" stroke="none"/>
<path d="M368.4 586.7L378.9 586.7L363 584.1Z" fill="#aababd" stroke="none"/>
<path d="M368.4 586.7L379.7 586.7L373.2 583.5L361.9 583.6Z" fill="none"/>
<path d="M179 261.7L190.3 261.6L183.8 241.8L172.5 241.9Z" fill="#c8c8c8"/>
<path d="M184.7 451.7L196 455.7L189.5 443.3L178.2 439.4Z" fill="#a3b2b5"/>
<path d="M204.3 485.4L215.6 489.3L209.1 478.7L197.8 474.7Z" fill="#a1b0b3"/>
<path d="M272.7 551L284 553.8L277.4 547.2L266.1 544.4Z" fill="#a2b1b4"/>
<path d="M161.6 360.5L172.9 363.2L166.4 346.9L155.1 344.1Z" fill="#bdbdbd"/>
<path d="M633.4 422.7L644.7 408.9L638.1 405.1L626.8 419Z" fill="#d5e9ed" stroke="none"/>
<path d="M642.3 411.7L644.7 408.9L642.2 407.4Z" fill="#ededed" stroke="none"/>
<path d="M633.4 422.7L644.7 408.9L638.1 405.1L626.8 419Z" fill="none"/>
<path d="M457 120.1L468.3 106.3L461.8 87L450.5 100.9Z" fill="#eed7d7"/>
<path d="M638.1 405.1L649.5 390.7L642.9 386.3L631.6 400.8Z" fill="#d6eaee" stroke="none"/>
<path d="M641.8 400.5L649.5 390.7L642.9 386.3L640.4 389.6Z" fill="#eeeeee" stroke="none"/>
<path d="M638.1 405.1L649.5 390.7L642.9 386.3L631.6 400.8Z" fill="none"/>
<path d="M474.9 124.9L486.2 110.5L479.6 91.8L468.3 106.3Z" fill="#efd8d8"/>
<path d="M519 561L530.3 554.6L523.7 553.7L512.4 560.2Z" fill="#c0d2d5"/>
<path d="M415.4 589.3L426.7 587.5L420.2 585.5L408.9 587.3Z" fill="#9cbdc3" stroke="none"/>
<path d="M415.4 589.3L426.7 587.5L425.7 587.2L411.2 588.1Z" fill="#b0c0c3" stroke="none"/>
<path d="M415.4 589.3L426.7 587.5L420.2 585.5L408.9 587.3Z" fill="none"/>
<path d="M530.3 554.6L541.6 547.6L535.1 546.8L523.7 553.7Z" fill="#c1d4d7"/>
<path d="M507.6 566.9L519 561L512.4 560.2L501.1 566Z" fill="#becfd3"/>
<path d="M210.8 495.4L222.2 499.4L215.6 489.3L204.3 485.4Z" fill="#a0b0b2"/>
<path d="M178.2 439.4L189.5 443.3L183 430.4L171.7 426.5Z" fill="#a3b2b5"/>
<path d="M248.3 533.8L259.6 537.2L253.1 529.4L241.7 526.1Z" fill="#a0afb2"/>
<path d="M163.4 388.1L174.7 391.5L168.2 376.3L156.8 372.9Z" fill="#a7b7b9" stroke="none"/>
<path d="M163.4 388.1L169.4 389.9L170.8 382.5L168.2 376.3L156.8 372.9Z" fill="#bababa" stroke="none"/>
<path d="M163.4 388.1L174.7 391.5L168.2 376.3L156.8 372.9Z" fill="none"/>
<path d="M541.6 547.6L552.9 540.1L546.4 539.2L535.1 546.8Z" fill="#c3d5d9"/>
<path d="M628.6 439.2L639.9 425.9L633.4 422.7L622.1 436.1Z" fill="#d3e7eb"/>
<path d="M439.2 114.2L450.5 100.9L444 81.1L432.6 94.4Z" fill="#ecd5d5"/>
<path d="M642.9 386.3L654.2 371.3L647.7 366.4L636.4 381.5Z" fill="#d7ebef" stroke="none"/>
<path d="M642.9 386.3L654.2 371.3L647.7 366.4L638.2 379.1L639.2 383.6Z" fill="#f0f0f0" stroke="none"/>
<path d="M642.9 386.3L654.2 371.3L647.7 366.4L636.4 381.5Z" fill="none"/>
<path d="M492.7 128.6L504 113.5L497.5 95.4L486.2 110.5Z" fill="#f0d9d9"/>
<path d="M607.7 480.3L619 468.7L612.5 466.7L601.2 478.3Z" fill="#cfe2e6"/>
<path d="M297 565.3L308.3 567.5L301.8 562L290.5 559.8Z" fill="#a3b2b5"/>
<path d="M159.9 329.9L171.2 332.1L164.7 314.6L153.3 312.4Z" fill="#c0c0c0"/>
<path d="M444.6 586.6L455.9 583.6L449.3 582.2L438 585.1Z" fill="#9fc1c7" stroke="none"/>
<path d="M444.6 586.6L455.9 583.6L452.5 582.9L439.4 585.4Z" fill="#b4c4c8" stroke="none"/>
<path d="M444.6 586.6L455.9 583.6L449.3 582.2L438 585.1Z" fill="none"/>
<path d="M496.3 572.1L507.6 566.9L501.1 566L489.8 571.3Z" fill="#bbcdd0"/>
<path d="M386.2 589.2L397.6 588.6L391 586L379.7 586.7Z" fill="#98b8be" stroke="none"/>
<path d="M386.2 589.2L397.6 588.6L396.1 588L380.1 586.8Z" fill="#acbcbf" stroke="none"/>
<path d="M386.2 589.2L397.6 588.6L391 586L379.7 586.7Z" fill="none"/>
<path d="M646 339.3L657.3 323.1L650.7 316.5L639.4 332.7Z" fill="#f2f2f2"/>
<path d="M534.9 148.8L546.2 132.6L539.7 116.2L528.4 132.4Z" fill="#f3dbdb"/>
<path d="M552.9 540.1L564.2 531.9L557.7 531L546.4 539.2Z" fill="#c5d7db"/>
<path d="M591.6 503.2L602.9 492.7L596.4 491.3L585.1 501.7Z" fill="#cbdfe2"/>
<path d="M217.4 504.9L228.7 508.8L222.2 499.4L210.8 495.4Z" fill="#a0afb2"/>
<path d="M171.7 426.5L183 430.4L176.4 416.9L165.1 413Z" fill="#a4b3b6" stroke="none"/>
<path d="M167.5 413.8L165.1 413L167.6 418.1Z" fill="#b6b6b6" stroke="none"/>
<path d="M171.7 426.5L183 430.4L176.4 416.9L165.1 413Z" fill="none"/>
<path d="M623.8 454.5L635.1 441.8L628.6 439.2L617.3 452Z" fill="#d1e5e9"/>
<path d="M485 576.8L496.3 572.1L489.8 571.3L478.5 575.9Z" fill="#b9cbce"/>
<path d="M510.6 131.1L521.9 115.5L515.3 97.9L504 113.5Z" fill="#f1dada"/>
<path d="M647.7 366.4L659 350.8L652.5 345.4L641.2 361Z" fill="#f1f1f1"/>
<path d="M564.2 531.9L575.5 523.2L569 522.3L557.7 531Z" fill="#c6d9dc"/>
<path d="M223.9 513.8L235.2 517.8L228.7 508.8L217.4 504.9Z" fill="#9faeb1"/>
<path d="M165.1 413L176.4 416.9L169.9 402.8L158.6 398.9Z" fill="#a4b3b6" stroke="none"/>
<path d="M165.1 413L167.5 413.8L167.9 402.1L158.6 398.9Z" fill="#b7b7b7" stroke="none"/>
<path d="M165.1 413L176.4 416.9L169.9 402.8L158.6 398.9Z" fill="none"/>
<path d="M254.8 541L266.1 544.4L259.6 537.2L248.3 533.8Z" fill="#a0afb2"/>
<path d="M156.8 372.9L168.2 376.3L161.6 360.5L150.3 357.1Z" fill="#bababa"/>
<path d="M279.2 557L290.5 559.8L284 553.8L272.7 551Z" fill="#a1b0b3"/>
<path d="M155.1 344.1L166.4 346.9L159.9 329.9L148.6 327.1Z" fill="#bdbdbd"/>
<path d="M404.1 590.6L415.4 589.3L408.9 587.3L397.6 588.6Z" fill="#99bac0" stroke="none"/>
<path d="M404.1 590.6L415.4 589.3L411.2 588.1L401.7 588.1L397.6 588.6Z" fill="#adbdc0" stroke="none"/>
<path d="M404.1 590.6L415.4 589.3L408.9 587.3L397.6 588.6Z" fill="none"/>
<path d="M433.2 589L444.6 586.6L438 585.1L426.7 587.5Z" fill="#9dbec4" stroke="none"/>
<path d="M433.2 589L444.6 586.6L439.4 585.4L431.4 586.5L426.7 587.5Z" fill="#b1c2c5" stroke="none"/>
<path d="M433.2 589L444.6 586.6L438 585.1L426.7 587.5Z" fill="none"/>
<path d="M339.2 582L350.6 583.1L344 579.4L332.7 578.3Z" fill="#93b2b8" stroke="none"/>
<path d="M339.2 582L350.6 583.1L344.5 579.6L343.3 579.3L332.7 578.3Z" fill="#a5b5b8" stroke="none"/>
<path d="M339.2 582L350.6 583.1L344 579.4L332.7 578.3Z" fill="none"/>
<path d="M162.9 279.4L174.2 280.5L167.7 261.2L156.4 260.2Z" fill="#c4c4c4"/>
<path d="M473.7 580.9L485 576.8L478.5 575.9L467.2 580.1Z" fill="#b7c8cb"/>
<path d="M321.4 576.7L332.7 578.3L326.2 574L314.9 572.4Z" fill="#a4b3b6"/>
<path d="M158.1 296.5L169.4 298.1L162.9 279.4L151.6 277.8Z" fill="#c2c2c2"/>
<path d="M575.5 523.2L586.8 513.9L580.3 513L569 522.3Z" fill="#c7dade"/>
<path d="M357.1 586.3L368.4 586.7L361.9 583.6L350.6 583.1Z" fill="#94b4b9" stroke="none"/>
<path d="M357.1 586.3L368.4 586.7L363 584.1L359.9 583.5L350.6 583.1Z" fill="#a7b7ba" stroke="none"/>
<path d="M357.1 586.3L368.4 586.7L361.9 583.6L350.6 583.1Z" fill="none"/>
<path d="M167.7 261.2L179 261.7L172.5 241.9L161.2 241.4Z" fill="#c6c6c6" stroke="none"/>
<path d="M163.6 241.5L161.2 241.4L161.8 243.5Z" fill="#c6b3b3" stroke="none"/>
<path d="M167.7 261.2L179 261.7L172.5 241.9L161.2 241.4Z" fill="none"/>
<path d="M602.9 492.7L614.2 481.7L607.7 480.3L596.4 491.3Z" fill="#ccdfe3"/>
<path d="M619 468.7L630.3 456.5L623.8 454.5L612.5 466.7Z" fill="#cfe3e6"/>
<path d="M652.5 345.4L663.8 329.2L657.3 323.1L646 339.3Z" fill="#f1f1f1"/>
<path d="M528.4 132.4L539.7 116.2L533.2 99.3L521.9 115.5Z" fill="#f2dbdb"/>
<path d="M644.7 408.9L656 394.4L649.5 390.7L638.1 405.1Z" fill="#d5e9ed" stroke="none"/>
<path d="M644.7 408.9L656 394.4L649.5 390.7L641.8 400.5L642.2 407.4Z" fill="#ededed" stroke="none"/>
<path d="M644.7 408.9L656 394.4L649.5 390.7L638.1 405.1Z" fill="none"/>
<path d="M468.3 106.3L479.6 91.8L473.1 72.5L461.8 87Z" fill="#eed7d7"/>
<path d="M230.4 522.2L241.7 526.1L235.2 517.8L223.9 513.8Z" fill="#9faeb0"/>
<path d="M158.6 398.9L169.9 402.8L163.4 388.1L152.1 384.2Z" fill="#a4b4b7" stroke="none"/>
<path d="M158.6 398.9L167.9 402.1L168.2 398.9L163.4 388.1L152.1 384.2Z" fill="#b7b7b7" stroke="none"/>
<path d="M158.6 398.9L169.9 402.8L163.4 388.1L152.1 384.2Z" fill="none"/>
<path d="M303.6 570.2L314.9 572.4L308.3 567.5L297 565.3Z" fill="#a2b1b4"/>
<path d="M153.3 312.4L164.7 314.6L158.1 296.5L146.8 294.3Z" fill="#c0c0c0"/>
<path d="M639.9 425.9L651.2 412L644.7 408.9L633.4 422.7Z" fill="#d3e7eb" stroke="none"/>
<path d="M641.9 423.4L651.2 412L644.7 408.9L642.3 411.7Z" fill="#ebebeb" stroke="none"/>
<path d="M639.9 425.9L651.2 412L644.7 408.9L633.4 422.7Z" fill="none"/>
<path d="M450.5 100.9L461.8 87L455.3 67.2L444 81.1Z" fill="#edd6d6"/>
<path d="M649.5 390.7L660.8 375.6L654.2 371.3L642.9 386.3Z" fill="#eeeeee"/>
<path d="M486.2 110.5L497.5 95.4L491 76.8L479.6 91.8Z" fill="#efd8d8"/>
<path d="M374.9 589.3L386.2 589.2L379.7 586.7L368.4 586.7Z" fill="#96b5bb" stroke="none"/>
<path d="M374.9 589.3L386.2 589.2L380.1 586.8L378.9 586.7L368.4 586.7Z" fill="#a9b9bc" stroke="none"/>
<path d="M374.9 589.3L386.2 589.2L379.7 586.7L368.4 586.7Z" fill="none"/>
<path d="M462.4 584.5L473.7 580.9L467.2 580.1L455.9 583.6Z" fill="#b5c5c9"/>
<path d="M586.8 513.9L598.1 504L591.6 503.2L580.3 513Z" fill="#c9dbdf"/>
<path d="M261.3 547.6L272.7 551L266.1 544.4L254.8 541Z" fill="#9faeb1"/>
<path d="M150.3 357.1L161.6 360.5L155.1 344.1L143.8 340.7Z" fill="#bbbbbb"/>
<path d="M635.1 441.8L646.4 428.5L639.9 425.9L628.6 439.2Z" fill="#d2e5e9" stroke="none"/>
<path d="M640.4 435.6L646.4 428.5L641.6 426.6Z" fill="#e9e9e9" stroke="none"/>
<path d="M635.1 441.8L646.4 428.5L639.9 425.9L628.6 439.2Z" fill="none"/>
<path d="M654.2 371.3L665.6 355.7L659 350.8L647.7 366.4Z" fill="#efefef"/>
<path d="M504 113.5L515.3 97.9L508.8 79.8L497.5 95.4Z" fill="#f0d9d9"/>
<path d="M186.5 470.2L197.8 474.7L191.2 463.5L179.9 459Z" fill="#9faeb1"/>
<path d="M179.9 459L191.2 463.5L184.7 451.7L173.4 447.2Z" fill="#a0afb2"/>
<path d="M421.9 590.8L433.2 589L426.7 587.5L415.4 589.3Z" fill="#aebfc2"/>
<path d="M173.4 447.2L184.7 451.7L178.2 439.4L166.9 434.9Z" fill="#a1b0b2" stroke="none"/>
<path d="M169.4 435.9L166.9 434.9L170.6 441.9Z" fill="#b3b3b3" stroke="none"/>
<path d="M173.4 447.2L184.7 451.7L178.2 439.4L166.9 434.9Z" fill="none"/>
<path d="M193 480.9L204.3 485.4L197.8 474.7L186.5 470.2Z" fill="#9faeb1"/>
<path d="M285.7 562.5L297 565.3L290.5 559.8L279.2 557Z" fill="#a0afb2"/>
<path d="M148.6 327.1L159.9 329.9L153.3 312.4L142 309.6Z" fill="#bdbdbd"/>
<path d="M392.8 591.3L404.1 590.6L397.6 588.6L386.2 589.2Z" fill="#aababd"/>
<path d="M237 529.9L248.3 533.8L241.7 526.1L230.4 522.2Z" fill="#9eadb0"/>
<path d="M152.1 384.2L163.4 388.1L156.8 372.9L145.5 369Z" fill="#b8b8b8"/>
<path d="M525.5 561.3L536.8 554.9L530.3 554.6L519 561Z" fill="#becfd3"/>
<path d="M614.2 481.7L625.6 470.1L619 468.7L607.7 480.3Z" fill="#cde0e4"/>
<path d="M536.8 554.9L548.1 547.9L541.6 547.6L530.3 554.6Z" fill="#bfd1d5"/>
<path d="M199.5 490.9L210.8 495.4L204.3 485.4L193 480.9Z" fill="#9eadb0"/>
<path d="M166.9 434.9L178.2 439.4L171.7 426.5L160.3 422Z" fill="#a1b0b3" stroke="none"/>
<path d="M166.9 434.9L169.4 435.9L168 425L160.3 422Z" fill="#b3b3b3" stroke="none"/>
<path d="M166.9 434.9L178.2 439.4L171.7 426.5L160.3 422Z" fill="none"/>
<path d="M514.2 567.1L525.5 561.3L519 561L507.6 566.9Z" fill="#bccdd1"/>
<path d="M548.1 547.9L559.4 540.3L552.9 540.1L541.6 547.6Z" fill="#c1d3d7"/>
<path d="M451.1 587.4L462.4 584.5L455.9 583.6L444.6 586.6Z" fill="#b2c3c6"/>
<path d="M630.3 456.5L641.6 443.8L635.1 441.8L623.8 454.5Z" fill="#d0e3e7" stroke="none"/>
<path d="M637.7 448.3L641.6 443.8L639 443Z" fill="#e7e7e7" stroke="none"/>
<path d="M630.3 456.5L641.6 443.8L635.1 441.8L623.8 454.5Z" fill="none"/>
<path d="M502.9 572.4L514.2 567.1L507.6 566.9L496.3 572.1Z" fill="#bacbce"/>
<path d="M598.1 504L609.5 493.6L602.9 492.7L591.6 503.2Z" fill="#cadce0"/>
<path d="M659 350.8L670.3 334.6L663.8 329.2L652.5 345.4Z" fill="#f0f0f0"/>
<path d="M521.9 115.5L533.2 99.3L526.6 81.7L515.3 97.9Z" fill="#f1dada"/>
<path d="M559.4 540.3L570.7 532.2L564.2 531.9L552.9 540.1Z" fill="#c3d5d8"/>
<path d="M206.1 500.4L217.4 504.9L210.8 495.4L199.5 490.9Z" fill="#9eadaf"/>
<path d="M160.3 422L171.7 426.5L165.1 413L153.8 408.4Z" fill="#a2b1b4" stroke="none"/>
<path d="M160.3 422L168 425L167.6 418.1L165.1 413L153.8 408.4Z" fill="#b4b4b4" stroke="none"/>
<path d="M160.3 422L171.7 426.5L165.1 413L153.8 408.4Z" fill="none"/>
<path d="M327.9 580.4L339.2 582L332.7 578.3L321.4 576.7Z" fill="#a3b2b5"/>
<path d="M151.6 277.8L162.9 279.4L156.4 260.2L145.1 258.6Z" fill="#c2c2c2" stroke="none"/>
<path d="M149.5 259.2L145.1 258.6L146.7 263.3Z" fill="#c2b0b0" stroke="none"/>
<path d="M151.6 277.8L162.9 279.4L156.4 260.2L145.1 258.6Z" fill="none"/>
<path d="M345.8 585.2L357.1 586.3L350.6 583.1L339.2 582Z" fill="#a5b4b7"/>
<path d="M156.4 260.2L167.7 261.2L161.2 241.4L149.8 240.4Z" fill="#c4c4c4" stroke="none"/>
<path d="M161.8 243.5L161.2 241.4L149.8 240.4L154 253.1Z" fill="#c4b1b1" stroke="none"/>
<path d="M156.4 260.2L167.7 261.2L161.2 241.4L149.8 240.4Z" fill="none"/>
<path d="M491.6 577.1L502.9 572.4L496.3 572.1L485 576.8Z" fill="#b8c9cc"/>
<path d="M267.9 553.7L279.2 557L272.7 551L261.3 547.6Z" fill="#9faeb0"/>
<path d="M143.8 340.7L155.1 344.1L148.6 327.1L137.2 323.8Z" fill="#bbbbbb"/>
<path d="M310.1 574.5L321.4 576.7L314.9 572.4L303.6 570.2Z" fill="#a1b0b3"/>
<path d="M146.8 294.3L158.1 296.5L151.6 277.8L140.3 275.6Z" fill="#c0c0c0"/>
<path d="M570.7 532.2L582.1 523.5L575.5 523.2L564.2 531.9Z" fill="#c4d7da"/>
<path d="M363.6 588.8L374.9 589.3L368.4 586.7L357.1 586.3Z" fill="#a6b6b9"/>
<path d="M243.5 537.1L254.8 541L248.3 533.8L237 529.9Z" fill="#9eacaf"/>
<path d="M145.5 369L156.8 372.9L150.3 357.1L139 353.2Z" fill="#b8b8b8"/>
<path d="M410.6 592L421.9 590.8L415.4 589.3L404.1 590.6Z" fill="#acbcbf"/>
<path d="M651.2 412L662.5 397.6L656 394.4L644.7 408.9Z" fill="#ebebeb"/>
<path d="M461.8 87L473.1 72.5L466.6 52.7L455.3 67.2Z" fill="#edd6d6" stroke="none"/>
<path d="M471.2 66.9L466.6 52.7L457 64.9Z" fill="#edc0c0" stroke="none"/>
<path d="M461.8 87L473.1 72.5L466.6 52.7L455.3 67.2Z" fill="none"/>
<path d="M656 394.4L667.3 379.4L660.8 375.6L649.5 390.7Z" fill="#ededed"/>
<path d="M479.6 91.8L491 76.8L484.4 57.5L473.1 72.5Z" fill="#eed8d8" stroke="none"/>
<path d="M488.6 69.9L484.4 57.5L476.7 67.7Z" fill="#eec1c1" stroke="none"/>
<path d="M479.6 91.8L491 76.8L484.4 57.5L473.1 72.5Z" fill="none"/>
<path d="M153.8 408.4L165.1 413L158.6 398.9L147.3 394.4Z" fill="#b4b4b4"/>
<path d="M212.6 509.3L223.9 513.8L217.4 504.9L206.1 500.4Z" fill="#9dacaf"/>
<path d="M439.8 589.8L451.1 587.4L444.6 586.6L433.2 589Z" fill="#b0c0c3"/>
<path d="M625.6 470.1L636.9 458L630.3 456.5L619 468.7Z" fill="#cee1e4" stroke="none"/>
<path d="M633.5 461.6L636.9 458L634.9 457.6Z" fill="#e5e5e5" stroke="none"/>
<path d="M625.6 470.1L636.9 458L630.3 456.5L619 468.7Z" fill="none"/>
<path d="M646.4 428.5L657.7 414.6L651.2 412L639.9 425.9Z" fill="#d2e6e9" stroke="none"/>
<path d="M646.4 428.5L657.7 414.6L651.2 412L641.9 423.4L641.6 426.6Z" fill="#eaeaea" stroke="none"/>
<path d="M646.4 428.5L657.7 414.6L651.2 412L639.9 425.9Z" fill="none"/>
<path d="M480.2 581.2L491.6 577.1L485 576.8L473.7 580.9Z" fill="#b5c6c9"/>
<path d="M660.8 375.6L672.1 360L665.6 355.7L654.2 371.3Z" fill="#eeeeee"/>
<path d="M497.5 95.4L508.8 79.8L502.3 61.1L491 76.8Z" fill="#f0d9d9" stroke="none"/>
<path d="M506.7 73.9L502.3 61.1L495 71.2Z" fill="#f0c2c2" stroke="none"/>
<path d="M497.5 95.4L508.8 79.8L502.3 61.1L491 76.8Z" fill="none"/>
<path d="M609.5 493.6L620.8 482.6L614.2 481.7L602.9 492.7Z" fill="#cadde1"/>
<path d="M292.2 567.4L303.6 570.2L297 565.3L285.7 562.5Z" fill="#a0afb1"/>
<path d="M142 309.6L153.3 312.4L146.8 294.3L135.5 291.5Z" fill="#bebebe"/>
<path d="M582.1 523.5L593.4 514.2L586.8 513.9L575.5 523.2Z" fill="#c5d8db"/>
<path d="M381.5 591.3L392.8 591.3L386.2 589.2L374.9 589.3Z" fill="#a8b8bb"/>
<path d="M219.1 517.6L230.4 522.2L223.9 513.8L212.6 509.3Z" fill="#9dabae"/>
<path d="M147.3 394.4L158.6 398.9L152.1 384.2L140.7 379.7Z" fill="#b5b5b5"/>
<path d="M641.6 443.8L653 430.5L646.4 428.5L635.1 441.8Z" fill="#d0e4e7" stroke="none"/>
<path d="M641.6 443.8L653 430.5L646.4 428.5L640.4 435.6L639 443Z" fill="#e8e8e8" stroke="none"/>
<path d="M641.6 443.8L653 430.5L646.4 428.5L635.1 441.8Z" fill="none"/>
<path d="M665.6 355.7L676.9 339.5L670.3 334.6L659 350.8Z" fill="#efefef"/>
<path d="M515.3 97.9L526.6 81.7L520.1 63.6L508.8 79.8Z" fill="#f1d9d9" stroke="none"/>
<path d="M525.6 78.9L520.1 63.6L512 75.2Z" fill="#f1c2c2" stroke="none"/>
<path d="M515.3 97.9L526.6 81.7L520.1 63.6L508.8 79.8Z" fill="none"/>
<path d="M468.9 584.8L480.2 581.2L473.7 580.9L462.4 584.5Z" fill="#b3c4c7"/>
<path d="M250 543.7L261.3 547.6L254.8 541L243.5 537.1Z" fill="#9dacaf"/>
<path d="M139 353.2L150.3 357.1L143.8 340.7L132.5 336.8Z" fill="#b8b8b8"/>
<path d="M593.4 514.2L604.7 504.3L598.1 504L586.8 513.9Z" fill="#c7d9dd"/>
<path d="M274.4 559.1L285.7 562.5L279.2 557L267.9 553.7Z" fill="#9eadb0"/>
<path d="M137.2 323.8L148.6 327.1L142 309.6L130.7 306.2Z" fill="#bbbbbb"/>
<path d="M428.5 591.6L439.8 589.8L433.2 589L421.9 590.8Z" fill="#adbdc0"/>
<path d="M399.3 592.7L410.6 592L404.1 590.6L392.8 591.3Z" fill="#a9b9bc"/>
<path d="M175.2 465.2L186.5 470.2L179.9 459L168.6 453.9Z" fill="#9eacaf" stroke="none"/>
<path d="M175.2 465.2L178.2 466.5L174.6 456.6L168.6 453.9Z" fill="#afafaf" stroke="none"/>
<path d="M175.2 465.2L186.5 470.2L179.9 459L168.6 453.9Z" fill="none"/>
<path d="M168.6 453.9L179.9 459L173.4 447.2L162.1 442.2Z" fill="#9eadb0" stroke="none"/>
<path d="M168.6 453.9L174.6 456.6L171.6 446.4L162.1 442.2Z" fill="#b0b0b0" stroke="none"/>
<path d="M168.6 453.9L179.9 459L173.4 447.2L162.1 442.2Z" fill="none"/>
<path d="M620.8 482.6L632.1 471L625.6 470.1L614.2 481.7Z" fill="#cbdee2" stroke="none"/>
<path d="M627.5 475.8L632.1 471L629.8 470.7Z" fill="#e2e2e2" stroke="none"/>
<path d="M620.8 482.6L632.1 471L625.6 470.1L614.2 481.7Z" fill="none"/>
<path d="M334.5 583.6L345.8 585.2L339.2 582L327.9 580.4Z" fill="#a2b2b4"/>
<path d="M145.1 258.6L156.4 260.2L149.8 240.4L138.5 238.7Z" fill="#c2c2c2" stroke="none"/>
<path d="M145.1 258.6L149.5 259.2L154 253.1L149.8 240.4L138.5 238.7Z" fill="#c2b0b0" stroke="none"/>
<path d="M145.1 258.6L156.4 260.2L149.8 240.4L138.5 238.7Z" fill="none"/>
<path d="M162.1 442.2L173.4 447.2L166.9 434.9L155.6 429.8Z" fill="#9fadb0" stroke="none"/>
<path d="M162.1 442.2L171.6 446.4L170.6 441.9L166.9 434.9L155.6 429.8Z" fill="#b1b1b1" stroke="none"/>
<path d="M162.1 442.2L173.4 447.2L166.9 434.9L155.6 429.8Z" fill="none"/>
<path d="M181.7 475.8L193 480.9L186.5 470.2L175.2 465.2Z" fill="#9dacae" stroke="none"/>
<path d="M181.7 475.8L182.5 476.1L178.2 466.5L175.2 465.2Z" fill="#afafaf" stroke="none"/>
<path d="M181.7 475.8L193 480.9L186.5 470.2L175.2 465.2Z" fill="none"/>
<path d="M225.7 525.4L237 529.9L230.4 522.2L219.1 517.6Z" fill="#9cabae"/>
<path d="M140.7 379.7L152.1 384.2L145.5 369L134.2 364.5Z" fill="#b5b5b5"/>
<path d="M636.9 458L648.2 445.2L641.6 443.8L630.3 456.5Z" fill="#cee1e5" stroke="none"/>
<path d="M636.9 458L648.2 445.2L641.6 443.8L637.7 448.3L634.9 457.6Z" fill="#e5e5e5" stroke="none"/>
<path d="M636.9 458L648.2 445.2L641.6 443.8L630.3 456.5Z" fill="none"/>
<path d="M316.6 578.2L327.9 580.4L321.4 576.7L310.1 574.5Z" fill="#a1b0b3"/>
<path d="M140.3 275.6L151.6 277.8L145.1 258.6L133.7 256.3Z" fill="#c0c0c0" stroke="none"/>
<path d="M146.7 263.3L145.1 258.6L133.7 256.3L139.8 274.1Z" fill="#c0aeae" stroke="none"/>
<path d="M140.3 275.6L151.6 277.8L145.1 258.6L133.7 256.3Z" fill="none"/>
<path d="M352.3 587.8L363.6 588.8L357.1 586.3L345.8 585.2Z" fill="#a4b3b6"/>
<path d="M532 561L543.3 554.6L536.8 554.9L525.5 561.3Z" fill="#bcced1"/>
<path d="M543.3 554.6L554.6 547.6L548.1 547.9L536.8 554.9Z" fill="#becfd3"/>
<path d="M457.6 587.7L468.9 584.8L462.4 584.5L451.1 587.4Z" fill="#b1c1c4"/>
<path d="M188.2 485.8L199.5 490.9L193 480.9L181.7 475.8Z" fill="#9cabae" stroke="none"/>
<path d="M182.5 476.1L181.7 475.8L184.8 480.7Z" fill="#aeaeae" stroke="none"/>
<path d="M188.2 485.8L199.5 490.9L193 480.9L181.7 475.8Z" fill="none"/>
<path d="M155.6 429.8L166.9 434.9L160.3 422L149 416.9Z" fill="#b1b1b1"/>
<path d="M520.7 566.9L532 561L525.5 561.3L514.2 567.1Z" fill="#bacbcf"/>
<path d="M554.6 547.6L566 540.1L559.4 540.3L548.1 547.9Z" fill="#bfd1d5"/>
<path d="M662.5 397.6L673.8 382.5L667.3 379.4L656 394.4Z" fill="#ececec"/>
<path d="M473.1 72.5L484.4 57.5L477.9 37.7L466.6 52.7Z" fill="#eed7d7" stroke="none"/>
<path d="M476.7 67.7L484.4 57.5L477.9 37.7L466.6 52.7L471.2 66.9Z" fill="#eec0c0" stroke="none"/>
<path d="M473.1 72.5L484.4 57.5L477.9 37.7L466.6 52.7Z" fill="none"/>
<path d="M604.7 504.3L616 493.9L609.5 493.6L598.1 504Z" fill="#c8dade"/>
<path d="M298.8 571.7L310.1 574.5L303.6 570.2L292.2 567.4Z" fill="#9faeb1"/>
<path d="M135.5 291.5L146.8 294.3L140.3 275.6L129 272.8Z" fill="#bebebe" stroke="none"/>
<path d="M139.1 275.3L129 272.8L133.5 285.7Z" fill="#beacac" stroke="none"/>
<path d="M135.5 291.5L146.8 294.3L140.3 275.6L129 272.8Z" fill="none"/>
<path d="M657.7 414.6L669.1 400.1L662.5 397.6L651.2 412Z" fill="#eaeaea"/>
<path d="M370.2 590.9L381.5 591.3L374.9 589.3L363.6 588.8Z" fill="#a5b5b8"/>
<path d="M509.4 572.1L520.7 566.9L514.2 567.1L502.9 572.4Z" fill="#b8c9cc"/>
<path d="M667.3 379.4L678.6 363.7L672.1 360L660.8 375.6Z" fill="#ededed"/>
<path d="M491 76.8L502.3 61.1L495.7 41.9L484.4 57.5Z" fill="#efd8d8" stroke="none"/>
<path d="M495 71.2L502.3 61.1L495.7 41.9L484.4 57.5L488.6 69.9Z" fill="#efc1c1" stroke="none"/>
<path d="M491 76.8L502.3 61.1L495.7 41.9L484.4 57.5Z" fill="none"/>
<path d="M566 540.1L577.3 531.9L570.7 532.2L559.4 540.3Z" fill="#c1d3d6"/>
<path d="M194.7 495.3L206.1 500.4L199.5 490.9L188.2 485.8Z" fill="#9cabad"/>
<path d="M149 416.9L160.3 422L153.8 408.4L142.5 403.4Z" fill="#b2b2b2"/>
<path d="M256.6 549.7L267.9 553.7L261.3 547.6L250 543.7Z" fill="#9dabae"/>
<path d="M132.5 336.8L143.8 340.7L137.2 323.8L125.9 319.8Z" fill="#b9b9b9"/>
<path d="M417.2 592.9L428.5 591.6L421.9 590.8L410.6 592Z" fill="#abbbbe"/>
<path d="M653 430.5L664.3 416.6L657.7 414.6L646.4 428.5Z" fill="#e8e8e8"/>
<path d="M498.1 576.8L509.4 572.1L502.9 572.4L491.6 577.1Z" fill="#b6c7ca"/>
<path d="M232.2 532.6L243.5 537.1L237 529.9L225.7 525.4Z" fill="#9caaad"/>
<path d="M134.2 364.5L145.5 369L139 353.2L127.7 348.7Z" fill="#b6b6b6"/>
<path d="M672.1 360L683.4 343.8L676.9 339.5L665.6 355.7Z" fill="#eeeeee"/>
<path d="M508.8 79.8L520.1 63.6L513.6 45L502.3 61.1Z" fill="#f0d9d9" stroke="none"/>
<path d="M512 75.2L520.1 63.6L513.6 45L502.3 61.1L506.7 73.9Z" fill="#f0c2c2" stroke="none"/>
<path d="M508.8 79.8L520.1 63.6L513.6 45L502.3 61.1Z" fill="none"/>
<path d="M577.3 531.9L588.6 523.2L582.1 523.5L570.7 532.2Z" fill="#c2d5d8"/>
<path d="M280.9 564L292.2 567.4L285.7 562.5L274.4 559.1Z" fill="#9dacaf"/>
<path d="M130.7 306.2L142 309.6L135.5 291.5L124.2 288.1Z" fill="#bcbcbc" stroke="none"/>
<path d="M131.3 290.2L124.2 288.1L127.8 298.1Z" fill="#bcaaaa" stroke="none"/>
<path d="M130.7 306.2L142 309.6L135.5 291.5L124.2 288.1Z" fill="none"/>
<path d="M632.1 471L643.4 458.8L636.9 458L625.6 470.1Z" fill="#ccdfe3" stroke="none"/>
<path d="M632.1 471L643.4 458.8L636.9 458L633.5 461.6L629.8 470.7Z" fill="#e3e3e3" stroke="none"/>
<path d="M632.1 471L643.4 458.8L636.9 458L625.6 470.1Z" fill="none"/>
<path d="M446.3 590.1L457.6 587.7L451.1 587.4L439.8 589.8Z" fill="#aebfc2"/>
<path d="M142.5 403.4L153.8 408.4L147.3 394.4L136 389.3Z" fill="#b2b2b2"/>
<path d="M201.3 504.2L212.6 509.3L206.1 500.4L194.7 495.3Z" fill="#9baaad"/>
<path d="M388 592.8L399.3 592.7L392.8 591.3L381.5 591.3Z" fill="#a7b7ba"/>
<path d="M616 493.9L627.3 482.9L620.8 482.6L609.5 493.6Z" fill="#c9dbdf" stroke="none"/>
<path d="M619 491L627.3 482.9L623.8 482.7Z" fill="#dfdfdf" stroke="none"/>
<path d="M616 493.9L627.3 482.9L620.8 482.6L609.5 493.6Z" fill="none"/>
<path d="M486.8 580.9L498.1 576.8L491.6 577.1L480.2 581.2Z" fill="#b4c5c8"/>
<path d="M648.2 445.2L659.5 431.9L653 430.5L641.6 443.8Z" fill="#e6e6e6"/>
<path d="M588.6 523.2L599.9 513.9L593.4 514.2L582.1 523.5Z" fill="#c4d6d9"/>
<path d="M207.8 512.6L219.1 517.6L212.6 509.3L201.3 504.2Z" fill="#9ba9ac"/>
<path d="M136 389.3L147.3 394.4L140.7 379.7L129.4 374.6Z" fill="#b3b3b3"/>
<path d="M323.2 581.4L334.5 583.6L327.9 580.4L316.6 578.2Z" fill="#a0afb2"/>
<path d="M133.7 256.3L145.1 258.6L138.5 238.7L127.2 236.5Z" fill="#c0aeae"/>
<path d="M341 586.2L352.3 587.8L345.8 585.2L334.5 583.6Z" fill="#a2b1b4"/>
<path d="M238.7 539.2L250 543.7L243.5 537.1L232.2 532.6Z" fill="#9baaac"/>
<path d="M127.7 348.7L139 353.2L132.5 336.8L121.2 332.3Z" fill="#b6b6b6"/>
<path d="M263.1 555.2L274.4 559.1L267.9 553.7L256.6 549.7Z" fill="#9cabad"/>
<path d="M125.9 319.8L137.2 323.8L130.7 306.2L119.4 302.3Z" fill="#b9b9b9" stroke="none"/>
<path d="M125.3 304.4L119.4 302.3L122.8 311.4Z" fill="#b9a7a7" stroke="none"/>
<path d="M125.9 319.8L137.2 323.8L130.7 306.2L119.4 302.3Z" fill="none"/>
<path d="M475.5 584.5L486.8 580.9L480.2 581.2L468.9 584.8Z" fill="#b2c2c5"/>
<path d="M405.8 593.5L417.2 592.9L410.6 592L399.3 592.7Z" fill="#a8b8bb"/>
<path d="M435 591.9L446.3 590.1L439.8 589.8L428.5 591.6Z" fill="#acbcbf"/>
<path d="M305.3 575.4L316.6 578.2L310.1 574.5L298.8 571.7Z" fill="#9eadb0"/>
<path d="M129 272.8L140.3 275.6L133.7 256.3L122.4 253.6Z" fill="#bebebe" stroke="none"/>
<path d="M129 272.8L139.1 275.3L139.8 274.1L133.7 256.3L122.4 253.6Z" fill="#beacac" stroke="none"/>
<path d="M129 272.8L140.3 275.6L133.7 256.3L122.4 253.6Z" fill="none"/>
<path d="M358.8 589.8L370.2 590.9L363.6 588.8L352.3 587.8Z" fill="#a3b2b5"/>
<path d="M599.9 513.9L611.2 504L604.7 504.3L593.4 514.2Z" fill="#c5d7db" stroke="none"/>
<path d="M606.9 507.8L611.2 504L609.9 504.1Z" fill="#dbdbdb" stroke="none"/>
<path d="M599.9 513.9L611.2 504L604.7 504.3L593.4 514.2Z" fill="none"/>
<path d="M669.1 400.1L680.4 385.1L673.8 382.5L662.5 397.6Z" fill="#eaeaea"/>
<path d="M673.8 382.5L685.1 366.9L678.6 363.7L667.3 379.4Z" fill="#ececec"/>
<path d="M484.4 57.5L495.7 41.9L489.2 22.1L477.9 37.7Z" fill="#eec0c0"/>
<path d="M627.3 482.9L638.6 471.3L632.1 471L620.8 482.6Z" fill="#c9dce0" stroke="none"/>
<path d="M627.3 482.9L638.6 471.3L632.1 471L627.5 475.8L623.8 482.7Z" fill="#e0e0e0" stroke="none"/>
<path d="M627.3 482.9L638.6 471.3L632.1 471L620.8 482.6Z" fill="none"/>
<path d="M643.4 458.8L654.7 446.1L648.2 445.2L636.9 458Z" fill="#e4e4e4"/>
<path d="M664.3 416.6L675.6 402.2L669.1 400.1L657.7 414.6Z" fill="#e8e8e8"/>
<path d="M163.8 459.5L175.2 465.2L168.6 453.9L157.3 448.3Z" fill="#adadad"/>
<path d="M157.3 448.3L168.6 453.9L162.1 442.2L150.8 436.5Z" fill="#aeaeae"/>
<path d="M214.3 520.3L225.7 525.4L219.1 517.6L207.8 512.6Z" fill="#9aa9ab"/>
<path d="M129.4 374.6L140.7 379.7L134.2 364.5L122.9 359.4Z" fill="#b3b3b3"/>
<path d="M678.6 363.7L689.9 347.6L683.4 343.8L672.1 360Z" fill="#ededed"/>
<path d="M502.3 61.1L513.6 45L507.1 25.7L495.7 41.9Z" fill="#efc1c1"/>
<path d="M287.5 568.3L298.8 571.7L292.2 567.4L280.9 564Z" fill="#9dacae"/>
<path d="M124.2 288.1L135.5 291.5L129 272.8L117.7 269.5Z" fill="#bcbcbc" stroke="none"/>
<path d="M124.2 288.1L131.3 290.2L133.5 285.7L129 272.8L117.7 269.5Z" fill="#bcaaaa" stroke="none"/>
<path d="M124.2 288.1L135.5 291.5L129 272.8L117.7 269.5Z" fill="none"/>
<path d="M170.4 470.1L181.7 475.8L175.2 465.2L163.8 459.5Z" fill="#adadad"/>
<path d="M150.8 436.5L162.1 442.2L155.6 429.8L144.2 424.1Z" fill="#afafaf"/>
<path d="M376.7 592.3L388 592.8L381.5 591.3L370.2 590.9Z" fill="#a5b4b7"/>
<path d="M464.2 587.4L475.5 584.5L468.9 584.8L457.6 587.7Z" fill="#afc0c3"/>
<path d="M538.6 560.2L549.9 553.7L543.3 554.6L532 561Z" fill="#bacccf"/>
<path d="M549.9 553.7L561.2 546.8L554.6 547.6L543.3 554.6Z" fill="#bcced1"/>
<path d="M176.9 480.2L188.2 485.8L181.7 475.8L170.4 470.1Z" fill="#9ba9ac" stroke="none"/>
<path d="M176.9 480.2L187.4 485.4L184.8 480.7L181.7 475.8L170.4 470.1Z" fill="#acacac" stroke="none"/>
<path d="M176.9 480.2L188.2 485.8L181.7 475.8L170.4 470.1Z" fill="none"/>
<path d="M144.2 424.1L155.6 429.8L149 416.9L137.7 411.2Z" fill="#afafaf"/>
<path d="M611.2 504L622.5 493.6L616 493.9L604.7 504.3Z" fill="#c6d9dc" stroke="none"/>
<path d="M611.2 504L622.5 493.6L617.2 493.8L609.9 504.1Z" fill="#dcdcdc" stroke="none"/>
<path d="M611.2 504L622.5 493.6L616 493.9L604.7 504.3Z" fill="none"/>
<path d="M527.2 566L538.6 560.2L532 561L520.7 566.9Z" fill="#b8cacd"/>
<path d="M561.2 546.8L572.5 539.2L566 540.1L554.6 547.6Z" fill="#becfd3"/>
<path d="M659.5 431.9L670.8 418.1L664.3 416.6L653 430.5Z" fill="#e6e6e6"/>
<path d="M245.2 545.2L256.6 549.7L250 543.7L238.7 539.2Z" fill="#9ba9ac"/>
<path d="M121.2 332.3L132.5 336.8L125.9 319.8L114.6 315.3Z" fill="#b7b7b7" stroke="none"/>
<path d="M120.8 317.8L114.6 315.3L118.7 325.9Z" fill="#b7a5a5" stroke="none"/>
<path d="M121.2 332.3L132.5 336.8L125.9 319.8L114.6 315.3Z" fill="none"/>
<path d="M515.9 571.3L527.2 566L520.7 566.9L509.4 572.1Z" fill="#b6c8cb"/>
<path d="M423.7 593.2L435 591.9L428.5 591.6L417.2 592.9Z" fill="#aababd"/>
<path d="M572.5 539.2L583.8 531L577.3 531.9L566 540.1Z" fill="#bfd1d4"/>
<path d="M183.4 489.7L194.7 495.3L188.2 485.8L176.9 480.2Z" fill="#9aa9ab" stroke="none"/>
<path d="M183.4 489.7L193 494.5L187.4 485.4L176.9 480.2Z" fill="#acacac" stroke="none"/>
<path d="M183.4 489.7L194.7 495.3L188.2 485.8L176.9 480.2Z" fill="none"/>
<path d="M137.7 411.2L149 416.9L142.5 403.4L131.2 397.7Z" fill="#b0b0b0"/>
<path d="M269.6 560.1L280.9 564L274.4 559.1L263.1 555.2Z" fill="#9baaad"/>
<path d="M119.4 302.3L130.7 306.2L124.2 288.1L112.9 284.2Z" fill="#bababa" stroke="none"/>
<path d="M119.4 302.3L125.3 304.4L127.8 298.1L124.2 288.1L112.9 284.2Z" fill="#baa8a8" stroke="none"/>
<path d="M119.4 302.3L130.7 306.2L124.2 288.1L112.9 284.2Z" fill="none"/>
<path d="M220.9 527.5L232.2 532.6L225.7 525.4L214.3 520.3Z" fill="#9aa8ab" stroke="none"/>
<path d="M220.9 527.5L221.7 527.9L217.7 524Z" fill="#ababab" stroke="none"/>
<path d="M220.9 527.5L232.2 532.6L225.7 525.4L214.3 520.3Z" fill="none"/>
<path d="M122.9 359.4L134.2 364.5L127.7 348.7L116.4 343.6Z" fill="#b4b4b4"/>
<path d="M394.5 593.6L405.8 593.5L399.3 592.7L388 592.8Z" fill="#a6b6b9"/>
<path d="M638.6 471.3L649.9 459.1L643.4 458.8L632.1 471Z" fill="#e1e1e1"/>
<path d="M504.6 575.9L515.9 571.3L509.4 572.1L498.1 576.8Z" fill="#b4c5c9"/>
<path d="M452.8 589.8L464.2 587.4L457.6 587.7L446.3 590.1Z" fill="#adbec1"/>
<path d="M583.8 531L595.1 522.3L588.6 523.2L577.3 531.9Z" fill="#c1d3d6" stroke="none"/>
<path d="M588.7 527.3L595.1 522.3L593.6 522.5Z" fill="#d6d6d6" stroke="none"/>
<path d="M583.8 531L595.1 522.3L588.6 523.2L577.3 531.9Z" fill="none"/>
<path d="M329.7 584L341 586.2L334.5 583.6L323.2 581.4Z" fill="#9faeb1"/>
<path d="M654.7 446.1L666 432.8L659.5 431.9L648.2 445.2Z" fill="#e4e4e4"/>
<path d="M131.2 397.7L142.5 403.4L136 389.3L124.7 383.6Z" fill="#b0b0b0"/>
<path d="M190 498.6L201.3 504.2L194.7 495.3L183.4 489.7Z" fill="#9aa8ab" stroke="none"/>
<path d="M190 498.6L199.3 503.2L193 494.5L183.4 489.7Z" fill="#ababab" stroke="none"/>
<path d="M190 498.6L201.3 504.2L194.7 495.3L183.4 489.7Z" fill="none"/>
<path d="M622.5 493.6L633.8 482.6L627.3 482.9L616 493.9Z" fill="#c7dadd" stroke="none"/>
<path d="M622.5 493.6L633.8 482.6L627.3 482.9L619 491L617.2 493.8Z" fill="#dedede" stroke="none"/>
<path d="M622.5 493.6L633.8 482.6L627.3 482.9L616 493.9Z" fill="none"/>
<path d="M311.8 578.6L323.2 581.4L316.6 578.2L305.3 575.4Z" fill="#9eadb0"/>
<path d="M122.4 253.6L133.7 256.3L127.2 236.5L115.9 233.7Z" fill="#beacac"/>
<path d="M347.5 588.2L358.8 589.8L352.3 587.8L341 586.2Z" fill="#a1b0b3"/>
<path d="M493.3 580.1L504.6 575.9L498.1 576.8L486.8 580.9Z" fill="#b2c3c6"/>
<path d="M595.1 522.3L606.4 513L599.9 513.9L588.6 523.2Z" fill="#c2d4d8" stroke="none"/>
<path d="M595.1 522.3L606.4 513L602 513.6L593.6 522.5Z" fill="#d8d8d8" stroke="none"/>
<path d="M595.1 522.3L606.4 513L599.9 513.9L588.6 523.2Z" fill="none"/>
<path d="M680.4 385.1L691.7 369.5L685.1 366.9L673.8 382.5Z" fill="#eaeaea"/>
<path d="M294 572.1L305.3 575.4L298.8 571.7L287.5 568.3Z" fill="#9cabae"/>
<path d="M117.7 269.5L129 272.8L122.4 253.6L111.1 250.2Z" fill="#bcaaaa"/>
<path d="M365.4 591.2L376.7 592.3L370.2 590.9L358.8 589.8Z" fill="#a2b2b5"/>
<path d="M675.6 402.2L686.9 387.1L680.4 385.1L669.1 400.1Z" fill="#e9e9e9"/>
<path d="M251.8 550.7L263.1 555.2L256.6 549.7L245.2 545.2Z" fill="#9aa9ab"/>
<path d="M114.6 315.3L125.9 319.8L119.4 302.3L108.1 297.8Z" fill="#b7b7b7" stroke="none"/>
<path d="M114.6 315.3L120.8 317.8L122.8 311.4L119.4 302.3L108.1 297.8Z" fill="#b7a6a6" stroke="none"/>
<path d="M114.6 315.3L125.9 319.8L119.4 302.3L108.1 297.8Z" fill="none"/>
<path d="M685.1 366.9L696.5 350.7L689.9 347.6L678.6 363.7Z" fill="#ececec" stroke="none"/>
<path d="M695.3 352.4L696.5 350.7L695 350Z" fill="#ecd5d5" stroke="none"/>
<path d="M685.1 366.9L696.5 350.7L689.9 347.6L678.6 363.7Z" fill="none"/>
<path d="M495.7 41.9L507.1 25.7L500.5 5.9L489.2 22.1Z" fill="#efc1c1"/>
<path d="M196.5 506.9L207.8 512.6L201.3 504.2L190 498.6Z" fill="#99a7aa" stroke="none"/>
<path d="M196.5 506.9L206.1 511.7L199.3 503.2L190 498.6Z" fill="#aaaaaa" stroke="none"/>
<path d="M196.5 506.9L207.8 512.6L201.3 504.2L190 498.6Z" fill="none"/>
<path d="M124.7 383.6L136 389.3L129.4 374.6L118.1 369Z" fill="#b1b1b1"/>
<path d="M116.4 343.6L127.7 348.7L121.2 332.3L109.8 327.2Z" fill="#b4b4b4" stroke="none"/>
<path d="M117.6 330.7L109.8 327.2L115.7 341.9Z" fill="#b4a3a3" stroke="none"/>
<path d="M116.4 343.6L127.7 348.7L121.2 332.3L109.8 327.2Z" fill="none"/>
<path d="M227.4 534.1L238.7 539.2L232.2 532.6L220.9 527.5Z" fill="#99a8aa" stroke="none"/>
<path d="M227.4 534.1L230.4 535.5L221.7 527.9L220.9 527.5Z" fill="#ababab" stroke="none"/>
<path d="M227.4 534.1L238.7 539.2L232.2 532.6L220.9 527.5Z" fill="none"/>
<path d="M412.4 593.8L423.7 593.2L417.2 592.9L405.8 593.5Z" fill="#a8b7ba"/>
<path d="M441.5 591.6L452.8 589.8L446.3 590.1L435 591.9Z" fill="#abbbbe"/>
<path d="M482 583.6L493.3 580.1L486.8 580.9L475.5 584.5Z" fill="#b0c1c4"/>
<path d="M670.8 418.1L682.1 403.6L675.6 402.2L664.3 416.6Z" fill="#e7e7e7"/>
<path d="M649.9 459.1L661.2 446.4L654.7 446.1L643.4 458.8Z" fill="#e2e2e2"/>
<path d="M606.4 513L617.7 503.2L611.2 504L599.9 513.9Z" fill="#c3d5d9" stroke="none"/>
<path d="M606.4 513L617.7 503.2L611.2 504L606.9 507.8L602 513.6Z" fill="#d9d9d9" stroke="none"/>
<path d="M606.4 513L617.7 503.2L611.2 504L599.9 513.9Z" fill="none"/>
<path d="M276.2 564.4L287.5 568.3L280.9 564L269.6 560.1Z" fill="#9baaac"/>
<path d="M112.9 284.2L124.2 288.1L117.7 269.5L106.3 265.5Z" fill="#baa8a8"/>
<path d="M633.8 482.6L645.1 471L638.6 471.3L627.3 482.9Z" fill="#dfdfdf"/>
<path d="M383.2 593.2L394.5 593.6L388 592.8L376.7 592.3Z" fill="#a4b3b6"/>
<path d="M203 514.7L214.3 520.3L207.8 512.6L196.5 506.9Z" fill="#99a7aa" stroke="none"/>
<path d="M203 514.7L213.5 519.9L206.1 511.7L196.5 506.9Z" fill="#aaaaaa" stroke="none"/>
<path d="M203 514.7L214.3 520.3L207.8 512.6L196.5 506.9Z" fill="none"/>
<path d="M118.1 369L129.4 374.6L122.9 359.4L111.6 353.7Z" fill="#b1b1b1" stroke="none"/>
<path d="M114.4 355.1L111.6 353.7L114.2 359.8Z" fill="#b1a0a0" stroke="none"/>
<path d="M118.1 369L129.4 374.6L122.9 359.4L111.6 353.7Z" fill="none"/>
<path d="M666 432.8L677.3 418.9L670.8 418.1L659.5 431.9Z" fill="#e5e5e5"/>
<path d="M146 442.1L157.3 448.3L150.8 436.5L139.5 430.3Z" fill="#acacac"/>
<path d="M152.5 453.3L163.8 459.5L157.3 448.3L146 442.1Z" fill="#acacac"/>
<path d="M470.7 586.6L482 583.6L475.5 584.5L464.2 587.4Z" fill="#aebfc2"/>
<path d="M159.1 463.9L170.4 470.1L163.8 459.5L152.5 453.3Z" fill="#ababab"/>
<path d="M139.5 430.3L150.8 436.5L144.2 424.1L132.9 417.9Z" fill="#adadad"/>
<path d="M109.8 327.2L121.2 332.3L114.6 315.3L103.3 310.3Z" fill="#b5b5b5" stroke="none"/>
<path d="M109.8 327.2L117.6 330.7L118.7 325.9L114.6 315.3L103.3 310.3Z" fill="#b5a4a4" stroke="none"/>
<path d="M109.8 327.2L121.2 332.3L114.6 315.3L103.3 310.3Z" fill="none"/>
<path d="M233.9 540.2L245.2 545.2L238.7 539.2L227.4 534.1Z" fill="#99a7aa" stroke="none"/>
<path d="M233.9 540.2L239.9 542.8L230.4 535.5L227.4 534.1Z" fill="#aaaaaa" stroke="none"/>
<path d="M233.9 540.2L245.2 545.2L238.7 539.2L227.4 534.1Z" fill="none"/>
<path d="M617.7 503.2L629.1 492.7L622.5 493.6L611.2 504Z" fill="#dbdbdb"/>
<path d="M545.1 558.7L556.4 552.3L549.9 553.7L538.6 560.2Z" fill="#b9cacd" stroke="none"/>
<path d="M550.9 555.4L556.4 552.3L555.9 552.4Z" fill="#cecece" stroke="none"/>
<path d="M545.1 558.7L556.4 552.3L549.9 553.7L538.6 560.2Z" fill="none"/>
<path d="M556.4 552.3L567.7 545.3L561.2 546.8L549.9 553.7Z" fill="#bacccf" stroke="none"/>
<path d="M556.4 552.3L567.7 545.3L566 545.7L555.9 552.4Z" fill="#d0d0d0" stroke="none"/>
<path d="M556.4 552.3L567.7 545.3L561.2 546.8L549.9 553.7Z" fill="none"/>
<path d="M165.6 474L176.9 480.2L170.4 470.1L159.1 463.9Z" fill="#aaaaaa"/>
<path d="M132.9 417.9L144.2 424.1L137.7 411.2L126.4 405Z" fill="#adadad"/>
<path d="M258.3 555.6L269.6 560.1L263.1 555.2L251.8 550.7Z" fill="#9aa8ab" stroke="none"/>
<path d="M258.3 555.6L260.9 556.6L254.6 552.8Z" fill="#ababab" stroke="none"/>
<path d="M258.3 555.6L269.6 560.1L263.1 555.2L251.8 550.7Z" fill="none"/>
<path d="M108.1 297.8L119.4 302.3L112.9 284.2L101.6 279.7Z" fill="#b8a6a6"/>
<path d="M533.8 564.6L545.1 558.7L538.6 560.2L527.2 566Z" fill="#b7c8cb"/>
<path d="M430.2 592.9L441.5 591.6L435 591.9L423.7 593.2Z" fill="#a9b9bc"/>
<path d="M318.4 581.2L329.7 584L323.2 581.4L311.8 578.6Z" fill="#9dacaf"/>
<path d="M567.7 545.3L579 537.8L572.5 539.2L561.2 546.8Z" fill="#bcced1" stroke="none"/>
<path d="M567.7 545.3L579 537.8L575.6 538.5L566 545.7Z" fill="#d1d1d1" stroke="none"/>
<path d="M567.7 545.3L579 537.8L572.5 539.2L561.2 546.8Z" fill="none"/>
<path d="M336.2 586L347.5 588.2L341 586.2L329.7 584Z" fill="#9faeb1"/>
<path d="M401.1 593.9L412.4 593.8L405.8 593.5L394.5 593.6Z" fill="#a5b5b8"/>
<path d="M522.5 569.8L533.8 564.6L527.2 566L515.9 571.3Z" fill="#b5c6c9"/>
<path d="M300.5 575.2L311.8 578.6L305.3 575.4L294 572.1Z" fill="#9cabad"/>
<path d="M111.1 250.2L122.4 253.6L115.9 233.7L104.6 230.4Z" fill="#bcaaaa"/>
<path d="M645.1 471L656.5 458.8L649.9 459.1L638.6 471.3Z" fill="#dfdfdf"/>
<path d="M579 537.8L590.3 529.6L583.8 531L572.5 539.2Z" fill="#becfd3" stroke="none"/>
<path d="M579 537.8L590.3 529.6L584.8 530.8L575.6 538.5Z" fill="#d3d3d3" stroke="none"/>
<path d="M579 537.8L590.3 529.6L583.8 531L572.5 539.2Z" fill="none"/>
<path d="M354.1 589.6L365.4 591.2L358.8 589.8L347.5 588.2Z" fill="#a0afb2"/>
<path d="M126.4 405L137.7 411.2L131.2 397.7L119.9 391.5Z" fill="#aeaeae"/>
<path d="M172.1 483.4L183.4 489.7L176.9 480.2L165.6 474Z" fill="#aaaaaa"/>
<path d="M209.6 521.9L220.9 527.5L214.3 520.3L203 514.7Z" fill="#99a8aa" stroke="none"/>
<path d="M209.6 521.9L220.9 527.5L217.7 524L213.5 519.9L203 514.7Z" fill="#ababab" stroke="none"/>
<path d="M209.6 521.9L220.9 527.5L214.3 520.3L203 514.7Z" fill="none"/>
<path d="M111.6 353.7L122.9 359.4L116.4 343.6L105.1 337.9Z" fill="#b2b2b2" stroke="none"/>
<path d="M111.6 353.7L114.4 355.1L115.5 343.2L105.1 337.9Z" fill="#b2a1a1" stroke="none"/>
<path d="M111.6 353.7L122.9 359.4L116.4 343.6L105.1 337.9Z" fill="none"/>
<path d="M661.2 446.4L672.6 433.1L666 432.8L654.7 446.1Z" fill="#e3e3e3"/>
<path d="M686.9 387.1L698.2 371.5L691.7 369.5L680.4 385.1Z" fill="#e9e9e9" stroke="none"/>
<path d="M695.4 375.4L698.2 371.5L695.6 370.7Z" fill="#e9d3d3" stroke="none"/>
<path d="M686.9 387.1L698.2 371.5L691.7 369.5L680.4 385.1Z" fill="none"/>
<path d="M691.7 369.5L703 353.3L696.5 350.7L685.1 366.9Z" fill="#eaeaea" stroke="none"/>
<path d="M695.7 363.7L703 353.3L696.5 350.7L695.3 352.4Z" fill="#ead4d4" stroke="none"/>
<path d="M691.7 369.5L703 353.3L696.5 350.7L685.1 366.9Z" fill="none"/>
<path d="M459.4 589L470.7 586.6L464.2 587.4L452.8 589.8Z" fill="#acbcbf"/>
<path d="M511.2 574.5L522.5 569.8L515.9 571.3L504.6 575.9Z" fill="#b3c4c7"/>
<path d="M590.3 529.6L601.6 520.9L595.1 522.3L583.8 531Z" fill="#bfd1d4" stroke="none"/>
<path d="M590.3 529.6L601.6 520.9L595.1 522.3L588.7 527.3L584.8 530.8Z" fill="#d5d5d5" stroke="none"/>
<path d="M590.3 529.6L601.6 520.9L595.1 522.3L583.8 531Z" fill="none"/>
<path d="M682.1 403.6L693.4 388.6L686.9 387.1L675.6 402.2Z" fill="#e7e7e7"/>
<path d="M629.1 492.7L640.4 481.7L633.8 482.6L622.5 493.6Z" fill="#dcdcdc"/>
<path d="M282.7 568.1L294 572.1L287.5 568.3L276.2 564.4Z" fill="#9ba9ac" stroke="none"/>
<path d="M282.7 568.1L285 568.9L280.2 566.7Z" fill="#acacac" stroke="none"/>
<path d="M282.7 568.1L294 572.1L287.5 568.3L276.2 564.4Z" fill="none"/>
<path d="M106.3 265.5L117.7 269.5L111.1 250.2L99.8 246.3Z" fill="#baa8a8"/>
<path d="M119.9 391.5L131.2 397.7L124.7 383.6L113.3 377.4Z" fill="#afafaf" stroke="none"/>
<path d="M114.5 378.1L113.3 377.4L114.8 380.5Z" fill="#af9e9e" stroke="none"/>
<path d="M119.9 391.5L131.2 397.7L124.7 383.6L113.3 377.4Z" fill="none"/>
<path d="M178.7 492.3L190 498.6L183.4 489.7L172.1 483.4Z" fill="#ababab"/>
<path d="M371.9 592.1L383.2 593.2L376.7 592.3L365.4 591.2Z" fill="#a2b1b4"/>
<path d="M499.8 578.6L511.2 574.5L504.6 575.9L493.3 580.1Z" fill="#b1c2c5"/>
<path d="M240.5 545.6L251.8 550.7L245.2 545.2L233.9 540.2Z" fill="#99a7aa" stroke="none"/>
<path d="M240.5 545.6L250 549.9L239.9 542.8L233.9 540.2Z" fill="#aaaaaa" stroke="none"/>
<path d="M240.5 545.6L251.8 550.7L245.2 545.2L233.9 540.2Z" fill="none"/>
<path d="M103.3 310.3L114.6 315.3L108.1 297.8L96.8 292.7Z" fill="#b5a4a4"/>
<path d="M601.6 520.9L613 511.6L606.4 513L595.1 522.3Z" fill="#d6d6d6"/>
<path d="M677.3 418.9L688.6 404.5L682.1 403.6L670.8 418.1Z" fill="#e5e5e5"/>
<path d="M418.9 593.5L430.2 592.9L423.7 593.2L412.4 593.8Z" fill="#a7b6b9"/>
<path d="M105.1 337.9L116.4 343.6L109.8 327.2L98.5 321.6Z" fill="#b3b3b3" stroke="none"/>
<path d="M105.1 337.9L115.5 343.2L115.7 341.9L109.8 327.2L98.5 321.6Z" fill="#b3a1a1" stroke="none"/>
<path d="M105.1 337.9L116.4 343.6L109.8 327.2L98.5 321.6Z" fill="none"/>
<path d="M216.1 528.5L227.4 534.1L220.9 527.5L209.6 521.9Z" fill="#ababab"/>
<path d="M185.2 500.7L196.5 506.9L190 498.6L178.7 492.3Z" fill="#ababab"/>
<path d="M113.3 377.4L124.7 383.6L118.1 369L106.8 362.7Z" fill="#afafaf" stroke="none"/>
<path d="M113.3 377.4L114.5 378.1L114.1 366.8L106.8 362.7Z" fill="#af9e9e" stroke="none"/>
<path d="M113.3 377.4L124.7 383.6L118.1 369L106.8 362.7Z" fill="none"/>
<path d="M264.8 559.9L276.2 564.4L269.6 560.1L258.3 555.6Z" fill="#99a8aa" stroke="none"/>
<path d="M264.8 559.9L272.5 563L260.9 556.6L258.3 555.6Z" fill="#ababab" stroke="none"/>
<path d="M264.8 559.9L276.2 564.4L269.6 560.1L258.3 555.6Z" fill="none"/>
<path d="M101.6 279.7L112.9 284.2L106.3 265.5L95 261Z" fill="#b8a6a6"/>
<path d="M448.1 590.8L459.4 589L452.8 589.8L441.5 591.6Z" fill="#aababd"/>
<path d="M656.5 458.8L667.8 446.1L661.2 446.4L649.9 459.1Z" fill="#e0e0e0"/>
<path d="M389.7 593.4L401.1 593.9L394.5 593.6L383.2 593.2Z" fill="#a3b3b5"/>
<path d="M488.5 582.2L499.8 578.6L493.3 580.1L482 583.6Z" fill="#afc0c3" stroke="none"/>
<path d="M488.5 582.2L494 580.5L488.1 582.3Z" fill="#c3c3c3" stroke="none"/>
<path d="M488.5 582.2L499.8 578.6L493.3 580.1L482 583.6Z" fill="none"/>
<path d="M640.4 481.7L651.7 470.1L645.1 471L633.8 482.6Z" fill="#dddddd"/>
<path d="M613 511.6L624.3 501.7L617.7 503.2L606.4 513Z" fill="#d8d8d8"/>
<path d="M672.6 433.1L683.9 419.2L677.3 418.9L666 432.8Z" fill="#e3e3e3"/>
<path d="M324.9 583.2L336.2 586L329.7 584L318.4 581.2Z" fill="#9dacae" stroke="none"/>
<path d="M324.9 583.2L328.8 584.2L322.2 582.4Z" fill="#afafaf" stroke="none"/>
<path d="M324.9 583.2L336.2 586L329.7 584L318.4 581.2Z" fill="none"/>
<path d="M307.1 577.8L318.4 581.2L311.8 578.6L300.5 575.2Z" fill="#9baaad" stroke="none"/>
<path d="M307.1 577.8L313.1 579.6L302.3 575.9Z" fill="#adadad" stroke="none"/>
<path d="M307.1 577.8L318.4 581.2L311.8 578.6L300.5 575.2Z" fill="none"/>
<path d="M342.7 587.4L354.1 589.6L347.5 588.2L336.2 586Z" fill="#9eadb0" stroke="none"/>
<path d="M342.7 587.4L346.1 588.1L340.8 587Z" fill="#b0b0b0" stroke="none"/>
<path d="M342.7 587.4L354.1 589.6L347.5 588.2L336.2 586Z" fill="none"/>
<path d="M191.7 508.4L203 514.7L196.5 506.9L185.2 500.7Z" fill="#acacac"/>
<path d="M106.8 362.7L118.1 369L111.6 353.7L100.3 347.5Z" fill="#b0b0b0" stroke="none"/>
<path d="M106.8 362.7L114.1 366.8L114.2 359.8L111.6 353.7L100.3 347.5Z" fill="#b09f9f" stroke="none"/>
<path d="M106.8 362.7L118.1 369L111.6 353.7L100.3 347.5Z" fill="none"/>
<path d="M477.2 585.1L488.5 582.2L482 583.6L470.7 586.6Z" fill="#adbdc1" stroke="none"/>
<path d="M477.2 585.1L488.5 582.2L488.1 582.3L475.5 585.5Z" fill="#c1c1c1" stroke="none"/>
<path d="M477.2 585.1L488.5 582.2L482 583.6L470.7 586.6Z" fill="none"/>
<path d="M222.6 534.5L233.9 540.2L227.4 534.1L216.1 528.5Z" fill="#acacac"/>
<path d="M98.5 321.6L109.8 327.2L103.3 310.3L92 304.6Z" fill="#b3a2a2"/>
<path d="M247 550.5L258.3 555.6L251.8 550.7L240.5 545.6Z" fill="#99a8ab" stroke="none"/>
<path d="M247 550.5L258.3 555.6L254.6 552.8L250 549.9L240.5 545.6Z" fill="#ababab" stroke="none"/>
<path d="M247 550.5L258.3 555.6L251.8 550.7L240.5 545.6Z" fill="none"/>
<path d="M96.8 292.7L108.1 297.8L101.6 279.7L90.2 274.6Z" fill="#b6a4a4"/>
<path d="M698.2 371.5L709.5 355.3L703 353.3L691.7 369.5Z" fill="#e9e9e9" stroke="none"/>
<path d="M698.2 371.5L709.5 355.3L703 353.3L695.7 363.7L695.6 370.7Z" fill="#e9d3d3" stroke="none"/>
<path d="M698.2 371.5L709.5 355.3L703 353.3L691.7 369.5Z" fill="none"/>
<path d="M289.2 571.3L300.5 575.2L294 572.1L282.7 568.1Z" fill="#9aa9ab" stroke="none"/>
<path d="M289.2 571.3L298.5 574.5L285 568.9L282.7 568.1Z" fill="#acacac" stroke="none"/>
<path d="M289.2 571.3L300.5 575.2L294 572.1L282.7 568.1Z" fill="none"/>
<path d="M99.8 246.3L111.1 250.2L104.6 230.4L93.3 226.4Z" fill="#bba9a9"/>
<path d="M360.6 590.5L371.9 592.1L365.4 591.2L354.1 589.6Z" fill="#c8dbde" stroke="none"/>
<path d="M360.6 590.5L365.2 591.1L358.3 590.2Z" fill="#dedede" stroke="none"/>
<path d="M360.6 590.5L371.9 592.1L365.4 591.2L354.1 589.6Z" fill="none"/>
<path d="M407.6 593.6L418.9 593.5L412.4 593.8L401.1 593.9Z" fill="#c3d6d9" stroke="none"/>
<path d="M407.6 593.6L411.9 593.6L406.2 593.7Z" fill="#dadada" stroke="none"/>
<path d="M407.6 593.6L418.9 593.5L412.4 593.8L401.1 593.9Z" fill="none"/>
<path d="M624.3 501.7L635.6 491.3L629.1 492.7L617.7 503.2Z" fill="#d9d9d9"/>
<path d="M693.4 388.6L704.7 372.9L698.2 371.5L686.9 387.1Z" fill="#e8e8e8" stroke="none"/>
<path d="M694.3 387.3L704.7 372.9L698.2 371.5L695.4 375.4Z" fill="#e8d1d1" stroke="none"/>
<path d="M693.4 388.6L704.7 372.9L698.2 371.5L686.9 387.1Z" fill="none"/>
<path d="M436.7 592L448.1 590.8L441.5 591.6L430.2 592.9Z" fill="#c0d2d6" stroke="none"/>
<path d="M436.7 592L443.2 591.3L435.3 592.2Z" fill="#d6d6d6" stroke="none"/>
<path d="M436.7 592L448.1 590.8L441.5 591.6L430.2 592.9Z" fill="none"/>
<path d="M551.6 556.7L562.9 550.3L556.4 552.3L545.1 558.7Z" fill="#b7c9cc" stroke="none"/>
<path d="M551.6 556.7L562.9 550.3L556.4 552.3L550.9 555.4L545.5 558.6Z" fill="#cccccc" stroke="none"/>
<path d="M551.6 556.7L562.9 550.3L556.4 552.3L545.1 558.7Z" fill="none"/>
<path d="M562.9 550.3L574.2 543.3L567.7 545.3L556.4 552.3Z" fill="#cecece"/>
<path d="M540.3 562.5L551.6 556.7L545.1 558.7L533.8 564.6Z" fill="#b6c7ca" stroke="none"/>
<path d="M540.3 562.5L551.6 556.7L545.5 558.6L534.8 564.3Z" fill="#cacaca" stroke="none"/>
<path d="M540.3 562.5L551.6 556.7L545.1 558.7L533.8 564.6Z" fill="none"/>
<path d="M651.7 470.1L663 458L656.5 458.8L645.1 471Z" fill="#dedede"/>
<path d="M574.2 543.3L585.6 535.7L579 537.8L567.7 545.3Z" fill="#d0d0d0"/>
<path d="M667.8 446.1L679.1 432.8L672.6 433.1L661.2 446.4Z" fill="#e1e1e1"/>
<path d="M688.6 404.5L700 389.4L693.4 388.6L682.1 403.6Z" fill="#e6e6e6" stroke="none"/>
<path d="M692.2 399.8L700 389.4L694.1 388.6Z" fill="#e6d0d0" stroke="none"/>
<path d="M688.6 404.5L700 389.4L693.4 388.6L682.1 403.6Z" fill="none"/>
<path d="M198.2 515.6L209.6 521.9L203 514.7L191.7 508.4Z" fill="#acacac"/>
<path d="M100.3 347.5L111.6 353.7L105.1 337.9L93.7 331.7Z" fill="#b09f9f"/>
<path d="M529 567.8L540.3 562.5L533.8 564.6L522.5 569.8Z" fill="#b4c5c8" stroke="none"/>
<path d="M529 567.8L540.3 562.5L534.8 564.3L523.6 569.5Z" fill="#c8c8c8" stroke="none"/>
<path d="M529 567.8L540.3 562.5L533.8 564.6L522.5 569.8Z" fill="none"/>
<path d="M271.4 563.6L282.7 568.1L276.2 564.4L264.8 559.9Z" fill="#99a7aa" stroke="none"/>
<path d="M271.4 563.6L282.7 568.1L280.2 566.7L272.5 563L264.8 559.9Z" fill="#aaaaaa" stroke="none"/>
<path d="M271.4 563.6L282.7 568.1L276.2 564.4L264.8 559.9Z" fill="none"/>
<path d="M95 261L106.3 265.5L99.8 246.3L88.5 241.8Z" fill="#b9a7a7"/>
<path d="M585.6 535.7L596.9 527.6L590.3 529.6L579 537.8Z" fill="#d1d1d1"/>
<path d="M378.4 592.4L389.7 593.4L383.2 593.2L371.9 592.1Z" fill="#c6d9dc" stroke="none"/>
<path d="M378.4 592.4L386.7 593.2L375 592.2Z" fill="#dcdcdc" stroke="none"/>
<path d="M378.4 592.4L389.7 593.4L383.2 593.2L371.9 592.1Z" fill="none"/>
<path d="M465.9 587.5L477.2 585.1L470.7 586.6L459.4 589Z" fill="#bdced2" stroke="none"/>
<path d="M465.9 587.5L477.2 585.1L475.5 585.5L462.5 588.3Z" fill="#d2d2d2" stroke="none"/>
<path d="M465.9 587.5L477.2 585.1L470.7 586.6L459.4 589Z" fill="none"/>
<path d="M517.7 572.5L529 567.8L522.5 569.8L511.2 574.5Z" fill="#b2c3c6" stroke="none"/>
<path d="M517.7 572.5L529 567.8L523.6 569.5L512.1 574.2Z" fill="#c6c6c6" stroke="none"/>
<path d="M517.7 572.5L529 567.8L522.5 569.8L511.2 574.5Z" fill="none"/>
<path d="M635.6 491.3L646.9 480.3L640.4 481.7L629.1 492.7Z" fill="#dadada"/>
<path d="M596.9 527.6L608.2 518.9L601.6 520.9L590.3 529.6Z" fill="#d3d3d3"/>
<path d="M683.9 419.2L695.2 404.7L688.6 404.5L677.3 418.9Z" fill="#e4e4e4" stroke="none"/>
<path d="M689 412.7L695.2 404.7L691.1 404.6Z" fill="#e4cece" stroke="none"/>
<path d="M683.9 419.2L695.2 404.7L688.6 404.5L677.3 418.9Z" fill="none"/>
<path d="M229.2 540L240.5 545.6L233.9 540.2L222.6 534.5Z" fill="#acacac"/>
<path d="M92 304.6L103.3 310.3L96.8 292.7L85.5 287.1Z" fill="#b4a2a2"/>
<path d="M425.4 592.7L436.7 592L430.2 592.9L418.9 593.5Z" fill="#c1d3d7" stroke="none"/>
<path d="M425.4 592.7L436.7 592L435.3 592.2L421 593.3Z" fill="#d7d7d7" stroke="none"/>
<path d="M425.4 592.7L436.7 592L430.2 592.9L418.9 593.5Z" fill="none"/>
<path d="M506.4 576.6L517.7 572.5L511.2 574.5L499.8 578.6Z" fill="#b0c1c4" stroke="none"/>
<path d="M506.4 576.6L517.7 572.5L512.1 574.2L500.3 578.5Z" fill="#c4c4c4" stroke="none"/>
<path d="M506.4 576.6L517.7 572.5L511.2 574.5L499.8 578.6Z" fill="none"/>
<path d="M253.5 554.8L264.8 559.9L258.3 555.6L247 550.5Z" fill="#ababab"/>
<path d="M90.2 274.6L101.6 279.7L95 261L83.7 255.9Z" fill="#b6a5a5"/>
<path d="M204.8 522.2L216.1 528.5L209.6 521.9L198.2 515.6Z" fill="#adadad"/>
<path d="M93.7 331.7L105.1 337.9L98.5 321.6L87.2 315.3Z" fill="#b1a0a0"/>
<path d="M608.2 518.9L619.5 509.6L613 511.6L601.6 520.9Z" fill="#d5d5d5"/>
<path d="M396.3 593.2L407.6 593.6L401.1 593.9L389.7 593.4Z" fill="#c4d6da" stroke="none"/>
<path d="M396.3 593.2L407.6 593.6L406.2 593.7L390.9 593.4Z" fill="#dadada" stroke="none"/>
<path d="M396.3 593.2L407.6 593.6L401.1 593.9L389.7 593.4Z" fill="none"/>
<path d="M313.6 579.8L324.9 583.2L318.4 581.2L307.1 577.8Z" fill="#9baaac" stroke="none"/>
<path d="M313.6 579.8L324.9 583.2L322.2 582.4L313.1 579.6L307.1 577.8Z" fill="#adadad" stroke="none"/>
<path d="M313.6 579.8L324.9 583.2L318.4 581.2L307.1 577.8Z" fill="none"/>
<path d="M331.4 584.6L342.7 587.4L336.2 586L324.9 583.2Z" fill="#c9dcdf" stroke="none"/>
<path d="M331.4 584.6L342.7 587.4L340.8 587L328.8 584.2L324.9 583.2Z" fill="#e0e0e0" stroke="none"/>
<path d="M331.4 584.6L342.7 587.4L336.2 586L324.9 583.2Z" fill="none"/>
<path d="M663 458L674.3 445.2L667.8 446.1L656.5 458.8Z" fill="#dfdfdf"/>
<path d="M454.6 589.3L465.9 587.5L459.4 589L448.1 590.8Z" fill="#bed0d3" stroke="none"/>
<path d="M454.6 589.3L465.9 587.5L462.5 588.3L449.1 590.6Z" fill="#d3d3d3" stroke="none"/>
<path d="M454.6 589.3L465.9 587.5L459.4 589L448.1 590.8Z" fill="none"/>
<path d="M295.7 573.9L307.1 577.8L300.5 575.2L289.2 571.3Z" fill="#9aa8ab" stroke="none"/>
<path d="M295.7 573.9L307.1 577.8L302.3 575.9L298.5 574.5L289.2 571.3Z" fill="#ababab" stroke="none"/>
<path d="M295.7 573.9L307.1 577.8L300.5 575.2L289.2 571.3Z" fill="none"/>
<path d="M349.3 588.3L360.6 590.5L354.1 589.6L342.7 587.4Z" fill="#c8dbde" stroke="none"/>
<path d="M349.3 588.3L360.6 590.5L358.3 590.2L346.1 588.1L342.7 587.4Z" fill="#dedede" stroke="none"/>
<path d="M349.3 588.3L360.6 590.5L354.1 589.6L342.7 587.4Z" fill="none"/>
<path d="M679.1 432.8L690.4 418.9L683.9 419.2L672.6 433.1Z" fill="#e2e2e2" stroke="none"/>
<path d="M684.5 426.1L690.4 418.9L687 419.1Z" fill="#e2cccc" stroke="none"/>
<path d="M679.1 432.8L690.4 418.9L683.9 419.2L672.6 433.1Z" fill="none"/>
<path d="M646.9 480.3L658.2 468.7L651.7 470.1L640.4 481.7Z" fill="#dbdbdb"/>
<path d="M495.1 580.2L506.4 576.6L499.8 578.6L488.5 582.2Z" fill="#aebfc2" stroke="none"/>
<path d="M495.1 580.2L506.4 576.6L500.3 578.5L494 580.5L488.5 582.2Z" fill="#c2c2c2" stroke="none"/>
<path d="M495.1 580.2L506.4 576.6L499.8 578.6L488.5 582.2Z" fill="none"/>
<path d="M704.7 372.9L716.1 356.8L709.5 355.3L698.2 371.5Z" fill="#e8d2d2"/>
<path d="M619.5 509.6L630.8 499.7L624.3 501.7L613 511.6Z" fill="#d6d6d6"/>
<path d="M700 389.4L711.3 373.8L704.7 372.9L693.4 388.6Z" fill="#e6e6e6" stroke="none"/>
<path d="M700 389.4L711.3 373.8L704.7 372.9L694.3 387.3L694.1 388.6Z" fill="#e6d0d0" stroke="none"/>
<path d="M700 389.4L711.3 373.8L704.7 372.9L693.4 388.6Z" fill="none"/>
<path d="M277.9 566.8L289.2 571.3L282.7 568.1L271.4 563.6Z" fill="#aaaaaa"/>
<path d="M88.5 241.8L99.8 246.3L93.3 226.4L82 221.9Z" fill="#b9a7a7" stroke="none"/>
<path d="M91.5 225.7L82 221.9L86.6 236.1Z" fill="#b99595" stroke="none"/>
<path d="M88.5 241.8L99.8 246.3L93.3 226.4L82 221.9Z" fill="none"/>
<path d="M367.1 590.8L378.4 592.4L371.9 592.1L360.6 590.5Z" fill="#c6d9dc" stroke="none"/>
<path d="M367.1 590.8L378.4 592.4L375 592.2L365.2 591.1L360.6 590.5Z" fill="#dddddd" stroke="none"/>
<path d="M367.1 590.8L378.4 592.4L371.9 592.1L360.6 590.5Z" fill="none"/>
<path d="M85.5 287.1L96.8 292.7L90.2 274.6L78.9 269Z" fill="#b4a3a3"/>
<path d="M235.7 544.8L247 550.5L240.5 545.6L229.2 540Z" fill="#adadad"/>
<path d="M211.3 528.3L222.6 534.5L216.1 528.5L204.8 522.2Z" fill="#adadad"/>
<path d="M87.2 315.3L98.5 321.6L92 304.6L80.7 298.4Z" fill="#b1a0a0"/>
<path d="M414.1 592.8L425.4 592.7L418.9 593.5L407.6 593.6Z" fill="#c2d4d7" stroke="none"/>
<path d="M414.1 592.8L425.4 592.7L421 593.3L411.9 593.6L407.6 593.6Z" fill="#d8d8d8" stroke="none"/>
<path d="M414.1 592.8L425.4 592.7L418.9 593.5L407.6 593.6Z" fill="none"/>
<path d="M483.7 583.1L495.1 580.2L488.5 582.2L477.2 585.1Z" fill="#cfcfcf"/>
<path d="M695.2 404.7L706.5 389.7L700 389.4L688.6 404.5Z" fill="#e4e4e4" stroke="none"/>
<path d="M695.2 404.7L706.5 389.7L700 389.4L692.2 399.8L691.1 404.6Z" fill="#e4cece" stroke="none"/>
<path d="M695.2 404.7L706.5 389.7L700 389.4L688.6 404.5Z" fill="none"/>
<path d="M443.3 590.6L454.6 589.3L448.1 590.8L436.7 592Z" fill="#bfd1d4" stroke="none"/>
<path d="M443.3 590.6L454.6 589.3L449.1 590.6L443.2 591.3L436.7 592Z" fill="#d4d4d4" stroke="none"/>
<path d="M443.3 590.6L454.6 589.3L448.1 590.8L436.7 592Z" fill="none"/>
<path d="M630.8 499.7L642.1 489.3L635.6 491.3L624.3 501.7Z" fill="#d7d7d7"/>
<path d="M674.3 445.2L685.6 431.9L679.1 432.8L667.8 446.1Z" fill="#e0e0e0" stroke="none"/>
<path d="M678.5 440.3L685.6 431.9L682 432.4Z" fill="#e0caca" stroke="none"/>
<path d="M674.3 445.2L685.6 431.9L679.1 432.8L667.8 446.1Z" fill="none"/>
<path d="M260.1 558.5L271.4 563.6L264.8 559.9L253.5 554.8Z" fill="#acacac"/>
<path d="M83.7 255.9L95 261L88.5 241.8L77.2 236.7Z" fill="#b7a5a5" stroke="none"/>
<path d="M84.9 240.2L77.2 236.7L81.4 249.1Z" fill="#b79494" stroke="none"/>
<path d="M83.7 255.9L95 261L88.5 241.8L77.2 236.7Z" fill="none"/>
<path d="M658.2 468.7L669.5 456.5L663 458L651.7 470.1Z" fill="#dcdcdc"/>
<path d="M385 592.1L396.3 593.2L389.7 593.4L378.4 592.4Z" fill="#c4d7da" stroke="none"/>
<path d="M385 592.1L396.3 593.2L390.9 593.4L386.7 593.2L378.4 592.4Z" fill="#dbdbdb" stroke="none"/>
<path d="M385 592.1L396.3 593.2L389.7 593.4L378.4 592.4Z" fill="none"/>
<path d="M558.1 554.1L569.5 547.7L562.9 550.3L551.6 556.7Z" fill="#cbcbcb"/>
<path d="M569.5 547.7L580.8 540.7L574.2 543.3L562.9 550.3Z" fill="#cdcdcd"/>
<path d="M546.8 560L558.1 554.1L551.6 556.7L540.3 562.5Z" fill="#c9c9c9"/>
<path d="M580.8 540.7L592.1 533.2L585.6 535.7L574.2 543.3Z" fill="#cecece"/>
<path d="M690.4 418.9L701.7 404.5L695.2 404.7L683.9 419.2Z" fill="#e2e2e2" stroke="none"/>
<path d="M690.4 418.9L701.7 404.5L695.2 404.7L689 412.7L687 419.1Z" fill="#e2cdcd" stroke="none"/>
<path d="M690.4 418.9L701.7 404.5L695.2 404.7L683.9 419.2Z" fill="none"/>
<path d="M535.5 565.2L546.8 560L540.3 562.5L529 567.8Z" fill="#c7c7c7"/>
<path d="M472.4 585.5L483.7 583.1L477.2 585.1L465.9 587.5Z" fill="#d0d0d0"/>
<path d="M592.1 533.2L603.4 525L596.9 527.6L585.6 535.7Z" fill="#d0d0d0"/>
<path d="M320.1 581.3L331.4 584.6L324.9 583.2L313.6 579.8Z" fill="#e0e0e0"/>
<path d="M642.1 489.3L653.4 478.3L646.9 480.3L635.6 491.3Z" fill="#d9d9d9"/>
<path d="M302.3 575.9L313.6 579.8L307.1 577.8L295.7 573.9Z" fill="#e1e1e1"/>
<path d="M338 585.5L349.3 588.3L342.7 587.4L331.4 584.6Z" fill="#dedede"/>
<path d="M217.8 533.7L229.2 540L222.6 534.5L211.3 528.3Z" fill="#aeaeae"/>
<path d="M80.7 298.4L92 304.6L85.5 287.1L74.2 280.8Z" fill="#b2a1a1"/>
<path d="M524.2 569.9L535.5 565.2L529 567.8L517.7 572.5Z" fill="#c5c5c5"/>
<path d="M603.4 525L614.7 516.3L608.2 518.9L596.9 527.6Z" fill="#d2d2d2"/>
<path d="M78.9 269L90.2 274.6L83.7 255.9L72.4 250.3Z" fill="#b5a3a3" stroke="none"/>
<path d="M79.7 253.9L72.4 250.3L76.9 263Z" fill="#b59292" stroke="none"/>
<path d="M78.9 269L90.2 274.6L83.7 255.9L72.4 250.3Z" fill="none"/>
<path d="M242.2 549.2L253.5 554.8L247 550.5L235.7 544.8Z" fill="#adadad"/>
<path d="M432 591.3L443.3 590.6L436.7 592L425.4 592.7Z" fill="#d5d5d5"/>
<path d="M402.8 592.3L414.1 592.8L407.6 593.6L396.3 593.2Z" fill="#d9d9d9"/>
<path d="M284.4 569.4L295.7 573.9L289.2 571.3L277.9 566.8Z" fill="#e1e1e1"/>
<path d="M355.8 588.6L367.1 590.8L360.6 590.5L349.3 588.3Z" fill="#dddddd"/>
<path d="M711.3 373.8L722.6 357.6L716.1 356.8L704.7 372.9Z" fill="#e7d0d0"/>
<path d="M669.5 456.5L680.8 443.8L674.3 445.2L663 458Z" fill="#dddddd" stroke="none"/>
<path d="M670.7 455.2L680.8 443.8L676.3 444.8Z" fill="#ddc8c8" stroke="none"/>
<path d="M669.5 456.5L680.8 443.8L674.3 445.2L663 458Z" fill="none"/>
<path d="M512.9 574L524.2 569.9L517.7 572.5L506.4 576.6Z" fill="#cbcbcb"/>
<path d="M685.6 431.9L696.9 418.1L690.4 418.9L679.1 432.8Z" fill="#e0e0e0" stroke="none"/>
<path d="M685.6 431.9L696.9 418.1L690.4 418.9L684.5 426.1L682 432.4Z" fill="#e0cbcb" stroke="none"/>
<path d="M685.6 431.9L696.9 418.1L690.4 418.9L679.1 432.8Z" fill="none"/>
<path d="M614.7 516.3L626 507L619.5 509.6L608.2 518.9Z" fill="#d3d3d3"/>
<path d="M461.1 587.3L472.4 585.5L465.9 587.5L454.6 589.3Z" fill="#d2d2d2"/>
<path d="M706.5 389.7L717.8 374.1L711.3 373.8L700 389.4Z" fill="#e5cfcf"/>
<path d="M77.2 236.7L88.5 241.8L82 221.9L70.7 216.9Z" fill="#b7a6a6" stroke="none"/>
<path d="M77.2 236.7L84.9 240.2L86.6 236.1L82 221.9L70.7 216.9Z" fill="#b79494" stroke="none"/>
<path d="M77.2 236.7L88.5 241.8L82 221.9L70.7 216.9Z" fill="none"/>
<path d="M266.6 561.7L277.9 566.8L271.4 563.6L260.1 558.5Z" fill="#acacac"/>
<path d="M653.4 478.3L664.7 466.7L658.2 468.7L646.9 480.3Z" fill="#dadada" stroke="none"/>
<path d="M660.3 471.3L664.7 466.7L663.1 467.2Z" fill="#dac5c5" stroke="none"/>
<path d="M653.4 478.3L664.7 466.7L658.2 468.7L646.9 480.3Z" fill="none"/>
<path d="M373.7 590.5L385 592.1L378.4 592.4L367.1 590.8Z" fill="#dbdbdb"/>
<path d="M501.6 577.6L512.9 574L506.4 576.6L495.1 580.2Z" fill="#cccccc"/>
<path d="M626 507L637.3 497.2L630.8 499.7L619.5 509.6Z" fill="#d4d4d4"/>
<path d="M74.2 280.8L85.5 287.1L78.9 269L67.6 262.7Z" fill="#b2a1a1" stroke="none"/>
<path d="M75.7 267.2L67.6 262.7L73.1 278Z" fill="#b29090" stroke="none"/>
<path d="M74.2 280.8L85.5 287.1L78.9 269L67.6 262.7Z" fill="none"/>
<path d="M224.4 538.6L235.7 544.8L229.2 540L217.8 533.7Z" fill="#aeaeae"/>
<path d="M701.7 404.5L713 389.4L706.5 389.7L695.2 404.7Z" fill="#e3cdcd"/>
<path d="M420.7 591.3L432 591.3L425.4 592.7L414.1 592.8Z" fill="#d6d6d6"/>
<path d="M248.7 552.9L260.1 558.5L253.5 554.8L242.2 549.2Z" fill="#adadad"/>
<path d="M72.4 250.3L83.7 255.9L77.2 236.7L65.9 231Z" fill="#b5a4a4" stroke="none"/>
<path d="M72.4 250.3L79.7 253.9L81.4 249.1L77.2 236.7L65.9 231Z" fill="#b59292" stroke="none"/>
<path d="M72.4 250.3L83.7 255.9L77.2 236.7L65.9 231Z" fill="none"/>
<path d="M449.8 588.6L461.1 587.3L454.6 589.3L443.3 590.6Z" fill="#d3d3d3"/>
<path d="M490.3 580.5L501.6 577.6L495.1 580.2L483.7 583.1Z" fill="#cecece"/>
<path d="M680.8 443.8L692.1 430.5L685.6 431.9L674.3 445.2Z" fill="#dedede" stroke="none"/>
<path d="M680.8 443.8L692.1 430.5L685.6 431.9L678.5 440.3L676.3 444.8Z" fill="#dec9c9" stroke="none"/>
<path d="M680.8 443.8L692.1 430.5L685.6 431.9L674.3 445.2Z" fill="none"/>
<path d="M391.5 591.2L402.8 592.3L396.3 593.2L385 592.1Z" fill="#d9d9d9"/>
<path d="M637.3 497.2L648.6 486.7L642.1 489.3L630.8 499.7Z" fill="#d6d6d6" stroke="none"/>
<path d="M646.2 489L648.6 486.7L648 487Z" fill="#d6c1c1" stroke="none"/>
<path d="M637.3 497.2L648.6 486.7L642.1 489.3L630.8 499.7Z" fill="none"/>
<path d="M308.8 577.3L320.1 581.3L313.6 579.8L302.3 575.9Z" fill="#dfdfdf"/>
<path d="M326.7 582.1L338 585.5L331.4 584.6L320.1 581.3Z" fill="#dedede"/>
<path d="M664.7 466.7L676.1 454.5L669.5 456.5L658.2 468.7Z" fill="#dbdbdb" stroke="none"/>
<path d="M664.7 466.7L676.1 454.5L670 456.4L663.1 467.2Z" fill="#dbc6c6" stroke="none"/>
<path d="M664.7 466.7L676.1 454.5L669.5 456.5L658.2 468.7Z" fill="none"/>
<path d="M696.9 418.1L708.2 403.6L701.7 404.5L690.4 418.9Z" fill="#e1cbcb"/>
<path d="M291 571.4L302.3 575.9L295.7 573.9L284.4 569.4Z" fill="#e0e0e0"/>
<path d="M344.5 585.8L355.8 588.6L349.3 588.3L338 585.5Z" fill="#dddddd"/>
<path d="M479 582.9L490.3 580.5L483.7 583.1L472.4 585.5Z" fill="#cfcfcf"/>
<path d="M273.1 564.3L284.4 569.4L277.9 566.8L266.6 561.7Z" fill="#e1e1e1"/>
<path d="M717.8 374.1L729.1 357.9L722.6 357.6L711.3 373.8Z" fill="#e5cfcf"/>
<path d="M362.3 588.3L373.7 590.5L367.1 590.8L355.8 588.6Z" fill="#dbdbdb"/>
<path d="M67.6 262.7L78.9 269L72.4 250.3L61.1 244.1Z" fill="#b3a2a2" stroke="none"/>
<path d="M67.6 262.7L75.7 267.2L76.9 263L72.4 250.3L61.1 244.1Z" fill="#b39191" stroke="none"/>
<path d="M67.6 262.7L78.9 269L72.4 250.3L61.1 244.1Z" fill="none"/>
<path d="M230.9 542.9L242.2 549.2L235.7 544.8L224.4 538.6Z" fill="#afafaf"/>
<path d="M648.6 486.7L660 475.7L653.4 478.3L642.1 489.3Z" fill="#d7d7d7" stroke="none"/>
<path d="M648.6 486.7L660 475.7L655.8 477.4L648 487Z" fill="#d7c2c2" stroke="none"/>
<path d="M648.6 486.7L660 475.7L653.4 478.3L642.1 489.3Z" fill="none"/>
<path d="M409.3 590.9L420.7 591.3L414.1 592.8L402.8 592.3Z" fill="#d7d7d7"/>
<path d="M438.5 589.2L449.8 588.6L443.3 590.6L432 591.3Z" fill="#d4d4d4"/>
<path d="M713 389.4L724.3 373.8L717.8 374.1L706.5 389.7Z" fill="#e4cece"/>
<path d="M676.1 454.5L687.4 441.8L680.8 443.8L669.5 456.5Z" fill="#dcdcdc" stroke="none"/>
<path d="M676.1 454.5L687.4 441.8L680.8 443.8L670.7 455.2L670 456.4Z" fill="#dcc7c7" stroke="none"/>
<path d="M676.1 454.5L687.4 441.8L680.8 443.8L669.5 456.5Z" fill="none"/>
<path d="M692.1 430.5L703.5 416.6L696.9 418.1L685.6 431.9Z" fill="#dfcaca"/>
<path d="M65.9 231L77.2 236.7L70.7 216.9L59.3 211.2Z" fill="#b69393"/>
<path d="M255.3 556.1L266.6 561.7L260.1 558.5L248.7 552.9Z" fill="#e1e1e1"/>
<path d="M380.2 589.6L391.5 591.2L385 592.1L373.7 590.5Z" fill="#dadada"/>
<path d="M467.7 584.7L479 582.9L472.4 585.5L461.1 587.3Z" fill="#d0d0d0"/>
<path d="M660 475.7L671.3 464.1L664.7 466.7L653.4 478.3Z" fill="#d8d8d8" stroke="none"/>
<path d="M660 475.7L671.3 464.1L664.7 466.7L660.3 471.3L655.8 477.4Z" fill="#d8c3c3" stroke="none"/>
<path d="M660 475.7L671.3 464.1L664.7 466.7L653.4 478.3Z" fill="none"/>
<path d="M708.2 403.6L719.6 388.6L713 389.4L701.7 404.5Z" fill="#e2cccc"/>
<path d="M315.3 578.2L326.7 582.1L320.1 581.3L308.8 577.3Z" fill="#dedede"/>
<path d="M427.2 589.3L438.5 589.2L432 591.3L420.7 591.3Z" fill="#d5d5d5"/>
<path d="M297.5 572.8L308.8 577.3L302.3 575.9L291 571.4Z" fill="#dfdfdf"/>
<path d="M333.2 582.4L344.5 585.8L338 585.5L326.7 582.1Z" fill="#dddddd"/>
<path d="M237.4 546.7L248.7 552.9L242.2 549.2L230.9 542.9Z" fill="#afafaf"/>
<path d="M61.1 244.1L72.4 250.3L65.9 231L54.6 224.8Z" fill="#b49191"/>
<path d="M398 589.8L409.3 590.9L402.8 592.3L391.5 591.2Z" fill="#d8d8d8"/>
<path d="M687.4 441.8L698.7 428.5L692.1 430.5L680.8 443.8Z" fill="#ddc7c7"/>
<path d="M279.7 566.3L291 571.4L284.4 569.4L273.1 564.3Z" fill="#e0e0e0"/>
<path d="M456.3 586L467.7 584.7L461.1 587.3L449.8 588.6Z" fill="#d1d1d1"/>
<path d="M351 585.5L362.3 588.3L355.8 588.6L344.5 585.8Z" fill="#dcdcdc"/>
<path d="M703.5 416.6L714.8 402.2L708.2 403.6L696.9 418.1Z" fill="#e0caca"/>
<path d="M671.3 464.1L682.6 452L676.1 454.5L664.7 466.7Z" fill="#d9c4c4"/>
<path d="M724.3 373.8L735.6 357.6L729.1 357.9L717.8 374.1Z" fill="#e4cece"/>
<path d="M261.8 558.6L273.1 564.3L266.6 561.7L255.3 556.1Z" fill="#e0e0e0"/>
<path d="M368.9 587.4L380.2 589.6L373.7 590.5L362.3 588.3Z" fill="#dadada"/>
<path d="M415.9 588.8L427.2 589.3L420.7 591.3L409.3 590.9Z" fill="#d5d5d5"/>
<path d="M719.6 388.6L730.9 372.9L724.3 373.8L713 389.4Z" fill="#e2cdcd"/>
<path d="M445 586.7L456.3 586L449.8 588.6L438.5 589.2Z" fill="#d2d2d2"/>
<path d="M698.7 428.5L710 414.6L703.5 416.6L692.1 430.5Z" fill="#dec8c8"/>
<path d="M244 549.8L255.3 556.1L248.7 552.9L237.4 546.7Z" fill="#e0e0e0" stroke="none"/>
<path d="M244 549.8L245.2 550.5L242.5 549.1Z" fill="#e0cbcb" stroke="none"/>
<path d="M244 549.8L255.3 556.1L248.7 552.9L237.4 546.7Z" fill="none"/>
<path d="M54.6 224.8L65.9 231L59.3 211.2L48 205Z" fill="#b49191"/>
<path d="M682.6 452L693.9 439.2L687.4 441.8L676.1 454.5Z" fill="#dac5c5"/>
<path d="M386.7 588.2L398 589.8L391.5 591.2L380.2 589.6Z" fill="#d8d8d8"/>
<path d="M304 573.7L315.3 578.2L308.8 577.3L297.5 572.8Z" fill="#dedede"/>
<path d="M321.9 578.5L333.2 582.4L326.7 582.1L315.3 578.2Z" fill="#dddddd"/>
<path d="M714.8 402.2L726.1 387.1L719.6 388.6L708.2 403.6Z" fill="#e0cbcb"/>
<path d="M286.2 567.7L297.5 572.8L291 571.4L279.7 566.3Z" fill="#dfdfdf"/>
<path d="M339.7 582.1L351 585.5L344.5 585.8L333.2 582.4Z" fill="#dcdcdc"/>
<path d="M268.3 560.7L279.7 566.3L273.1 564.3L261.8 558.6Z" fill="#dfdfdf" stroke="none"/>
<path d="M268.3 560.7L271.1 562L265.7 559.9Z" fill="#dfcaca" stroke="none"/>
<path d="M268.3 560.7L279.7 566.3L273.1 564.3L261.8 558.6Z" fill="none"/>
<path d="M433.7 586.7L445 586.7L438.5 589.2L427.2 589.3Z" fill="#d3d3d3"/>
<path d="M357.6 584.6L368.9 587.4L362.3 588.3L351 585.5Z" fill="#dadada"/>
<path d="M404.6 587.8L415.9 588.8L409.3 590.9L398 589.8Z" fill="#d6d6d6"/>
<path d="M693.9 439.2L705.2 425.9L698.7 428.5L687.4 441.8Z" fill="#dbc6c6"/>
<path d="M710 414.6L721.3 400.1L714.8 402.2L703.5 416.6Z" fill="#dec9c9"/>
<path d="M730.9 372.9L742.2 356.8L735.6 357.6L724.3 373.8Z" fill="#e3cdcd" stroke="none"/>
<path d="M734.1 368.3L742.2 356.8L736.7 357.5Z" fill="#e3b7b7" stroke="none"/>
<path d="M730.9 372.9L742.2 356.8L735.6 357.6L724.3 373.8Z" fill="none"/>
<path d="M250.5 552.4L261.8 558.6L255.3 556.1L244 549.8Z" fill="#e0e0e0" stroke="none"/>
<path d="M250.5 552.4L257.8 556.4L245.2 550.5L244 549.8Z" fill="#e0caca" stroke="none"/>
<path d="M250.5 552.4L261.8 558.6L255.3 556.1L244 549.8Z" fill="none"/>
<path d="M375.4 586L386.7 588.2L380.2 589.6L368.9 587.4Z" fill="#d9d9d9"/>
<path d="M726.1 387.1L737.4 371.5L730.9 372.9L719.6 388.6Z" fill="#e1cccc" stroke="none"/>
<path d="M730.1 381.6L737.4 371.5L732.9 372.5Z" fill="#e1b6b6" stroke="none"/>
<path d="M726.1 387.1L737.4 371.5L730.9 372.9L719.6 388.6Z" fill="none"/>
<path d="M422.4 586.3L433.7 586.7L427.2 589.3L415.9 588.8Z" fill="#d4d4d4" stroke="none"/>
<path d="M422.4 586.3L424.9 586.4L421.7 586.5Z" fill="#d4c0c0" stroke="none"/>
<path d="M422.4 586.3L433.7 586.7L427.2 589.3L415.9 588.8Z" fill="none"/>
<path d="M310.6 574L321.9 578.5L315.3 578.2L304 573.7Z" fill="#dddddd" stroke="none"/>
<path d="M310.6 574L316.8 576.5L306.5 573.8Z" fill="#ddc8c8" stroke="none"/>
<path d="M310.6 574L321.9 578.5L315.3 578.2L304 573.7Z" fill="none"/>
<path d="M292.7 568.6L304 573.7L297.5 572.8L286.2 567.7Z" fill="#dedede" stroke="none"/>
<path d="M292.7 568.6L300.5 572.1L286.9 567.8Z" fill="#dec9c9" stroke="none"/>
<path d="M292.7 568.6L304 573.7L297.5 572.8L286.2 567.7Z" fill="none"/>
<path d="M328.4 578.2L339.7 582.1L333.2 582.4L321.9 578.5Z" fill="#dcdcdc" stroke="none"/>
<path d="M328.4 578.2L334.3 580.2L325 578.3Z" fill="#dcc7c7" stroke="none"/>
<path d="M328.4 578.2L339.7 582.1L333.2 582.4L321.9 578.5Z" fill="none"/>
<path d="M393.2 586.2L404.6 587.8L398 589.8L386.7 588.2Z" fill="#d7d7d7" stroke="none"/>
<path d="M393.2 586.2L397.7 586.8L391.6 586.7Z" fill="#d7c2c2" stroke="none"/>
<path d="M393.2 586.2L404.6 587.8L398 589.8L386.7 588.2Z" fill="none"/>
<path d="M705.2 425.9L716.5 412L710 414.6L698.7 428.5Z" fill="#dcc7c7"/>
<path d="M274.9 562.1L286.2 567.7L279.7 566.3L268.3 560.7Z" fill="#dfdfdf" stroke="none"/>
<path d="M274.9 562.1L285.3 567.3L271.1 562L268.3 560.7Z" fill="#dfc9c9" stroke="none"/>
<path d="M274.9 562.1L286.2 567.7L279.7 566.3L268.3 560.7Z" fill="none"/>
<path d="M346.2 581.3L357.6 584.6L351 585.5L339.7 582.1Z" fill="#dadada" stroke="none"/>
<path d="M346.2 581.3L353.3 583.4L342.7 581.7Z" fill="#dac5c5" stroke="none"/>
<path d="M346.2 581.3L357.6 584.6L351 585.5L339.7 582.1Z" fill="none"/>
<path d="M721.3 400.1L732.6 385.1L726.1 387.1L714.8 402.2Z" fill="#dfcaca" stroke="none"/>
<path d="M724.9 395.3L732.6 385.1L728.4 386.4Z" fill="#dfb4b4" stroke="none"/>
<path d="M721.3 400.1L732.6 385.1L726.1 387.1L714.8 402.2Z" fill="none"/>
<path d="M257 554.4L268.3 560.7L261.8 558.6L250.5 552.4Z" fill="#dfdfdf" stroke="none"/>
<path d="M257 554.4L268.3 560.7L265.7 559.9L257.8 556.4L250.5 552.4Z" fill="#dfcaca" stroke="none"/>
<path d="M257 554.4L268.3 560.7L261.8 558.6L250.5 552.4Z" fill="none"/>
<path d="M364.1 583.2L375.4 586L368.9 587.4L357.6 584.6Z" fill="#d9d9d9" stroke="none"/>
<path d="M364.1 583.2L374.2 585.7L359.6 584.2Z" fill="#d9c4c4" stroke="none"/>
<path d="M364.1 583.2L375.4 586L368.9 587.4L357.6 584.6Z" fill="none"/>
<path d="M411.1 585.2L422.4 586.3L415.9 588.8L404.6 587.8Z" fill="#d5d5d5" stroke="none"/>
<path d="M411.1 585.2L422.4 586.3L421.7 586.5L406.9 586.9Z" fill="#d5c0c0" stroke="none"/>
<path d="M411.1 585.2L422.4 586.3L415.9 588.8L404.6 587.8Z" fill="none"/>
<path d="M737.4 371.5L748.7 355.3L742.2 356.8L730.9 372.9Z" fill="#e2cccc" stroke="none"/>
<path d="M737.4 371.5L748.7 355.3L742.2 356.8L734.1 368.3L732.9 372.5Z" fill="#e2b6b6" stroke="none"/>
<path d="M737.4 371.5L748.7 355.3L742.2 356.8L730.9 372.9Z" fill="none"/>
<path d="M716.5 412L727.8 397.6L721.3 400.1L710 414.6Z" fill="#ddc8c8" stroke="none"/>
<path d="M718.3 409.8L727.8 397.6L723.2 399.4Z" fill="#ddb3b3" stroke="none"/>
<path d="M716.5 412L727.8 397.6L721.3 400.1L710 414.6Z" fill="none"/>
<path d="M381.9 584L393.2 586.2L386.7 588.2L375.4 586Z" fill="#d7d7d7" stroke="none"/>
<path d="M381.9 584L393.2 586.2L391.6 586.7L375.9 585.8Z" fill="#d7c3c3" stroke="none"/>
<path d="M381.9 584L393.2 586.2L386.7 588.2L375.4 586Z" fill="none"/>
<path d="M299.2 568.9L310.6 574L304 573.7L292.7 568.6Z" fill="#dddddd" stroke="none"/>
<path d="M299.2 568.9L310.6 574L306.5 573.8L300.5 572.1L292.7 568.6Z" fill="#ddc8c8" stroke="none"/>
<path d="M299.2 568.9L310.6 574L304 573.7L292.7 568.6Z" fill="none"/>
<path d="M732.6 385.1L743.9 369.5L737.4 371.5L726.1 387.1Z" fill="#e0caca" stroke="none"/>
<path d="M732.6 385.1L743.9 369.5L737.4 371.5L730.1 381.6L728.4 386.4Z" fill="#e0b5b5" stroke="none"/>
<path d="M732.6 385.1L743.9 369.5L737.4 371.5L726.1 387.1Z" fill="none"/>
<path d="M317.1 573.7L328.4 578.2L321.9 578.5L310.6 574Z" fill="#dcdcdc" stroke="none"/>
<path d="M317.1 573.7L328.4 578.2L325 578.3L316.8 576.5L310.6 574Z" fill="#dcc7c7" stroke="none"/>
<path d="M317.1 573.7L328.4 578.2L321.9 578.5L310.6 574Z" fill="none"/>
<path d="M281.4 563L292.7 568.6L286.2 567.7L274.9 562.1Z" fill="#dedede" stroke="none"/>
<path d="M281.4 563L292.7 568.6L286.9 567.8L285.3 567.3L274.9 562.1Z" fill="#dec8c8" stroke="none"/>
<path d="M281.4 563L292.7 568.6L286.2 567.7L274.9 562.1Z" fill="none"/>
<path d="M334.9 577.3L346.2 581.3L339.7 582.1L328.4 578.2Z" fill="#dbdbdb" stroke="none"/>
<path d="M334.9 577.3L346.2 581.3L342.7 581.7L334.3 580.2L328.4 578.2Z" fill="#dbc6c6" stroke="none"/>
<path d="M334.9 577.3L346.2 581.3L339.7 582.1L328.4 578.2Z" fill="none"/>
<path d="M399.8 583.6L411.1 585.2L404.6 587.8L393.2 586.2Z" fill="#d5d5d5" stroke="none"/>
<path d="M399.8 583.6L411.1 585.2L406.9 586.9L397.7 586.8L393.2 586.2Z" fill="#d5c1c1" stroke="none"/>
<path d="M399.8 583.6L411.1 585.2L404.6 587.8L393.2 586.2Z" fill="none"/>
<path d="M263.6 555.9L274.9 562.1L268.3 560.7L257 554.4Z" fill="#dec9c9"/>
<path d="M352.8 579.8L364.1 583.2L357.6 584.6L346.2 581.3Z" fill="#d9d9d9" stroke="none"/>
<path d="M352.8 579.8L364.1 583.2L359.6 584.2L353.3 583.4L346.2 581.3Z" fill="#d9c4c4" stroke="none"/>
<path d="M352.8 579.8L364.1 583.2L357.6 584.6L346.2 581.3Z" fill="none"/>
<path d="M727.8 397.6L739.1 382.5L732.6 385.1L721.3 400.1Z" fill="#dec9c9" stroke="none"/>
<path d="M727.8 397.6L739.1 382.5L732.6 385.1L724.9 395.3L723.2 399.4Z" fill="#deb3b3" stroke="none"/>
<path d="M727.8 397.6L739.1 382.5L732.6 385.1L721.3 400.1Z" fill="none"/>
<path d="M370.6 581.2L381.9 584L375.4 586L364.1 583.2Z" fill="#d8d8d8" stroke="none"/>
<path d="M370.6 581.2L381.9 584L375.9 585.8L374.2 585.7L364.1 583.2Z" fill="#d8c3c3" stroke="none"/>
<path d="M370.6 581.2L381.9 584L375.4 586L364.1 583.2Z" fill="none"/>
<path d="M743.9 369.5L755.2 353.3L748.7 355.3L737.4 371.5Z" fill="#e1b5b5"/>
<path d="M305.8 568.6L317.1 573.7L310.6 574L299.2 568.9Z" fill="#dcc7c7"/>
<path d="M388.5 581.4L399.8 583.6L393.2 586.2L381.9 584Z" fill="#d6c1c1"/>
<path d="M287.9 563.2L299.2 568.9L292.7 568.6L281.4 563Z" fill="#ddc7c7"/>
<path d="M323.6 572.8L334.9 577.3L328.4 578.2L317.1 573.7Z" fill="#dbc6c6"/>
<path d="M270.1 556.7L281.4 563L274.9 562.1L263.6 555.9Z" fill="#ddc8c8"/>
<path d="M739.1 382.5L750.5 366.9L743.9 369.5L732.6 385.1Z" fill="#dfb4b4"/>
<path d="M341.5 575.9L352.8 579.8L346.2 581.3L334.9 577.3Z" fill="#d9c5c5"/>
<path d="M359.3 577.8L370.6 581.2L364.1 583.2L352.8 579.8Z" fill="#d8c3c3"/>
<path d="M377.2 578.6L388.5 581.4L381.9 584L370.6 581.2Z" fill="#d6c2c2"/>
<path d="M750.5 366.9L761.8 350.7L755.2 353.3L743.9 369.5Z" fill="#e0b5b5"/>
<path d="M294.5 563L305.8 568.6L299.2 568.9L287.9 563.2Z" fill="#dcc7c7"/>
<path d="M312.3 567.7L323.6 572.8L317.1 573.7L305.8 568.6Z" fill="#dbc6c6"/>
<path d="M276.6 557L287.9 563.2L281.4 563L270.1 556.7Z" fill="#ddc7c7"/>
<path d="M330.2 571.4L341.5 575.9L334.9 577.3L323.6 572.8Z" fill="#dac5c5"/>
<path d="M348 573.9L359.3 577.8L352.8 579.8L341.5 575.9Z" fill="#d8c3c3"/>
<path d="M365.8 575.2L377.2 578.6L370.6 581.2L359.3 577.8Z" fill="#d7c2c2"/>
<path d="M301 562.1L312.3 567.7L305.8 568.6L294.5 563Z" fill="#dbc6c6"/>
<path d="M283.2 556.7L294.5 563L287.9 563.2L276.6 557Z" fill="#dcc7c7"/>
<path d="M318.8 566.3L330.2 571.4L323.6 572.8L312.3 567.7Z" fill="#dac5c5"/>
<path d="M336.7 569.4L348 573.9L341.5 575.9L330.2 571.4Z" fill="#d8c4c4"/>
<path d="M354.5 571.3L365.8 575.2L359.3 577.8L348 573.9Z" fill="#d7c2c2"/>
<path d="M289.7 555.9L301 562.1L294.5 563L283.2 556.7Z" fill="#dbc6c6" stroke="none"/>
<path d="M289.7 555.9L297.8 560.3L284.2 556.6Z" fill="#dbb1b1" stroke="none"/>
<path d="M289.7 555.9L301 562.1L294.5 563L283.2 556.7Z" fill="none"/>
<path d="M307.5 560.7L318.8 566.3L312.3 567.7L301 562.1Z" fill="#dac5c5" stroke="none"/>
<path d="M307.5 560.7L314.8 564.3L303.1 561.6Z" fill="#dab0b0" stroke="none"/>
<path d="M307.5 560.7L318.8 566.3L312.3 567.7L301 562.1Z" fill="none"/>
<path d="M325.4 564.3L336.7 569.4L330.2 571.4L318.8 566.3Z" fill="#d9c4c4" stroke="none"/>
<path d="M325.4 564.3L333.1 567.8L321.2 565.6Z" fill="#d9afaf" stroke="none"/>
<path d="M325.4 564.3L336.7 569.4L330.2 571.4L318.8 566.3Z" fill="none"/>
<path d="M343.2 566.8L354.5 571.3L348 573.9L336.7 569.4Z" fill="#d7c3c3" stroke="none"/>
<path d="M343.2 566.8L352.8 570.6L338.6 568.6Z" fill="#d7aeae" stroke="none"/>
<path d="M343.2 566.8L354.5 571.3L348 573.9L336.7 569.4Z" fill="none"/>
<path d="M296.2 554.4L307.5 560.7L301 562.1L289.7 555.9Z" fill="#dac5c5" stroke="none"/>
<path d="M296.2 554.4L307.5 560.7L303.1 561.6L297.8 560.3L289.7 555.9Z" fill="#dab0b0" stroke="none"/>
<path d="M296.2 554.4L307.5 560.7L301 562.1L289.7 555.9Z" fill="none"/>
<path d="M314.1 558.6L325.4 564.3L318.8 566.3L307.5 560.7Z" fill="#d9c4c4" stroke="none"/>
<path d="M314.1 558.6L325.4 564.3L321.2 565.6L314.8 564.3L307.5 560.7Z" fill="#d9afaf" stroke="none"/>
<path d="M314.1 558.6L325.4 564.3L318.8 566.3L307.5 560.7Z" fill="none"/>
<path d="M331.9 561.7L343.2 566.8L336.7 569.4L325.4 564.3Z" fill="#d8c3c3" stroke="none"/>
<path d="M331.9 561.7L343.2 566.8L338.6 568.6L333.1 567.8L325.4 564.3Z" fill="#d8aeae" stroke="none"/>
<path d="M331.9 561.7L343.2 566.8L336.7 569.4L325.4 564.3Z" fill="none"/>
<path d="M302.7 552.4L314.1 558.6L307.5 560.7L296.2 554.4Z" fill="#d9afaf"/>
<path d="M320.6 556.1L331.9 561.7L325.4 564.3L314.1 558.6Z" fill="#d8aeae"/>
<path d="M309.3 549.8L320.6 556.1L314.1 558.6L302.7 552.4Z" fill="#d8aeae"/>
</g>
<g fill="none" stroke-width="2.1" stroke-linecap="round" stroke-linejoin="round">
<path d="M431.2 586.7L434.1 586.3L436.9 585.9L439.8 585.4L442.7 585L445.5 584.4L448.4 583.9L451.2 583.3L454 582.6L456.8 582L459.6 581.3L462.3 580.5L465.1 579.7L467.8 578.9L470.5 578.1L473.2 577.2L475.9 576.2L478.5 575.3L481.1 574.3L483.7 573.3L486.3 572.2L488.9 571.1L491.4 570L493.9 568.8L496.4 567.6L498.8 566.4L501.2 565.1L503.6 563.8L506 562.5L508.3 561.1L510.6 559.7L512.8 558.3L515.1 556.8L517.3 555.4L519.4 553.9L521.6 552.3L523.6 550.7L525.7 549.2L527.7 547.5L529.7 545.9L531.6 544.2L533.5 542.5L535.4 540.8L537.2 539L539 537.3L540.8 535.5L542.5 533.7L544.1 531.8L545.7 530L547.3 528.1L548.9 526.2L550.3 524.2L551.8 522.3L553.2 520.3L554.5 518.4L555.8 516.4L557.1 514.3L558.3 512.3L559.5 510.3L560.6 508.2L561.7 506.1L562.7 504L563.7 501.9L564.6 499.8L565.5 497.7L566.3 495.5L567.1 493.4L567.8 491.2L568.5 489L569.2 486.9L569.8 484.7L570.3 482.5L570.8 480.3L571.2 478.1L571.6 475.8L571.9 473.6L572.2 471.4L572.4 469.2L572.6 466.9L572.7 464.7L572.8 462.5L572.8 460.2L572.8 458L572.7 455.8L572.6 453.6L572.4 451.3L572.2 449.1L571.9 446.9L571.6 444.7L571.2 442.4L570.8 440.2L570.3 438L569.8 435.8L569.2 433.6L568.5 431.5L567.8 429.3L567.1 427.1L566.3 425L565.5 422.8L564.6 420.7L563.7 418.6L562.7 416.5L561.7 414.4L560.6 412.3L559.5 410.2L558.3 408.2L557.1 406.2L555.8 404.1L554.5 402.1L553.2 400.2L551.8 398.2L550.3 396.3L548.9 394.3L547.3 392.4L545.7 390.5L544.1 388.7L542.5 386.8L540.8 385L539 383.2L537.2 381.5L535.4 379.7L533.5 378L531.6 376.3L529.7 374.6L527.7 373L525.7 371.3L523.7 369.8L521.6 368.2L519.4 366.6L517.3 365.1L515.1 363.7L512.8 362.2L510.6 360.8L508.3 359.4L506 358L503.6 356.7L501.2 355.4L498.8 354.1L496.4 352.9L493.9 351.7L491.4 350.5L488.9 349.4L486.3 348.3L483.7 347.2L481.1 346.2L478.5 345.2L475.9 344.3L473.2 343.3L470.5 342.4L467.8 341.6L465.1 340.8L462.3 340L459.6 339.2L456.8 338.5L454 337.9L451.2 337.2L448.4 336.6L445.5 336.1L442.7 335.5L439.8 335.1L436.9 334.6L434.1 334.2L431.2 333.8L428.3 333.5L425.4 333.2L422.5 333L419.5 332.8L416.6 332.6L413.7 332.4L410.8 332.3L407.8 332.3L404.9 332.3L402 332.3L399 332.3L396.1 332.4L393.2 332.6L390.3 332.8L387.3 333L384.4 333.2L381.5 333.5L378.6 333.8L375.7 334.2L372.9 334.6L370 335.1L367.1 335.5L364.3 336.1L361.4 336.6L358.6 337.2L355.8 337.9L353 338.5L350.2 339.2L347.5 340L344.7 340.8L342 341.6L339.3 342.4L336.6 343.3L333.9 344.3L331.3 345.2L328.7 346.2L326.1 347.2L323.5 348.3L320.9 349.4L318.4 350.5L315.9 351.7L313.4 352.9L311 354.1L308.6 355.4L306.2 356.7L303.8 358L301.5 359.4L299.2 360.8L297 362.2L294.7 363.7L292.5 365.1L290.4 366.6L288.2 368.2L286.2 369.8L284.1 371.3L282.1 373L280.1 374.6L278.2 376.3L276.3 378L274.4 379.7L272.6 381.5L270.8 383.2L269 385L267.3 386.8L265.7 388.7L264.1 390.5L262.5 392.4L260.9 394.3L259.5 396.3L258 398.2L256.6 400.2L255.3 402.1L254 404.1L252.7 406.2L251.5 408.2L250.3 410.2L249.2 412.3L248.1 414.4L247.1 416.5L246.1 418.6L245.2 420.7L244.3 422.8L243.5 425L242.7 427.1L242 429.3L241.3 431.5L240.6 433.6L240 435.8L239.5 438L239 440.2L238.6 442.4L238.2 444.7L237.9 446.9L237.6 449.1L237.4 451.3L237.2 453.6L237.1 455.8L237 458L237 460.3L237 462.5L237.1 464.7L237.2 466.9L237.4 469.2L237.6 471.4L237.9 473.6L238.2 475.8L238.6 478.1L239 480.3L239.5 482.5L240 484.7L240.6 486.9L241.3 489L242 491.2L242.7 493.4L243.5 495.5L244.3 497.7L245.2 499.8L246.1 501.9L247.1 504L248.1 506.1L249.2 508.2L250.3 510.3L251.5 512.3L252.7 514.3L254 516.4L255.3 518.4L256.6 520.3L258 522.3L259.5 524.2L260.9 526.2L262.5 528.1L264.1 530L265.7 531.8L267.3 533.7L269 535.5L270.8 537.3L272.6 539L274.4 540.8L276.3 542.5L278.2 544.2L280.1 545.9L282.1 547.5L284.1 549.2L286.1 550.7L288.2 552.3L290.4 553.9L292.5 555.4" stroke="#0b4a70"/>
<path d="M252.2 551.4L255.4 553.4L257.1 554.4" stroke="#081d2c" stroke-dasharray="8.5 9.9" stroke-dashoffset="8.7"/>
<path d="M331.5 584.9L335.5 585.8L339.4 586.7L343.4 587.6L347.4 588.4L351.5 589.1L355.5 589.8L359.6 590.4L363.7 591L367.7 591.5L371.8 592L376 592.4L380.1 592.8L384.2 593.1L388.3 593.3L392.5 593.5L396.6 593.6L400.8 593.7L404.9 593.7L409 593.7L413.2 593.6L417.3 593.5L421.5 593.3L425.6 593.1L429.7 592.8L433.8 592.4L438 592L442.1 591.5L446.1 591L450.2 590.4L454.3 589.8L458.3 589.1L462.4 588.4L466.4 587.6L470.4 586.7L474.3 585.8L478.3 584.9" stroke="#081d2c" stroke-dasharray="8.5 9.9" stroke-dashoffset="8.7"/>
<path d="M511.8 574.4L515.5 572.9L519.1 571.4L522.8 569.9L526.3 568.3L529.9 566.7L533.4 565L536.8 563.2L540.3 561.5L543.7 559.6L547 557.8L550.3 555.9L553.6 553.9L556.8 551.9L559.9 549.9L563 547.8L566.1 545.7L569.1 543.5L572.1 541.3L575 539L577.9 536.8L580.7 534.4L583.5 532.1L586.2 529.7L588.8 527.3L591.4 524.8L594 522.3L596.4 519.8L598.9 517.2L601.2 514.6L603.5 512L605.8 509.3L607.9 506.6L610.1 503.9L612.1 501.2L614.1 498.4L616 495.6L617.9 492.8L619.7 490L621.4 487.1L623.1 484.2L624.7 481.3L626.3 478.4L627.7 475.4L629.1 472.4L630.5 469.4L631.7 466.4L632.9 463.4L634 460.4L635.1 457.3L636.1 454.2L637 451.2L637.8 448.1L638.6 445L639.3 441.8L639.9 438.7L640.5 435.6L641 432.5L641.4 429.3L641.7 426.2L642 423L642.2 419.9L642.3 416.7L642.4 413.5L642.4 410.4L642.3 407.2L642.1 404.1L641.9 400.9L641.6 397.8L641.2 394.6L640.8 391.5L640.2 388.3L639.6 385.2L639 382.1L638.2 379L637.4 375.9L636.5 372.8L635.6 369.7L634.6 366.7L633.5 363.6L632.3 360.6L631.1 357.6L629.8 354.6L628.4 351.6L627 348.6L625.5 345.7L623.9 342.8L622.3 339.9L620.6 337L618.8 334.1L617 331.3L615.1 328.5L613.1 325.7L611.1 322.9L609 320.2L606.9 317.5L604.6 314.8L602.4 312.2L600 309.6L597.6 307L595.2 304.5L592.7 301.9L590.1 299.5L587.5 297L584.8 294.6L582.1 292.2L579.3 289.9L576.5 287.6L573.6 285.3L570.6 283.1L567.6 280.9L564.6 278.8L561.5 276.7L558.4 274.6L555.2 272.6L551.9 270.6L548.7 268.7L545.3 266.8L542 264.9L538.6 263.1L535.1 261.4L531.6 259.7L528.1 258L524.5 256.4L520.9 254.8L517.3 253.3L513.6 251.8L509.9 250.4L506.2 249L502.4 247.7L498.7 246.4L494.8 245.2L491 244.1L487.1 242.9L483.2 241.9L479.3 240.9L475.3 239.9L471.4 239L467.4 238.1L463.4 237.3L459.3 236.6L455.3 235.9L451.2 235.2L447.2 234.6L443.1 234.1L439 233.6L434.9 233.2L430.8 232.8L426.6 232.5L422.5 232.2L418.4 232L414.2 231.9L410.1 231.8L405.9 231.8L401.8 231.8L397.6 231.8L393.5 232L389.4 232.1L385.2 232.4L381.1 232.7L377 233L372.9 233.4L368.8 233.9L364.7 234.4L360.6 234.9L356.5 235.5L352.5 236.2L348.4 236.9L344.4 237.7L340.4 238.5L336.5 239.4L332.5 240.4L328.6 241.4L324.6 242.4L320.8 243.5L316.9 244.6L313.1 245.8L309.2 247.1L305.5 248.4L301.7 249.7L298 251.1L294.3 252.6L290.7 254.1L287 255.6L283.5 257.2L279.9 258.8L276.4 260.5L273 262.3L269.5 264L266.1 265.9L262.8 267.7L259.5 269.6L256.2 271.6L253 273.6L249.9 275.6L246.8 277.7L243.7 279.8L240.7 282L237.7 284.2L234.8 286.5L231.9 288.7L229.1 291.1L226.3 293.4L223.6 295.8L221 298.2L218.4 300.7L215.8 303.2L213.4 305.7L210.9 308.3L208.6 310.9L206.3 313.5L204 316.2L201.9 318.9L199.7 321.6L197.7 324.3L195.7 327.1L193.8 329.9L191.9 332.7L190.1 335.5L188.4 338.4L186.7 341.3L185.1 344.2L183.5 347.1L182.1 350.1L180.7 353.1L179.3 356.1L178.1 359.1L176.9 362.1L175.8 365.1L174.7 368.2L173.7 371.3L172.8 374.3L172 377.4L171.2 380.5L170.5 383.7L169.9 386.8L169.3 389.9L168.8 393L168.4 396.2L168.1 399.3L167.8 402.5L167.6 405.6L167.5 408.8L167.4 412L167.4 415.1L167.5 418.3L167.7 421.4L167.9 424.6L168.2 427.7L168.6 430.9L169 434L169.6 437.2L170.2 440.3L170.8 443.4L171.6 446.5L172.4 449.6L173.3 452.7L174.2 455.8L175.2 458.8L176.3 461.9L177.5 464.9L178.7 467.9L180 470.9L181.4 473.9L182.8 476.9L184.3 479.8L185.9 482.7L187.5 485.6L189.2 488.5L191 491.4L192.8 494.2L194.7 497L196.7 499.8L198.7 502.6L200.8 505.3L202.9 508L205.2 510.7L207.4 513.3L209.8 515.9L212.2 518.5L214.6 521L217.1 523.6L219.7 526L222.3 528.5L225 530.9L227.7 533.3L230.5 535.6L233.3 537.9L236.2 540.2L239.2 542.4L242.2 544.6L245.2 546.7L248.3 548.8L251.4 550.9L252.2 551.4" stroke="#081d2c" stroke-dasharray="8.5 9.9" stroke-dashoffset="8.7"/>
<path d="M243.3 549.6L247.5 551.7L251.8 553.8L256.2 555.8L260.6 557.7L265 559.6L269.5 561.4L274 563.2L278.5 564.9L283.1 566.6L287.8 568.2L292.4 569.7L297.1 571.1L301.8 572.5L306.6 573.9L311.4 575.2L316.2 576.4L321.1 577.5L325.9 578.6L330.8 579.6L335.8 580.6L340.7 581.5L345.7 582.3L350.6 583L355.6 583.7L360.7 584.3L365.7 584.9L370.7 585.4L375.8 585.8L380.8 586.2L385.9 586.5L390.9 586.7L396 586.8L401.1 586.9L406.2 586.9L411.2 586.9L416.3 586.8L421.4 586.6L423.9 586.5" stroke="#3a0808"/>
<path d="M646.8 488.4L649.5 485.2L652.2 481.9L654.9 478.6L657.4 475.3L659.9 471.9L662.3 468.5L664.6 465L666.9 461.6L669.1 458.1L671.1 454.5L673.1 451L675.1 447.4L676.9 443.8L678.7 440.2L680.3 436.5L681.9 432.8L683.4 429.1L684.9 425.4L686.2 421.7L687.4 417.9L688.6 414.2L689.7 410.4L690.7 406.6L691.6 402.8L692.4 399L693.1 395.1L693.8 391.3L694.3 387.5L694.8 383.6L695.2 379.7L695.4 375.9L695.6 372L695.8 368.2L695.8 364.3L695.7 360.4L695.6 356.5L695.3 352.7L695.2 350.8" stroke="#3a0808"/>
<path d="M566.5 180.9L562.3 178.8L558 176.7L553.6 174.7L549.2 172.8L544.8 170.9L540.3 169.1L535.8 167.3L531.3 165.6L526.7 163.9L522 162.3L517.4 160.8L512.7 159.4L508 158L503.2 156.6L498.4 155.3L493.6 154.1L488.7 153L483.9 151.9L479 150.9L474 149.9L469.1 149L464.1 148.2L459.2 147.5L454.2 146.8L449.1 146.2L444.1 145.6L439.1 145.1L434 144.7L429 144.3L423.9 144L418.9 143.8L413.8 143.7L408.7 143.6L403.6 143.6L398.6 143.6L393.5 143.7L388.4 143.9L385.9 144" stroke="#3a0808"/>
<path d="M163 242.1L160.3 245.3L157.6 248.6L154.9 251.9L152.4 255.2L149.9 258.6L147.5 262L145.2 265.5L142.9 268.9L140.7 272.4L138.7 276L136.7 279.5L134.7 283.1L132.9 286.7L131.1 290.3L129.5 294L127.9 297.7L126.4 301.4L124.9 305.1L123.6 308.8L122.4 312.6L121.2 316.3L120.1 320.1L119.1 323.9L118.2 327.7L117.4 331.5L116.7 335.4L116 339.2L115.5 343L115 346.9L114.6 350.8L114.4 354.6L114.2 358.5L114 362.3L114 366.2L114.1 370.1L114.2 374L114.5 377.8L114.6 379.7" stroke="#3a0808"/>
<path d="M284.5 556.7L290 558.3L295.5 559.8L301.1 561.2L306.7 562.5L312.3 563.8L318 565L323.6 566.1L329.3 567.2L335.1 568.1L340.8 569L346.6 569.8L352.4 570.6" stroke="#8c0a12" stroke-dasharray="8.5 9.9" stroke-dashoffset="0.0"/>
<path d="M718.5 409.5L720.5 405.3L722.5 401.1L724.3 396.8L726.1 392.6L727.8 388.3L729.3 384L730.8 379.7L732.2 375.3L733.4 371L734.6 366.6L735.7 362.2L736.6 357.8" stroke="#8c0a12" stroke-dasharray="8.5 9.9" stroke-dashoffset="0.0"/>
<path d="M457.4 64.9L463.2 65.7L469 66.5L474.7 67.4L480.5 68.3L486.2 69.4L491.8 70.5L497.5 71.7L503.1 73L508.7 74.3L514.3 75.7L519.8 77.2L525.3 78.8" stroke="#8c0a12" stroke-dasharray="8.5 9.9" stroke-dashoffset="0.0"/>
<path d="M91.3 226L89.3 230.2L87.3 234.4L85.5 238.7L83.7 242.9L82 247.2L80.5 251.5L79 255.8L77.6 260.2L76.4 264.5L75.2 268.9L74.1 273.3L73.2 277.7" stroke="#8c0a12" stroke-dasharray="8.5 9.9" stroke-dashoffset="0.0"/>
</g>
<g fill="none" stroke="#000" stroke-linecap="round">
<path stroke-width="1" d="M48.03 434.87L309.28 779.72M309.28 779.72L761.77 580.63M48.03 434.87L48.03 204.97M761.77 580.63L761.77 350.73M384.28 752.04L378.24 744.06M263.14 726.88L272.29 722.85M487.12 706.79L481.09 698.81M203.76 648.5L212.91 644.47M589.96 661.54L583.93 653.56M144.39 570.13L153.54 566.1M692.81 616.29L686.77 608.31M85.01 491.75L94.16 487.72M43.03 411.12L53.03 411.12M756.77 556.88L766.77 556.88M43.03 363.62L53.03 363.62M756.77 509.38L766.77 509.38M43.03 316.12L53.03 316.12M756.77 461.88L766.77 461.88M43.03 268.62L53.03 268.62M756.77 414.38L766.77 414.38M43.03 221.12L53.03 221.12M756.77 366.88L766.77 366.88"/>
<path stroke-width="2" d="M335.88 778.65L323.81 762.7M288.25 768.08L306.55 760.02M438.72 733.4L426.65 717.45M228.87 689.7L247.18 681.65M541.56 688.15L529.49 672.2M169.5 611.33L187.8 603.27M644.4 642.9L632.33 626.95M110.12 532.95L128.43 524.9M747.24 597.65L735.17 581.7M50.75 454.58L69.05 446.52M38.03 434.87L58.03 434.87M751.77 580.63L771.77 580.63M38.03 387.37L58.03 387.37M751.77 533.13L771.77 533.13M38.03 339.87L58.03 339.87M751.77 485.63L771.77 485.63M38.03 292.37L58.03 292.37M751.77 438.13L771.77 438.13M38.03 244.87L58.03 244.87M751.77 390.63L771.77 390.63"/>
</g>
<g><text x="338.6" y="798.3">-1</text><text x="282.4" y="785.8" text-anchor="end">-1</text><text x="441.5" y="753">-.5</text><text x="223" y="707.5" text-anchor="end">-.5</text><text x="544.3" y="707.8">0</text><text x="163.7" y="629.1" text-anchor="end">0</text><text x="647.2" y="662.5">.5</text><text x="104.3" y="550.7" text-anchor="end">.5</text><text x="750" y="617.3">1</text><text x="44.9" y="472.3" text-anchor="end">1</text><text x="32.6" y="440" text-anchor="end">0</text><text x="776.3" y="585.7">0</text><text x="32.6" y="392.5" text-anchor="end">.5</text><text x="776.3" y="538.2">.5</text><text x="32.6" y="345" text-anchor="end">1</text><text x="776.3" y="490.7">1</text><text x="32.6" y="297.5" text-anchor="end">1.5</text><text x="776.3" y="443.2">1.5</text><text x="32.6" y="250" text-anchor="end">2</text><text x="776.3" y="395.7">2</text><text transform="translate(576.5 740.5) rotate(-23.75)" text-anchor="middle">x axis</text><text transform="translate(114 638.7) rotate(52.85)" text-anchor="middle">y axis</text></g>
<g><rect x="62" y="20" width="282" height="182.5" fill="#fff" fill-opacity="0.667" stroke="#000" stroke-opacity="0.6" stroke-width="1.2"/><text x="68.5" y="48.9">z = x² + y²</text><text transform="translate(166.3 48.9) scale(0.8 1)" style="font-family:DejaVu Sans,sans-serif;font-size:16.5px;stroke-width:0.2px">∈</text><text x="184.2" y="48.9" style="letter-spacing:-0.22px">[2,2.42]</text><rect x="271.4" y="31.7" width="67" height="17.2" fill="#ffcece" stroke="#000" stroke-width="0.67"/><path d="M272.5 48.9H337.3" stroke="#2a0606" stroke-width="2.2" stroke-linecap="round" stroke-dasharray="8.9 8.8"/><text x="68.5" y="83.9">z = x² + y²</text><text transform="translate(166.3 83.9) scale(0.8 1)" style="font-family:DejaVu Sans,sans-serif;font-size:16.5px;stroke-width:0.2px">∈</text><text x="184.2" y="83.9" style="letter-spacing:-0.22px">[1.5,2]</text><rect x="271.4" y="66.7" width="67" height="17.2" fill="#ffe6e6" stroke="#000" stroke-width="0.67"/><path d="M272.5 66.7H337.3" stroke="#2a0606" stroke-width="2.2" stroke-linecap="round" stroke-dasharray="8.9 8.8"/><path d="M272.5 83.9H337.3" stroke="#05121a" stroke-width="2.2" stroke-linecap="round"/><text x="68.5" y="118.9">z = x² + y²</text><text transform="translate(166.3 118.9) scale(0.8 1)" style="font-family:DejaVu Sans,sans-serif;font-size:16.5px;stroke-width:0.2px">∈</text><text x="184.2" y="118.9" style="letter-spacing:-0.22px">[1,1.5]</text><rect x="271.4" y="101.7" width="67" height="17.2" fill="#ffffff" stroke="#000" stroke-width="0.67"/><path d="M272.5 101.7H337.3" stroke="#05121a" stroke-width="2.2" stroke-linecap="round"/><path d="M272.5 118.9H337.3" stroke="#0a2a44" stroke-width="2.2" stroke-linecap="round" stroke-dasharray="8.9 8.8"/><text x="68.5" y="153.9">z = x² + y²</text><text transform="translate(166.3 153.9) scale(0.8 1)" style="font-family:DejaVu Sans,sans-serif;font-size:16.5px;stroke-width:0.2px">∈</text><text x="184.2" y="153.9" style="letter-spacing:-0.22px">[.5,1]</text><rect x="271.4" y="136.7" width="67" height="17.2" fill="#e5fafe" stroke="#000" stroke-width="0.67"/><path d="M272.5 136.7H337.3" stroke="#0a2a44" stroke-width="2.2" stroke-linecap="round" stroke-dasharray="8.9 8.8"/><path d="M272.5 153.9H337.3" stroke="#0a4a72" stroke-width="2.2" stroke-linecap="round"/><text x="68.5" y="188.9">z = x² + y²</text><text transform="translate(166.3 188.9) scale(0.8 1)" style="font-family:DejaVu Sans,sans-serif;font-size:16.5px;stroke-width:0.2px">∈</text><text x="184.2" y="188.9" style="letter-spacing:-0.22px">[0,.5]</text><rect x="271.4" y="171.7" width="67" height="17.2" fill="#cbf6fe" stroke="#000" stroke-width="0.67"/><path d="M272.5 171.7H337.3" stroke="#0a4a72" stroke-width="2.2" stroke-linecap="round"/></g>
</svg></body></html>
